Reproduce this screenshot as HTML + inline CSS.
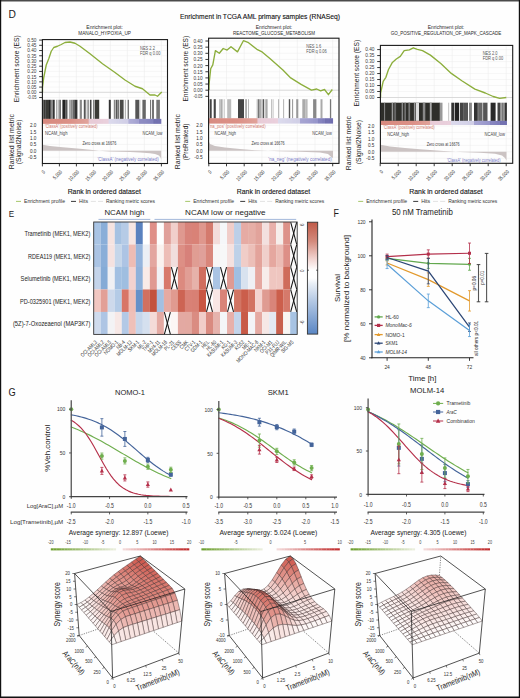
<!DOCTYPE html><html><head><meta charset="utf-8"><style>html,body{margin:0;padding:0;background:#fff;}svg{display:block;}</style></head><body>
<svg width="520" height="698" viewBox="0 0 520 698" font-family='"Liberation Sans", sans-serif'>
<rect x="0" y="0" width="520" height="698" fill="#fefefe"/>
<text x="8.4" y="18.2" font-size="11.25" fill="#1a1a1a" textLength="7.4" lengthAdjust="spacingAndGlyphs">D</text>
<text x="180" y="19.2" font-size="7.75" fill="#111" textLength="160" lengthAdjust="spacingAndGlyphs" stroke="#111" stroke-width="0.12">Enrichment in TCGA AML primary samples (RNASeq)</text>
<line x1="59.4" y1="40.6" x2="59.4" y2="99.8" stroke="#e6e6e6" stroke-width="0.4"/>
<line x1="59.4" y1="123.8" x2="59.4" y2="163.5" stroke="#e6e6e6" stroke-width="0.4"/>
<line x1="76.4" y1="40.6" x2="76.4" y2="99.8" stroke="#e6e6e6" stroke-width="0.4"/>
<line x1="76.4" y1="123.8" x2="76.4" y2="163.5" stroke="#e6e6e6" stroke-width="0.4"/>
<line x1="93.4" y1="40.6" x2="93.4" y2="99.8" stroke="#e6e6e6" stroke-width="0.4"/>
<line x1="93.4" y1="123.8" x2="93.4" y2="163.5" stroke="#e6e6e6" stroke-width="0.4"/>
<line x1="110.4" y1="40.6" x2="110.4" y2="99.8" stroke="#e6e6e6" stroke-width="0.4"/>
<line x1="110.4" y1="123.8" x2="110.4" y2="163.5" stroke="#e6e6e6" stroke-width="0.4"/>
<line x1="127.4" y1="40.6" x2="127.4" y2="99.8" stroke="#e6e6e6" stroke-width="0.4"/>
<line x1="127.4" y1="123.8" x2="127.4" y2="163.5" stroke="#e6e6e6" stroke-width="0.4"/>
<line x1="144.4" y1="40.6" x2="144.4" y2="99.8" stroke="#e6e6e6" stroke-width="0.4"/>
<line x1="144.4" y1="123.8" x2="144.4" y2="163.5" stroke="#e6e6e6" stroke-width="0.4"/>
<line x1="161.4" y1="40.6" x2="161.4" y2="99.8" stroke="#e6e6e6" stroke-width="0.4"/>
<line x1="161.4" y1="123.8" x2="161.4" y2="163.5" stroke="#e6e6e6" stroke-width="0.4"/>
<line x1="42.4" y1="45.32" x2="167.5" y2="45.32" stroke="#ececec" stroke-width="0.4"/>
<line x1="42.4" y1="50.54" x2="167.5" y2="50.54" stroke="#ececec" stroke-width="0.4"/>
<line x1="42.4" y1="55.76" x2="167.5" y2="55.76" stroke="#ececec" stroke-width="0.4"/>
<line x1="42.4" y1="60.98" x2="167.5" y2="60.98" stroke="#ececec" stroke-width="0.4"/>
<line x1="42.4" y1="66.2" x2="167.5" y2="66.2" stroke="#ececec" stroke-width="0.4"/>
<line x1="42.4" y1="71.42" x2="167.5" y2="71.42" stroke="#ececec" stroke-width="0.4"/>
<line x1="42.4" y1="76.64" x2="167.5" y2="76.64" stroke="#ececec" stroke-width="0.4"/>
<line x1="42.4" y1="81.86" x2="167.5" y2="81.86" stroke="#ececec" stroke-width="0.4"/>
<line x1="42.4" y1="87.08" x2="167.5" y2="87.08" stroke="#ececec" stroke-width="0.4"/>
<line x1="42.4" y1="92.3" x2="167.5" y2="92.3" stroke="#ececec" stroke-width="0.4"/>
<line x1="42.4" y1="97.52" x2="167.5" y2="97.52" stroke="#ececec" stroke-width="0.4"/>
<line x1="42.4" y1="92.3" x2="167.5" y2="92.3" stroke="#c8c8c8" stroke-width="0.6"/>
<line x1="42.4" y1="125.4" x2="167.5" y2="125.4" stroke="#ececec" stroke-width="0.4"/>
<line x1="42.4" y1="131.75" x2="167.5" y2="131.75" stroke="#ececec" stroke-width="0.4"/>
<line x1="42.4" y1="138.1" x2="167.5" y2="138.1" stroke="#ececec" stroke-width="0.4"/>
<line x1="42.4" y1="144.45" x2="167.5" y2="144.45" stroke="#ececec" stroke-width="0.4"/>
<line x1="42.4" y1="150.8" x2="167.5" y2="150.8" stroke="#ececec" stroke-width="0.4"/>
<line x1="42.4" y1="157.15" x2="167.5" y2="157.15" stroke="#ececec" stroke-width="0.4"/>
<rect x="42.4" y="99.8" width="1.1" height="19.1" fill="#222"/>
<rect x="43.5" y="99.8" width="1.5" height="19.1" fill="#3a3a36"/>
<rect x="45" y="99.8" width="1" height="19.1" fill="#555"/>
<rect x="46" y="99.8" width="3" height="19.1" fill="#3a3a36"/>
<rect x="49" y="99.8" width="1.8" height="19.1" fill="#222"/>
<rect x="50.8" y="99.8" width="2" height="19.1" fill="#888"/>
<rect x="52.8" y="99.8" width="1.9" height="19.1" fill="#333"/>
<rect x="56.2" y="99.8" width="1.2" height="19.1" fill="#999"/>
<rect x="57.4" y="99.8" width="1.1" height="19.1" fill="#ddd"/>
<rect x="58.5" y="99.8" width="1.1" height="19.1" fill="#888"/>
<rect x="59.6" y="99.8" width="1.2" height="19.1" fill="#555"/>
<rect x="62.4" y="99.8" width="2.6" height="19.1" fill="#222"/>
<rect x="65" y="99.8" width="1.2" height="19.1" fill="#666"/>
<rect x="66.2" y="99.8" width="1.2" height="19.1" fill="#333"/>
<rect x="68.9" y="99.8" width="2.1" height="19.1" fill="#aaa"/>
<rect x="71" y="99.8" width="1.7" height="19.1" fill="#888"/>
<rect x="72.7" y="99.8" width="1.6" height="19.1" fill="#666"/>
<rect x="74.3" y="99.8" width="3.1" height="19.1" fill="#333"/>
<rect x="79.7" y="99.8" width="2.2" height="19.1" fill="#888"/>
<rect x="83.8" y="99.8" width="2" height="19.1" fill="#555"/>
<rect x="85.8" y="99.8" width="1.5" height="19.1" fill="#ddd"/>
<rect x="87.3" y="99.8" width="1.9" height="19.1" fill="#999"/>
<rect x="90" y="99.8" width="1.5" height="19.1" fill="#444"/>
<rect x="93.1" y="99.8" width="1.5" height="19.1" fill="#777"/>
<rect x="95" y="99.8" width="4.2" height="19.1" fill="#3a3a36"/>
<rect x="108.8" y="99.8" width="2" height="19.1" fill="#333"/>
<rect x="113.8" y="99.8" width="1.6" height="19.1" fill="#888"/>
<rect x="115.8" y="99.8" width="1.7" height="19.1" fill="#555"/>
<rect x="117.5" y="99.8" width="1.7" height="19.1" fill="#777"/>
<rect x="119.9" y="99.8" width="3.7" height="19.1" fill="#4a4a48"/>
<rect x="124.9" y="99.8" width="0.7" height="19.1" fill="#888"/>
<rect x="127.6" y="99.8" width="1.3" height="19.1" fill="#666"/>
<rect x="135.3" y="99.8" width="3.7" height="19.1" fill="#555"/>
<rect x="139.5" y="99.8" width="0.7" height="19.1" fill="#888"/>
<rect x="142.4" y="99.8" width="3.4" height="19.1" fill="#666"/>
<rect x="150" y="99.8" width="1.1" height="19.1" fill="#777"/>
<rect x="152.2" y="99.8" width="1.6" height="19.1" fill="#555"/>
<rect x="156.3" y="99.8" width="3.6" height="19.1" fill="#777"/>
<rect x="42.4" y="118.9" width="0.55" height="4.9" fill="#cd6a5c"/>
<rect x="42.9" y="118.9" width="0.55" height="4.9" fill="#cd6a5c"/>
<rect x="43.4" y="118.9" width="0.55" height="4.9" fill="#cd6a5d"/>
<rect x="43.91" y="118.9" width="0.55" height="4.9" fill="#cd6b5d"/>
<rect x="44.41" y="118.9" width="0.55" height="4.9" fill="#cd6b5d"/>
<rect x="44.91" y="118.9" width="0.55" height="4.9" fill="#ce6b5d"/>
<rect x="45.41" y="118.9" width="0.55" height="4.9" fill="#ce6b5d"/>
<rect x="45.91" y="118.9" width="0.55" height="4.9" fill="#ce6b5e"/>
<rect x="46.41" y="118.9" width="0.55" height="4.9" fill="#ce6c5e"/>
<rect x="46.92" y="118.9" width="0.55" height="4.9" fill="#ce6c5e"/>
<rect x="47.42" y="118.9" width="0.55" height="4.9" fill="#ce6c5e"/>
<rect x="47.92" y="118.9" width="0.55" height="4.9" fill="#ce6c5f"/>
<rect x="48.42" y="118.9" width="0.55" height="4.9" fill="#ce6c5f"/>
<rect x="48.92" y="118.9" width="0.55" height="4.9" fill="#ce6c5f"/>
<rect x="49.43" y="118.9" width="0.55" height="4.9" fill="#ce6d5f"/>
<rect x="49.93" y="118.9" width="0.55" height="4.9" fill="#ce6d5f"/>
<rect x="50.43" y="118.9" width="0.55" height="4.9" fill="#ce6d60"/>
<rect x="50.93" y="118.9" width="0.55" height="4.9" fill="#cf6d60"/>
<rect x="51.43" y="118.9" width="0.55" height="4.9" fill="#cf6d60"/>
<rect x="51.93" y="118.9" width="0.55" height="4.9" fill="#cf6e60"/>
<rect x="52.44" y="118.9" width="0.55" height="4.9" fill="#cf6e60"/>
<rect x="52.94" y="118.9" width="0.55" height="4.9" fill="#cf6e61"/>
<rect x="53.44" y="118.9" width="0.55" height="4.9" fill="#cf6e61"/>
<rect x="53.94" y="118.9" width="0.55" height="4.9" fill="#cf6e61"/>
<rect x="54.44" y="118.9" width="0.55" height="4.9" fill="#cf6e61"/>
<rect x="54.95" y="118.9" width="0.55" height="4.9" fill="#cf6f62"/>
<rect x="55.45" y="118.9" width="0.55" height="4.9" fill="#cf6f62"/>
<rect x="55.95" y="118.9" width="0.55" height="4.9" fill="#d06f62"/>
<rect x="56.45" y="118.9" width="0.55" height="4.9" fill="#d06f62"/>
<rect x="56.95" y="118.9" width="0.55" height="4.9" fill="#d06f62"/>
<rect x="57.45" y="118.9" width="0.55" height="4.9" fill="#d07063"/>
<rect x="57.96" y="118.9" width="0.55" height="4.9" fill="#d07063"/>
<rect x="58.46" y="118.9" width="0.55" height="4.9" fill="#d07063"/>
<rect x="58.96" y="118.9" width="0.55" height="4.9" fill="#d07063"/>
<rect x="59.46" y="118.9" width="0.55" height="4.9" fill="#d07064"/>
<rect x="59.96" y="118.9" width="0.55" height="4.9" fill="#d07064"/>
<rect x="60.47" y="118.9" width="0.55" height="4.9" fill="#d07164"/>
<rect x="60.97" y="118.9" width="0.55" height="4.9" fill="#d07164"/>
<rect x="61.47" y="118.9" width="0.55" height="4.9" fill="#d07164"/>
<rect x="61.97" y="118.9" width="0.55" height="4.9" fill="#d17165"/>
<rect x="62.47" y="118.9" width="0.55" height="4.9" fill="#d17165"/>
<rect x="62.97" y="118.9" width="0.55" height="4.9" fill="#d17265"/>
<rect x="63.48" y="118.9" width="0.55" height="4.9" fill="#d17265"/>
<rect x="63.98" y="118.9" width="0.55" height="4.9" fill="#d17265"/>
<rect x="64.48" y="118.9" width="0.55" height="4.9" fill="#d17266"/>
<rect x="64.98" y="118.9" width="0.55" height="4.9" fill="#d17266"/>
<rect x="65.48" y="118.9" width="0.55" height="4.9" fill="#d17266"/>
<rect x="65.99" y="118.9" width="0.55" height="4.9" fill="#d17366"/>
<rect x="66.49" y="118.9" width="0.55" height="4.9" fill="#d17367"/>
<rect x="66.99" y="118.9" width="0.55" height="4.9" fill="#d27367"/>
<rect x="67.49" y="118.9" width="0.55" height="4.9" fill="#d27367"/>
<rect x="67.99" y="118.9" width="0.55" height="4.9" fill="#d27367"/>
<rect x="68.49" y="118.9" width="0.55" height="4.9" fill="#d27467"/>
<rect x="69" y="118.9" width="0.55" height="4.9" fill="#d27468"/>
<rect x="69.5" y="118.9" width="0.55" height="4.9" fill="#d27468"/>
<rect x="70" y="118.9" width="0.56" height="4.9" fill="#d27468"/>
<rect x="70.51" y="118.9" width="0.56" height="4.9" fill="#d27569"/>
<rect x="71.01" y="118.9" width="0.56" height="4.9" fill="#d2756a"/>
<rect x="71.52" y="118.9" width="0.56" height="4.9" fill="#d3766a"/>
<rect x="72.02" y="118.9" width="0.56" height="4.9" fill="#d3776b"/>
<rect x="72.53" y="118.9" width="0.56" height="4.9" fill="#d3776c"/>
<rect x="73.03" y="118.9" width="0.56" height="4.9" fill="#d3786c"/>
<rect x="73.54" y="118.9" width="0.56" height="4.9" fill="#d3786d"/>
<rect x="74.04" y="118.9" width="0.56" height="4.9" fill="#d3796e"/>
<rect x="74.55" y="118.9" width="0.56" height="4.9" fill="#d47a6e"/>
<rect x="75.05" y="118.9" width="0.56" height="4.9" fill="#d47a6f"/>
<rect x="75.56" y="118.9" width="0.56" height="4.9" fill="#d47b6f"/>
<rect x="76.06" y="118.9" width="0.56" height="4.9" fill="#d47b70"/>
<rect x="76.57" y="118.9" width="0.56" height="4.9" fill="#d47c71"/>
<rect x="77.08" y="118.9" width="0.56" height="4.9" fill="#d47d71"/>
<rect x="77.58" y="118.9" width="0.56" height="4.9" fill="#d57d72"/>
<rect x="78.09" y="118.9" width="0.56" height="4.9" fill="#d57e73"/>
<rect x="78.59" y="118.9" width="0.56" height="4.9" fill="#d57e73"/>
<rect x="79.1" y="118.9" width="0.56" height="4.9" fill="#d57f74"/>
<rect x="79.6" y="118.9" width="0.56" height="4.9" fill="#d58075"/>
<rect x="80.11" y="118.9" width="0.56" height="4.9" fill="#d58075"/>
<rect x="80.61" y="118.9" width="0.56" height="4.9" fill="#d58176"/>
<rect x="81.12" y="118.9" width="0.56" height="4.9" fill="#d68177"/>
<rect x="81.62" y="118.9" width="0.56" height="4.9" fill="#d68277"/>
<rect x="82.13" y="118.9" width="0.56" height="4.9" fill="#d68378"/>
<rect x="82.64" y="118.9" width="0.56" height="4.9" fill="#d68379"/>
<rect x="83.14" y="118.9" width="0.56" height="4.9" fill="#d68479"/>
<rect x="83.65" y="118.9" width="0.56" height="4.9" fill="#d6847a"/>
<rect x="84.15" y="118.9" width="0.56" height="4.9" fill="#d7857a"/>
<rect x="84.66" y="118.9" width="0.56" height="4.9" fill="#d7867b"/>
<rect x="85.16" y="118.9" width="0.56" height="4.9" fill="#d7867c"/>
<rect x="85.67" y="118.9" width="0.56" height="4.9" fill="#d7877c"/>
<rect x="86.17" y="118.9" width="0.56" height="4.9" fill="#d7877d"/>
<rect x="86.68" y="118.9" width="0.56" height="4.9" fill="#d7887e"/>
<rect x="87.18" y="118.9" width="0.56" height="4.9" fill="#d8897e"/>
<rect x="87.69" y="118.9" width="0.56" height="4.9" fill="#d8897f"/>
<rect x="88.19" y="118.9" width="0.56" height="4.9" fill="#d88a80"/>
<rect x="88.7" y="118.9" width="0.15" height="4.9" fill="#dda3a6"/>
<rect x="88.8" y="118.9" width="0.56" height="4.9" fill="#e2bccb"/>
<rect x="89.31" y="118.9" width="0.56" height="4.9" fill="#e2bccb"/>
<rect x="89.82" y="118.9" width="0.56" height="4.9" fill="#e2bdcc"/>
<rect x="90.33" y="118.9" width="0.56" height="4.9" fill="#e2bdcc"/>
<rect x="90.84" y="118.9" width="0.56" height="4.9" fill="#e2bdcc"/>
<rect x="91.35" y="118.9" width="0.56" height="4.9" fill="#e2bdcc"/>
<rect x="91.86" y="118.9" width="0.56" height="4.9" fill="#e2bdcc"/>
<rect x="92.37" y="118.9" width="0.56" height="4.9" fill="#e2becd"/>
<rect x="92.88" y="118.9" width="0.56" height="4.9" fill="#e2becd"/>
<rect x="93.39" y="118.9" width="0.56" height="4.9" fill="#e2becd"/>
<rect x="93.9" y="118.9" width="0.56" height="4.9" fill="#e3becd"/>
<rect x="94.41" y="118.9" width="0.56" height="4.9" fill="#e3bece"/>
<rect x="94.92" y="118.9" width="0.56" height="4.9" fill="#e3bfce"/>
<rect x="95.43" y="118.9" width="0.56" height="4.9" fill="#e3bfce"/>
<rect x="95.94" y="118.9" width="0.56" height="4.9" fill="#e3bfce"/>
<rect x="96.45" y="118.9" width="0.56" height="4.9" fill="#e3bfcf"/>
<rect x="96.96" y="118.9" width="0.56" height="4.9" fill="#e3bfcf"/>
<rect x="97.47" y="118.9" width="0.56" height="4.9" fill="#e3c0cf"/>
<rect x="97.98" y="118.9" width="0.56" height="4.9" fill="#e3c0cf"/>
<rect x="98.49" y="118.9" width="0.56" height="4.9" fill="#e3c0d0"/>
<rect x="99.01" y="118.9" width="0.56" height="4.9" fill="#e3c0d0"/>
<rect x="99.52" y="118.9" width="0.56" height="4.9" fill="#e3c0d0"/>
<rect x="100.03" y="118.9" width="0.56" height="4.9" fill="#e3c1d0"/>
<rect x="100.54" y="118.9" width="0.56" height="4.9" fill="#e3c1d0"/>
<rect x="101.05" y="118.9" width="0.56" height="4.9" fill="#e3c1d1"/>
<rect x="101.56" y="118.9" width="0.56" height="4.9" fill="#e3c1d1"/>
<rect x="102.07" y="118.9" width="0.56" height="4.9" fill="#e3c1d1"/>
<rect x="102.58" y="118.9" width="0.56" height="4.9" fill="#e3c2d1"/>
<rect x="103.09" y="118.9" width="0.56" height="4.9" fill="#e3c2d2"/>
<rect x="103.6" y="118.9" width="0.56" height="4.9" fill="#e4c2d2"/>
<rect x="104.11" y="118.9" width="0.56" height="4.9" fill="#e4c2d2"/>
<rect x="104.62" y="118.9" width="0.56" height="4.9" fill="#e4c2d2"/>
<rect x="105.13" y="118.9" width="0.56" height="4.9" fill="#e4c3d2"/>
<rect x="105.64" y="118.9" width="0.56" height="4.9" fill="#e4c3d3"/>
<rect x="106.15" y="118.9" width="0.56" height="4.9" fill="#e4c3d3"/>
<rect x="106.66" y="118.9" width="0.56" height="4.9" fill="#e4c3d3"/>
<rect x="107.17" y="118.9" width="0.56" height="4.9" fill="#e4c3d3"/>
<rect x="107.68" y="118.9" width="0.56" height="4.9" fill="#e4c4d4"/>
<rect x="108.19" y="118.9" width="0.56" height="4.9" fill="#e4c4d4"/>
<rect x="108.7" y="118.9" width="0.15" height="4.9" fill="#dbcade"/>
<rect x="108.8" y="118.9" width="0.56" height="4.9" fill="#d2d0e8"/>
<rect x="109.31" y="118.9" width="0.56" height="4.9" fill="#d1cfe8"/>
<rect x="109.81" y="118.9" width="0.56" height="4.9" fill="#d1cfe7"/>
<rect x="110.32" y="118.9" width="0.56" height="4.9" fill="#d1cfe7"/>
<rect x="110.82" y="118.9" width="0.56" height="4.9" fill="#d0cee7"/>
<rect x="111.33" y="118.9" width="0.56" height="4.9" fill="#d0cee7"/>
<rect x="111.83" y="118.9" width="0.56" height="4.9" fill="#d0cee7"/>
<rect x="112.34" y="118.9" width="0.56" height="4.9" fill="#cfcde6"/>
<rect x="112.84" y="118.9" width="0.56" height="4.9" fill="#cfcde6"/>
<rect x="113.35" y="118.9" width="0.56" height="4.9" fill="#cfcde6"/>
<rect x="113.85" y="118.9" width="0.56" height="4.9" fill="#cecce6"/>
<rect x="114.36" y="118.9" width="0.56" height="4.9" fill="#cecce6"/>
<rect x="114.86" y="118.9" width="0.56" height="4.9" fill="#cecce5"/>
<rect x="115.37" y="118.9" width="0.56" height="4.9" fill="#cdcbe5"/>
<rect x="115.87" y="118.9" width="0.56" height="4.9" fill="#cdcbe5"/>
<rect x="116.38" y="118.9" width="0.56" height="4.9" fill="#cccae5"/>
<rect x="116.88" y="118.9" width="0.56" height="4.9" fill="#cccae5"/>
<rect x="117.39" y="118.9" width="0.56" height="4.9" fill="#cccae4"/>
<rect x="117.89" y="118.9" width="0.56" height="4.9" fill="#cbc9e4"/>
<rect x="118.4" y="118.9" width="0.56" height="4.9" fill="#cbc9e4"/>
<rect x="118.9" y="118.9" width="0.56" height="4.9" fill="#cbc9e4"/>
<rect x="119.41" y="118.9" width="0.56" height="4.9" fill="#cac8e4"/>
<rect x="119.91" y="118.9" width="0.56" height="4.9" fill="#cac8e3"/>
<rect x="120.42" y="118.9" width="0.56" height="4.9" fill="#cac8e3"/>
<rect x="120.92" y="118.9" width="0.56" height="4.9" fill="#c9c7e3"/>
<rect x="121.43" y="118.9" width="0.56" height="4.9" fill="#c9c7e3"/>
<rect x="121.93" y="118.9" width="0.56" height="4.9" fill="#c8c6e3"/>
<rect x="122.44" y="118.9" width="0.56" height="4.9" fill="#c8c6e2"/>
<rect x="122.94" y="118.9" width="0.56" height="4.9" fill="#c8c6e2"/>
<rect x="123.45" y="118.9" width="0.56" height="4.9" fill="#c7c5e2"/>
<rect x="123.95" y="118.9" width="0.56" height="4.9" fill="#c7c5e2"/>
<rect x="124.46" y="118.9" width="0.56" height="4.9" fill="#c7c5e2"/>
<rect x="124.96" y="118.9" width="0.56" height="4.9" fill="#c6c4e1"/>
<rect x="125.47" y="118.9" width="0.56" height="4.9" fill="#c6c4e1"/>
<rect x="125.97" y="118.9" width="0.56" height="4.9" fill="#c6c4e1"/>
<rect x="126.48" y="118.9" width="0.56" height="4.9" fill="#c5c3e1"/>
<rect x="126.98" y="118.9" width="0.56" height="4.9" fill="#c5c3e1"/>
<rect x="127.49" y="118.9" width="0.56" height="4.9" fill="#c5c3e0"/>
<rect x="127.99" y="118.9" width="0.56" height="4.9" fill="#c4c2e0"/>
<rect x="128.5" y="118.9" width="0.15" height="4.9" fill="#afadd6"/>
<rect x="128.6" y="118.9" width="0.57" height="4.9" fill="#9a98cc"/>
<rect x="129.12" y="118.9" width="0.57" height="4.9" fill="#9997cb"/>
<rect x="129.64" y="118.9" width="0.57" height="4.9" fill="#9896cb"/>
<rect x="130.16" y="118.9" width="0.57" height="4.9" fill="#9795cb"/>
<rect x="130.68" y="118.9" width="0.57" height="4.9" fill="#9694ca"/>
<rect x="131.2" y="118.9" width="0.57" height="4.9" fill="#9694ca"/>
<rect x="131.72" y="118.9" width="0.57" height="4.9" fill="#9593c9"/>
<rect x="132.24" y="118.9" width="0.57" height="4.9" fill="#9492c9"/>
<rect x="132.76" y="118.9" width="0.57" height="4.9" fill="#9391c9"/>
<rect x="133.28" y="118.9" width="0.57" height="4.9" fill="#9290c8"/>
<rect x="133.8" y="118.9" width="0.57" height="4.9" fill="#9290c8"/>
<rect x="134.32" y="118.9" width="0.57" height="4.9" fill="#918fc7"/>
<rect x="134.84" y="118.9" width="0.57" height="4.9" fill="#908ec7"/>
<rect x="135.36" y="118.9" width="0.57" height="4.9" fill="#8f8dc7"/>
<rect x="135.88" y="118.9" width="0.57" height="4.9" fill="#8e8cc6"/>
<rect x="136.4" y="118.9" width="0.57" height="4.9" fill="#8e8cc6"/>
<rect x="136.92" y="118.9" width="0.57" height="4.9" fill="#8d8bc5"/>
<rect x="137.44" y="118.9" width="0.57" height="4.9" fill="#8c8ac5"/>
<rect x="137.96" y="118.9" width="0.57" height="4.9" fill="#8b89c5"/>
<rect x="138.48" y="118.9" width="0.57" height="4.9" fill="#8a88c4"/>
<rect x="139" y="118.9" width="0.15" height="4.9" fill="#7c7abb"/>
<rect x="139.1" y="118.9" width="0.56" height="4.9" fill="#6e6cb2"/>
<rect x="139.61" y="118.9" width="0.56" height="4.9" fill="#6d6bb2"/>
<rect x="140.13" y="118.9" width="0.56" height="4.9" fill="#6d6bb1"/>
<rect x="140.64" y="118.9" width="0.56" height="4.9" fill="#6c6bb1"/>
<rect x="141.16" y="118.9" width="0.56" height="4.9" fill="#6c6ab1"/>
<rect x="141.67" y="118.9" width="0.56" height="4.9" fill="#6c6ab1"/>
<rect x="142.19" y="118.9" width="0.56" height="4.9" fill="#6b6ab1"/>
<rect x="142.7" y="118.9" width="0.56" height="4.9" fill="#6b69b0"/>
<rect x="143.21" y="118.9" width="0.56" height="4.9" fill="#6a69b0"/>
<rect x="143.73" y="118.9" width="0.56" height="4.9" fill="#6a69b0"/>
<rect x="144.24" y="118.9" width="0.56" height="4.9" fill="#6a68b0"/>
<rect x="144.76" y="118.9" width="0.56" height="4.9" fill="#6968b0"/>
<rect x="145.27" y="118.9" width="0.56" height="4.9" fill="#6968af"/>
<rect x="145.79" y="118.9" width="0.56" height="4.9" fill="#6867af"/>
<rect x="146.3" y="118.9" width="0.56" height="4.9" fill="#6867af"/>
<rect x="146.81" y="118.9" width="0.56" height="4.9" fill="#6766af"/>
<rect x="147.33" y="118.9" width="0.56" height="4.9" fill="#6766ae"/>
<rect x="147.84" y="118.9" width="0.56" height="4.9" fill="#6666ae"/>
<rect x="148.36" y="118.9" width="0.56" height="4.9" fill="#6665ae"/>
<rect x="148.87" y="118.9" width="0.56" height="4.9" fill="#6665ae"/>
<rect x="149.39" y="118.9" width="0.56" height="4.9" fill="#6565ae"/>
<rect x="149.9" y="118.9" width="0.56" height="4.9" fill="#6564ad"/>
<rect x="150.41" y="118.9" width="0.56" height="4.9" fill="#6464ad"/>
<rect x="150.93" y="118.9" width="0.56" height="4.9" fill="#6464ad"/>
<rect x="151.44" y="118.9" width="0.56" height="4.9" fill="#6463ad"/>
<rect x="151.96" y="118.9" width="0.56" height="4.9" fill="#6363ad"/>
<rect x="152.47" y="118.9" width="0.56" height="4.9" fill="#6363ac"/>
<rect x="152.99" y="118.9" width="0.56" height="4.9" fill="#6262ac"/>
<rect x="153.5" y="118.9" width="0.15" height="4.9" fill="#5756a3"/>
<rect x="153.6" y="118.9" width="0.56" height="4.9" fill="#4c4a9a"/>
<rect x="154.11" y="118.9" width="0.56" height="4.9" fill="#4c4a9a"/>
<rect x="154.61" y="118.9" width="0.56" height="4.9" fill="#4c4a9a"/>
<rect x="155.12" y="118.9" width="0.56" height="4.9" fill="#4c4a9a"/>
<rect x="155.63" y="118.9" width="0.56" height="4.9" fill="#4b499a"/>
<rect x="156.13" y="118.9" width="0.56" height="4.9" fill="#4b499a"/>
<rect x="156.64" y="118.9" width="0.56" height="4.9" fill="#4b499a"/>
<rect x="157.15" y="118.9" width="0.56" height="4.9" fill="#4b499a"/>
<rect x="157.65" y="118.9" width="0.56" height="4.9" fill="#4b499a"/>
<rect x="158.16" y="118.9" width="0.56" height="4.9" fill="#4b499a"/>
<rect x="158.67" y="118.9" width="0.56" height="4.9" fill="#4b499a"/>
<rect x="159.17" y="118.9" width="0.56" height="4.9" fill="#4a489a"/>
<rect x="159.68" y="118.9" width="0.56" height="4.9" fill="#4a489a"/>
<rect x="160.19" y="118.9" width="0.56" height="4.9" fill="#4a489a"/>
<rect x="160.69" y="118.9" width="0.56" height="4.9" fill="#4a489a"/>
<polygon points="42.4,150.8 42.6,144.8 50,146 60,147 80,148.8 95,150.2 99,150.8 110,151.5 130,152 140,152.5 150,153.2 155,154 159,155.5 160.5,157.5 161.2,159.5 161.2,150.8" fill="#cbc3c3" stroke="none" stroke-width="1"/>
<polyline points="42.5,92.3 42.5,87.5 43.75,77.5 46.25,65 48.75,58.75 51.25,51.25 53.75,47.5 57.5,46.25 61.25,44.5 65,42.5 70,42 75,43.25 80,46.25 90,53.75 102.5,63.75 115,72.5 125,80 135,86.25 142.5,88.75 150,95 155,95 157.5,96.25 161.75,92" fill="none" stroke="#8cae3c" stroke-width="1.35" stroke-linejoin="round"/>
<rect x="42.4" y="39.6" width="125.1" height="123.9" fill="none" stroke="#1a1a1a" stroke-width="1.1"/>
<line x1="39.2" y1="40.1" x2="42.4" y2="40.1" stroke="#222" stroke-width="0.9"/>
<text x="36.4" y="42" font-size="5.25" fill="#3a3a3a" text-anchor="end" textLength="9.2" lengthAdjust="spacingAndGlyphs">0.50</text>
<line x1="39.2" y1="45.32" x2="42.4" y2="45.32" stroke="#222" stroke-width="0.9"/>
<text x="36.4" y="47.22" font-size="5.25" fill="#3a3a3a" text-anchor="end" textLength="9.2" lengthAdjust="spacingAndGlyphs">0.45</text>
<line x1="39.2" y1="50.54" x2="42.4" y2="50.54" stroke="#222" stroke-width="0.9"/>
<text x="36.4" y="52.44" font-size="5.25" fill="#3a3a3a" text-anchor="end" textLength="9.2" lengthAdjust="spacingAndGlyphs">0.40</text>
<line x1="39.2" y1="55.76" x2="42.4" y2="55.76" stroke="#222" stroke-width="0.9"/>
<text x="36.4" y="57.66" font-size="5.25" fill="#3a3a3a" text-anchor="end" textLength="9.2" lengthAdjust="spacingAndGlyphs">0.35</text>
<line x1="39.2" y1="60.98" x2="42.4" y2="60.98" stroke="#222" stroke-width="0.9"/>
<text x="36.4" y="62.88" font-size="5.25" fill="#3a3a3a" text-anchor="end" textLength="9.2" lengthAdjust="spacingAndGlyphs">0.30</text>
<line x1="39.2" y1="66.2" x2="42.4" y2="66.2" stroke="#222" stroke-width="0.9"/>
<text x="36.4" y="68.1" font-size="5.25" fill="#3a3a3a" text-anchor="end" textLength="9.2" lengthAdjust="spacingAndGlyphs">0.25</text>
<line x1="39.2" y1="71.42" x2="42.4" y2="71.42" stroke="#222" stroke-width="0.9"/>
<text x="36.4" y="73.32" font-size="5.25" fill="#3a3a3a" text-anchor="end" textLength="9.2" lengthAdjust="spacingAndGlyphs">0.20</text>
<line x1="39.2" y1="76.64" x2="42.4" y2="76.64" stroke="#222" stroke-width="0.9"/>
<text x="36.4" y="78.54" font-size="5.25" fill="#3a3a3a" text-anchor="end" textLength="9.2" lengthAdjust="spacingAndGlyphs">0.15</text>
<line x1="39.2" y1="81.86" x2="42.4" y2="81.86" stroke="#222" stroke-width="0.9"/>
<text x="36.4" y="83.76" font-size="5.25" fill="#3a3a3a" text-anchor="end" textLength="9.2" lengthAdjust="spacingAndGlyphs">0.10</text>
<line x1="39.2" y1="87.08" x2="42.4" y2="87.08" stroke="#222" stroke-width="0.9"/>
<text x="36.4" y="88.98" font-size="5.25" fill="#3a3a3a" text-anchor="end" textLength="9.2" lengthAdjust="spacingAndGlyphs">0.05</text>
<line x1="39.2" y1="92.3" x2="42.4" y2="92.3" stroke="#222" stroke-width="0.9"/>
<text x="36.4" y="94.2" font-size="5.25" fill="#3a3a3a" text-anchor="end" textLength="9.2" lengthAdjust="spacingAndGlyphs">0.00</text>
<line x1="39.2" y1="97.52" x2="42.4" y2="97.52" stroke="#222" stroke-width="0.9"/>
<text x="36.4" y="99.42" font-size="5.25" fill="#3a3a3a" text-anchor="end" textLength="9.2" lengthAdjust="spacingAndGlyphs">-0.05</text>
<text x="36.4" y="127.3" font-size="5.25" fill="#2a2a2a" text-anchor="end" textLength="6.4" lengthAdjust="spacingAndGlyphs">2.0</text>
<text x="36.4" y="133.65" font-size="5.25" fill="#2a2a2a" text-anchor="end" textLength="6.4" lengthAdjust="spacingAndGlyphs">1.5</text>
<text x="36.4" y="140" font-size="5.25" fill="#2a2a2a" text-anchor="end" textLength="6.4" lengthAdjust="spacingAndGlyphs">1.0</text>
<text x="36.4" y="146.35" font-size="5.25" fill="#2a2a2a" text-anchor="end" textLength="6.4" lengthAdjust="spacingAndGlyphs">0.5</text>
<text x="36.4" y="152.7" font-size="5.25" fill="#2a2a2a" text-anchor="end" textLength="6.4" lengthAdjust="spacingAndGlyphs">0.0</text>
<text x="36.4" y="159.05" font-size="5.25" fill="#2a2a2a" text-anchor="end" textLength="8.3" lengthAdjust="spacingAndGlyphs">-0.5</text>
<line x1="42.4" y1="163.5" x2="42.4" y2="166.4" stroke="#222" stroke-width="0.9"/>
<text x="45.5" y="172.4" font-size="5.25" fill="#2a2a2a" text-anchor="end" transform="rotate(-45 45.5 172.4)" textLength="2.34" lengthAdjust="spacingAndGlyphs">0</text>
<line x1="59.4" y1="163.5" x2="59.4" y2="166.4" stroke="#222" stroke-width="0.9"/>
<text x="62.5" y="172.4" font-size="5.25" fill="#2a2a2a" text-anchor="end" transform="rotate(-45 62.5 172.4)" textLength="10.51" lengthAdjust="spacingAndGlyphs">5,000</text>
<line x1="76.4" y1="163.5" x2="76.4" y2="166.4" stroke="#222" stroke-width="0.9"/>
<text x="79.5" y="172.4" font-size="5.25" fill="#2a2a2a" text-anchor="end" transform="rotate(-45 79.5 172.4)" textLength="12.85" lengthAdjust="spacingAndGlyphs">10,000</text>
<line x1="93.4" y1="163.5" x2="93.4" y2="166.4" stroke="#222" stroke-width="0.9"/>
<text x="96.5" y="172.4" font-size="5.25" fill="#2a2a2a" text-anchor="end" transform="rotate(-45 96.5 172.4)" textLength="12.85" lengthAdjust="spacingAndGlyphs">15,000</text>
<line x1="110.4" y1="163.5" x2="110.4" y2="166.4" stroke="#222" stroke-width="0.9"/>
<text x="113.5" y="172.4" font-size="5.25" fill="#2a2a2a" text-anchor="end" transform="rotate(-45 113.5 172.4)" textLength="12.85" lengthAdjust="spacingAndGlyphs">20,000</text>
<line x1="127.4" y1="163.5" x2="127.4" y2="166.4" stroke="#222" stroke-width="0.9"/>
<text x="130.5" y="172.4" font-size="5.25" fill="#2a2a2a" text-anchor="end" transform="rotate(-45 130.5 172.4)" textLength="12.85" lengthAdjust="spacingAndGlyphs">25,000</text>
<line x1="144.4" y1="163.5" x2="144.4" y2="166.4" stroke="#222" stroke-width="0.9"/>
<text x="147.5" y="172.4" font-size="5.25" fill="#2a2a2a" text-anchor="end" transform="rotate(-45 147.5 172.4)" textLength="12.85" lengthAdjust="spacingAndGlyphs">30,000</text>
<line x1="161.4" y1="163.5" x2="161.4" y2="166.4" stroke="#222" stroke-width="0.9"/>
<text x="164.5" y="172.4" font-size="5.25" fill="#2a2a2a" text-anchor="end" transform="rotate(-45 164.5 172.4)" textLength="12.85" lengthAdjust="spacingAndGlyphs">35,000</text>
<text x="104.3" y="193.6" font-size="7.56" fill="#1a1a1a" text-anchor="middle" textLength="73.3" lengthAdjust="spacingAndGlyphs" stroke="#1a1a1a" stroke-width="0.15">Rank in ordered dataset</text>
<text x="19" y="68.8" font-size="7.56" fill="#222" text-anchor="middle" transform="rotate(-90 19 68.8)" textLength="67" lengthAdjust="spacingAndGlyphs">Enrichment score (ES)</text>
<text x="14" y="141.6" font-size="7.56" fill="#222" text-anchor="middle" transform="rotate(-90 14 141.6)" textLength="55.3" lengthAdjust="spacingAndGlyphs">Ranked list metric</text>
<text x="21.2" y="141.9" font-size="7.56" fill="#222" text-anchor="middle" transform="rotate(-90 21.2 141.9)" textLength="44.6" lengthAdjust="spacingAndGlyphs">(Signal2Noise)</text>
<text x="104.6" y="28.8" font-size="5.5" fill="#2a2a2a" text-anchor="middle" textLength="36.5" lengthAdjust="spacingAndGlyphs">Enrichment plot:</text>
<text x="104.6" y="35.2" font-size="5.5" fill="#2a2a2a" text-anchor="middle" textLength="52.8" lengthAdjust="spacingAndGlyphs">MANALO_HYPOXIA_UP</text>
<text x="140" y="50.2" font-size="5" fill="#555" textLength="14.9" lengthAdjust="spacingAndGlyphs">NES 2.2</text>
<text x="140" y="55.2" font-size="5" fill="#555" textLength="20.45" lengthAdjust="spacingAndGlyphs">FDR q 0.00</text>
<text x="45" y="127.8" font-size="4.88" fill="#d0786c" textLength="52.5" lengthAdjust="spacingAndGlyphs">'ClassA' (positively correlated)</text>
<text x="45" y="135.3" font-size="4.88" fill="#444" textLength="22.5" lengthAdjust="spacingAndGlyphs">NCAM_high</text>
<text x="162.5" y="135.3" font-size="4.88" fill="#444" text-anchor="end" textLength="20" lengthAdjust="spacingAndGlyphs">NCAM_low</text>
<text x="99.4" y="145.3" font-size="4.88" fill="#444" text-anchor="middle" textLength="33.7" lengthAdjust="spacingAndGlyphs">Zero cross at 16676</text>
<text x="97.5" y="161" font-size="4.88" fill="#7777c4" textLength="61.2" lengthAdjust="spacingAndGlyphs">'ClassA' (negatively correlated)</text>
<line x1="226.5" y1="39.2" x2="226.5" y2="99.2" stroke="#e6e6e6" stroke-width="0.4"/>
<line x1="226.5" y1="123.5" x2="226.5" y2="163.4" stroke="#e6e6e6" stroke-width="0.4"/>
<line x1="244.2" y1="39.2" x2="244.2" y2="99.2" stroke="#e6e6e6" stroke-width="0.4"/>
<line x1="244.2" y1="123.5" x2="244.2" y2="163.4" stroke="#e6e6e6" stroke-width="0.4"/>
<line x1="261.9" y1="39.2" x2="261.9" y2="99.2" stroke="#e6e6e6" stroke-width="0.4"/>
<line x1="261.9" y1="123.5" x2="261.9" y2="163.4" stroke="#e6e6e6" stroke-width="0.4"/>
<line x1="279.6" y1="39.2" x2="279.6" y2="99.2" stroke="#e6e6e6" stroke-width="0.4"/>
<line x1="279.6" y1="123.5" x2="279.6" y2="163.4" stroke="#e6e6e6" stroke-width="0.4"/>
<line x1="297.3" y1="39.2" x2="297.3" y2="99.2" stroke="#e6e6e6" stroke-width="0.4"/>
<line x1="297.3" y1="123.5" x2="297.3" y2="163.4" stroke="#e6e6e6" stroke-width="0.4"/>
<line x1="315" y1="39.2" x2="315" y2="99.2" stroke="#e6e6e6" stroke-width="0.4"/>
<line x1="315" y1="123.5" x2="315" y2="163.4" stroke="#e6e6e6" stroke-width="0.4"/>
<line x1="332.7" y1="39.2" x2="332.7" y2="99.2" stroke="#e6e6e6" stroke-width="0.4"/>
<line x1="332.7" y1="123.5" x2="332.7" y2="163.4" stroke="#e6e6e6" stroke-width="0.4"/>
<line x1="208.6" y1="41" x2="339" y2="41" stroke="#ececec" stroke-width="0.4"/>
<line x1="208.6" y1="47.15" x2="339" y2="47.15" stroke="#ececec" stroke-width="0.4"/>
<line x1="208.6" y1="53.3" x2="339" y2="53.3" stroke="#ececec" stroke-width="0.4"/>
<line x1="208.6" y1="59.45" x2="339" y2="59.45" stroke="#ececec" stroke-width="0.4"/>
<line x1="208.6" y1="65.6" x2="339" y2="65.6" stroke="#ececec" stroke-width="0.4"/>
<line x1="208.6" y1="71.75" x2="339" y2="71.75" stroke="#ececec" stroke-width="0.4"/>
<line x1="208.6" y1="77.9" x2="339" y2="77.9" stroke="#ececec" stroke-width="0.4"/>
<line x1="208.6" y1="84.05" x2="339" y2="84.05" stroke="#ececec" stroke-width="0.4"/>
<line x1="208.6" y1="90.2" x2="339" y2="90.2" stroke="#ececec" stroke-width="0.4"/>
<line x1="208.6" y1="96.35" x2="339" y2="96.35" stroke="#ececec" stroke-width="0.4"/>
<line x1="208.6" y1="90.2" x2="339" y2="90.2" stroke="#c8c8c8" stroke-width="0.6"/>
<line x1="208.6" y1="125.4" x2="339" y2="125.4" stroke="#ececec" stroke-width="0.4"/>
<line x1="208.6" y1="131.75" x2="339" y2="131.75" stroke="#ececec" stroke-width="0.4"/>
<line x1="208.6" y1="138.1" x2="339" y2="138.1" stroke="#ececec" stroke-width="0.4"/>
<line x1="208.6" y1="144.45" x2="339" y2="144.45" stroke="#ececec" stroke-width="0.4"/>
<line x1="208.6" y1="150.8" x2="339" y2="150.8" stroke="#ececec" stroke-width="0.4"/>
<line x1="208.6" y1="157.15" x2="339" y2="157.15" stroke="#ececec" stroke-width="0.4"/>
<rect x="209.7" y="99.2" width="2" height="19.1" fill="#444"/>
<rect x="213.7" y="99.2" width="2.1" height="19.1" fill="#444"/>
<rect x="219.5" y="99.2" width="1" height="19.1" fill="#888"/>
<rect x="221.2" y="99.2" width="1.3" height="19.1" fill="#999"/>
<rect x="223.8" y="99.2" width="0.7" height="19.1" fill="#aaa"/>
<rect x="227.2" y="99.2" width="4" height="19.1" fill="#bbb"/>
<rect x="238" y="99.2" width="6" height="19.1" fill="#444"/>
<rect x="245.4" y="99.2" width="1.3" height="19.1" fill="#888"/>
<rect x="248" y="99.2" width="0.7" height="19.1" fill="#999"/>
<rect x="256.8" y="99.2" width="0.7" height="19.1" fill="#888"/>
<rect x="258.2" y="99.2" width="1.3" height="19.1" fill="#555"/>
<rect x="260.2" y="99.2" width="1.3" height="19.1" fill="#999"/>
<rect x="262.6" y="99.2" width="1.6" height="19.1" fill="#555"/>
<rect x="265.3" y="99.2" width="2.3" height="19.1" fill="#aaa"/>
<rect x="271" y="99.2" width="0.6" height="19.1" fill="#999"/>
<rect x="272.7" y="99.2" width="0.7" height="19.1" fill="#aaa"/>
<rect x="278.3" y="99.2" width="0.9" height="19.1" fill="#999"/>
<rect x="283.2" y="99.2" width="0.9" height="19.1" fill="#aaa"/>
<rect x="288.8" y="99.2" width="1.4" height="19.1" fill="#555"/>
<rect x="292.2" y="99.2" width="0.9" height="19.1" fill="#888"/>
<rect x="296.2" y="99.2" width="2.1" height="19.1" fill="#999"/>
<rect x="302.3" y="99.2" width="3.4" height="19.1" fill="#aaa"/>
<rect x="306.5" y="99.2" width="0.8" height="19.1" fill="#777"/>
<rect x="313.1" y="99.2" width="3.3" height="19.1" fill="#888"/>
<rect x="320.5" y="99.2" width="2" height="19.1" fill="#aaa"/>
<rect x="329.9" y="99.2" width="1.3" height="19.1" fill="#777"/>
<rect x="208.6" y="118.3" width="0.56" height="5.2" fill="#cd6a5c"/>
<rect x="209.11" y="118.3" width="0.56" height="5.2" fill="#cd6a5c"/>
<rect x="209.61" y="118.3" width="0.56" height="5.2" fill="#cd6a5d"/>
<rect x="210.12" y="118.3" width="0.56" height="5.2" fill="#cd6b5d"/>
<rect x="210.63" y="118.3" width="0.56" height="5.2" fill="#cd6b5d"/>
<rect x="211.13" y="118.3" width="0.56" height="5.2" fill="#cd6b5d"/>
<rect x="211.64" y="118.3" width="0.56" height="5.2" fill="#ce6b5d"/>
<rect x="212.15" y="118.3" width="0.56" height="5.2" fill="#ce6b5e"/>
<rect x="212.66" y="118.3" width="0.56" height="5.2" fill="#ce6b5e"/>
<rect x="213.16" y="118.3" width="0.56" height="5.2" fill="#ce6c5e"/>
<rect x="213.67" y="118.3" width="0.56" height="5.2" fill="#ce6c5e"/>
<rect x="214.18" y="118.3" width="0.56" height="5.2" fill="#ce6c5e"/>
<rect x="214.68" y="118.3" width="0.56" height="5.2" fill="#ce6c5f"/>
<rect x="215.19" y="118.3" width="0.56" height="5.2" fill="#ce6c5f"/>
<rect x="215.7" y="118.3" width="0.56" height="5.2" fill="#ce6c5f"/>
<rect x="216.2" y="118.3" width="0.56" height="5.2" fill="#ce6d5f"/>
<rect x="216.71" y="118.3" width="0.56" height="5.2" fill="#ce6d5f"/>
<rect x="217.22" y="118.3" width="0.56" height="5.2" fill="#cf6d60"/>
<rect x="217.72" y="118.3" width="0.56" height="5.2" fill="#cf6d60"/>
<rect x="218.23" y="118.3" width="0.56" height="5.2" fill="#cf6d60"/>
<rect x="218.74" y="118.3" width="0.56" height="5.2" fill="#cf6e60"/>
<rect x="219.24" y="118.3" width="0.56" height="5.2" fill="#cf6e60"/>
<rect x="219.75" y="118.3" width="0.56" height="5.2" fill="#cf6e61"/>
<rect x="220.26" y="118.3" width="0.56" height="5.2" fill="#cf6e61"/>
<rect x="220.77" y="118.3" width="0.56" height="5.2" fill="#cf6e61"/>
<rect x="221.27" y="118.3" width="0.56" height="5.2" fill="#cf6e61"/>
<rect x="221.78" y="118.3" width="0.56" height="5.2" fill="#cf6f61"/>
<rect x="222.29" y="118.3" width="0.56" height="5.2" fill="#cf6f62"/>
<rect x="222.79" y="118.3" width="0.56" height="5.2" fill="#cf6f62"/>
<rect x="223.3" y="118.3" width="0.56" height="5.2" fill="#d06f62"/>
<rect x="223.81" y="118.3" width="0.56" height="5.2" fill="#d06f62"/>
<rect x="224.31" y="118.3" width="0.56" height="5.2" fill="#d06f63"/>
<rect x="224.82" y="118.3" width="0.56" height="5.2" fill="#d07063"/>
<rect x="225.33" y="118.3" width="0.56" height="5.2" fill="#d07063"/>
<rect x="225.83" y="118.3" width="0.56" height="5.2" fill="#d07063"/>
<rect x="226.34" y="118.3" width="0.56" height="5.2" fill="#d07063"/>
<rect x="226.85" y="118.3" width="0.56" height="5.2" fill="#d07064"/>
<rect x="227.36" y="118.3" width="0.56" height="5.2" fill="#d07064"/>
<rect x="227.86" y="118.3" width="0.56" height="5.2" fill="#d07164"/>
<rect x="228.37" y="118.3" width="0.56" height="5.2" fill="#d07164"/>
<rect x="228.88" y="118.3" width="0.56" height="5.2" fill="#d07164"/>
<rect x="229.38" y="118.3" width="0.56" height="5.2" fill="#d17165"/>
<rect x="229.89" y="118.3" width="0.56" height="5.2" fill="#d17165"/>
<rect x="230.4" y="118.3" width="0.56" height="5.2" fill="#d17265"/>
<rect x="230.9" y="118.3" width="0.56" height="5.2" fill="#d17265"/>
<rect x="231.41" y="118.3" width="0.56" height="5.2" fill="#d17265"/>
<rect x="231.92" y="118.3" width="0.56" height="5.2" fill="#d17266"/>
<rect x="232.42" y="118.3" width="0.56" height="5.2" fill="#d17266"/>
<rect x="232.93" y="118.3" width="0.56" height="5.2" fill="#d17266"/>
<rect x="233.44" y="118.3" width="0.56" height="5.2" fill="#d17366"/>
<rect x="233.94" y="118.3" width="0.56" height="5.2" fill="#d17366"/>
<rect x="234.45" y="118.3" width="0.56" height="5.2" fill="#d17367"/>
<rect x="234.96" y="118.3" width="0.56" height="5.2" fill="#d27367"/>
<rect x="235.47" y="118.3" width="0.56" height="5.2" fill="#d27367"/>
<rect x="235.97" y="118.3" width="0.56" height="5.2" fill="#d27367"/>
<rect x="236.48" y="118.3" width="0.56" height="5.2" fill="#d27467"/>
<rect x="236.99" y="118.3" width="0.56" height="5.2" fill="#d27468"/>
<rect x="237.49" y="118.3" width="0.56" height="5.2" fill="#d27468"/>
<rect x="238" y="118.3" width="0.55" height="5.2" fill="#d27468"/>
<rect x="238.5" y="118.3" width="0.55" height="5.2" fill="#d27569"/>
<rect x="239" y="118.3" width="0.55" height="5.2" fill="#d2756a"/>
<rect x="239.5" y="118.3" width="0.55" height="5.2" fill="#d3766a"/>
<rect x="240" y="118.3" width="0.55" height="5.2" fill="#d3776b"/>
<rect x="240.5" y="118.3" width="0.55" height="5.2" fill="#d3776b"/>
<rect x="241" y="118.3" width="0.55" height="5.2" fill="#d3786c"/>
<rect x="241.5" y="118.3" width="0.55" height="5.2" fill="#d3786d"/>
<rect x="242" y="118.3" width="0.55" height="5.2" fill="#d3796d"/>
<rect x="242.5" y="118.3" width="0.55" height="5.2" fill="#d3796e"/>
<rect x="243" y="118.3" width="0.55" height="5.2" fill="#d47a6e"/>
<rect x="243.5" y="118.3" width="0.55" height="5.2" fill="#d47a6f"/>
<rect x="244" y="118.3" width="0.55" height="5.2" fill="#d47b70"/>
<rect x="244.5" y="118.3" width="0.55" height="5.2" fill="#d47c70"/>
<rect x="245" y="118.3" width="0.55" height="5.2" fill="#d47c71"/>
<rect x="245.5" y="118.3" width="0.55" height="5.2" fill="#d47d72"/>
<rect x="246" y="118.3" width="0.55" height="5.2" fill="#d57d72"/>
<rect x="246.5" y="118.3" width="0.55" height="5.2" fill="#d57e73"/>
<rect x="247" y="118.3" width="0.55" height="5.2" fill="#d57e73"/>
<rect x="247.5" y="118.3" width="0.55" height="5.2" fill="#d57f74"/>
<rect x="248" y="118.3" width="0.55" height="5.2" fill="#d58075"/>
<rect x="248.5" y="118.3" width="0.55" height="5.2" fill="#d58075"/>
<rect x="249" y="118.3" width="0.55" height="5.2" fill="#d58176"/>
<rect x="249.5" y="118.3" width="0.55" height="5.2" fill="#d68176"/>
<rect x="250" y="118.3" width="0.55" height="5.2" fill="#d68277"/>
<rect x="250.5" y="118.3" width="0.55" height="5.2" fill="#d68278"/>
<rect x="251" y="118.3" width="0.55" height="5.2" fill="#d68378"/>
<rect x="251.5" y="118.3" width="0.55" height="5.2" fill="#d68479"/>
<rect x="252" y="118.3" width="0.55" height="5.2" fill="#d6847a"/>
<rect x="252.5" y="118.3" width="0.55" height="5.2" fill="#d7857a"/>
<rect x="253" y="118.3" width="0.55" height="5.2" fill="#d7857b"/>
<rect x="253.5" y="118.3" width="0.55" height="5.2" fill="#d7867b"/>
<rect x="254" y="118.3" width="0.55" height="5.2" fill="#d7867c"/>
<rect x="254.5" y="118.3" width="0.55" height="5.2" fill="#d7877d"/>
<rect x="255" y="118.3" width="0.55" height="5.2" fill="#d7877d"/>
<rect x="255.5" y="118.3" width="0.55" height="5.2" fill="#d7887e"/>
<rect x="256" y="118.3" width="0.55" height="5.2" fill="#d8897e"/>
<rect x="256.5" y="118.3" width="0.55" height="5.2" fill="#d8897f"/>
<rect x="257" y="118.3" width="0.55" height="5.2" fill="#d88a80"/>
<rect x="257.5" y="118.3" width="0.15" height="5.2" fill="#dda3a6"/>
<rect x="257.6" y="118.3" width="0.56" height="5.2" fill="#e2bccb"/>
<rect x="258.11" y="118.3" width="0.56" height="5.2" fill="#e2bccb"/>
<rect x="258.62" y="118.3" width="0.56" height="5.2" fill="#e2bccc"/>
<rect x="259.13" y="118.3" width="0.56" height="5.2" fill="#e2bdcc"/>
<rect x="259.64" y="118.3" width="0.56" height="5.2" fill="#e2bdcc"/>
<rect x="260.15" y="118.3" width="0.56" height="5.2" fill="#e2bdcc"/>
<rect x="260.66" y="118.3" width="0.56" height="5.2" fill="#e2bdcc"/>
<rect x="261.17" y="118.3" width="0.56" height="5.2" fill="#e2becd"/>
<rect x="261.68" y="118.3" width="0.56" height="5.2" fill="#e2becd"/>
<rect x="262.19" y="118.3" width="0.56" height="5.2" fill="#e2becd"/>
<rect x="262.7" y="118.3" width="0.56" height="5.2" fill="#e3becd"/>
<rect x="263.21" y="118.3" width="0.56" height="5.2" fill="#e3bece"/>
<rect x="263.72" y="118.3" width="0.56" height="5.2" fill="#e3bece"/>
<rect x="264.23" y="118.3" width="0.56" height="5.2" fill="#e3bfce"/>
<rect x="264.74" y="118.3" width="0.56" height="5.2" fill="#e3bfce"/>
<rect x="265.25" y="118.3" width="0.56" height="5.2" fill="#e3bfce"/>
<rect x="265.76" y="118.3" width="0.56" height="5.2" fill="#e3bfcf"/>
<rect x="266.27" y="118.3" width="0.56" height="5.2" fill="#e3c0cf"/>
<rect x="266.78" y="118.3" width="0.56" height="5.2" fill="#e3c0cf"/>
<rect x="267.29" y="118.3" width="0.56" height="5.2" fill="#e3c0cf"/>
<rect x="267.8" y="118.3" width="0.56" height="5.2" fill="#e3c0d0"/>
<rect x="268.31" y="118.3" width="0.56" height="5.2" fill="#e3c0d0"/>
<rect x="268.82" y="118.3" width="0.56" height="5.2" fill="#e3c0d0"/>
<rect x="269.33" y="118.3" width="0.56" height="5.2" fill="#e3c1d0"/>
<rect x="269.84" y="118.3" width="0.56" height="5.2" fill="#e3c1d1"/>
<rect x="270.35" y="118.3" width="0.56" height="5.2" fill="#e3c1d1"/>
<rect x="270.86" y="118.3" width="0.56" height="5.2" fill="#e3c1d1"/>
<rect x="271.37" y="118.3" width="0.56" height="5.2" fill="#e3c2d1"/>
<rect x="271.88" y="118.3" width="0.56" height="5.2" fill="#e3c2d1"/>
<rect x="272.39" y="118.3" width="0.56" height="5.2" fill="#e3c2d2"/>
<rect x="272.9" y="118.3" width="0.56" height="5.2" fill="#e4c2d2"/>
<rect x="273.41" y="118.3" width="0.56" height="5.2" fill="#e4c2d2"/>
<rect x="273.92" y="118.3" width="0.56" height="5.2" fill="#e4c2d2"/>
<rect x="274.43" y="118.3" width="0.56" height="5.2" fill="#e4c3d3"/>
<rect x="274.94" y="118.3" width="0.56" height="5.2" fill="#e4c3d3"/>
<rect x="275.45" y="118.3" width="0.56" height="5.2" fill="#e4c3d3"/>
<rect x="275.96" y="118.3" width="0.56" height="5.2" fill="#e4c3d3"/>
<rect x="276.47" y="118.3" width="0.56" height="5.2" fill="#e4c4d3"/>
<rect x="276.98" y="118.3" width="0.56" height="5.2" fill="#e4c4d4"/>
<rect x="277.49" y="118.3" width="0.56" height="5.2" fill="#e4c4d4"/>
<rect x="278" y="118.3" width="0.15" height="5.2" fill="#dbcade"/>
<rect x="278.1" y="118.3" width="0.56" height="5.2" fill="#d2d0e8"/>
<rect x="278.61" y="118.3" width="0.56" height="5.2" fill="#d2d0e8"/>
<rect x="279.12" y="118.3" width="0.56" height="5.2" fill="#d1cfe8"/>
<rect x="279.63" y="118.3" width="0.56" height="5.2" fill="#d1cfe7"/>
<rect x="280.14" y="118.3" width="0.56" height="5.2" fill="#d1cfe7"/>
<rect x="280.65" y="118.3" width="0.56" height="5.2" fill="#d0cee7"/>
<rect x="281.16" y="118.3" width="0.56" height="5.2" fill="#d0cee7"/>
<rect x="281.67" y="118.3" width="0.56" height="5.2" fill="#d0cee7"/>
<rect x="282.17" y="118.3" width="0.56" height="5.2" fill="#cfcde6"/>
<rect x="282.68" y="118.3" width="0.56" height="5.2" fill="#cfcde6"/>
<rect x="283.19" y="118.3" width="0.56" height="5.2" fill="#cfcde6"/>
<rect x="283.7" y="118.3" width="0.56" height="5.2" fill="#cecce6"/>
<rect x="284.21" y="118.3" width="0.56" height="5.2" fill="#cecce6"/>
<rect x="284.72" y="118.3" width="0.56" height="5.2" fill="#cecce5"/>
<rect x="285.23" y="118.3" width="0.56" height="5.2" fill="#cdcbe5"/>
<rect x="285.74" y="118.3" width="0.56" height="5.2" fill="#cdcbe5"/>
<rect x="286.25" y="118.3" width="0.56" height="5.2" fill="#cdcbe5"/>
<rect x="286.76" y="118.3" width="0.56" height="5.2" fill="#cccae5"/>
<rect x="287.27" y="118.3" width="0.56" height="5.2" fill="#cccae5"/>
<rect x="287.78" y="118.3" width="0.56" height="5.2" fill="#cccae4"/>
<rect x="288.29" y="118.3" width="0.56" height="5.2" fill="#cbc9e4"/>
<rect x="288.8" y="118.3" width="0.56" height="5.2" fill="#cbc9e4"/>
<rect x="289.3" y="118.3" width="0.56" height="5.2" fill="#cbc9e4"/>
<rect x="289.81" y="118.3" width="0.56" height="5.2" fill="#cac8e4"/>
<rect x="290.32" y="118.3" width="0.56" height="5.2" fill="#cac8e3"/>
<rect x="290.83" y="118.3" width="0.56" height="5.2" fill="#cac8e3"/>
<rect x="291.34" y="118.3" width="0.56" height="5.2" fill="#c9c7e3"/>
<rect x="291.85" y="118.3" width="0.56" height="5.2" fill="#c9c7e3"/>
<rect x="292.36" y="118.3" width="0.56" height="5.2" fill="#c9c7e3"/>
<rect x="292.87" y="118.3" width="0.56" height="5.2" fill="#c8c6e3"/>
<rect x="293.38" y="118.3" width="0.56" height="5.2" fill="#c8c6e2"/>
<rect x="293.89" y="118.3" width="0.56" height="5.2" fill="#c8c6e2"/>
<rect x="294.4" y="118.3" width="0.56" height="5.2" fill="#c7c5e2"/>
<rect x="294.91" y="118.3" width="0.56" height="5.2" fill="#c7c5e2"/>
<rect x="295.42" y="118.3" width="0.56" height="5.2" fill="#c7c5e2"/>
<rect x="295.93" y="118.3" width="0.56" height="5.2" fill="#c6c4e1"/>
<rect x="296.43" y="118.3" width="0.56" height="5.2" fill="#c6c4e1"/>
<rect x="296.94" y="118.3" width="0.56" height="5.2" fill="#c6c4e1"/>
<rect x="297.45" y="118.3" width="0.56" height="5.2" fill="#c5c3e1"/>
<rect x="297.96" y="118.3" width="0.56" height="5.2" fill="#c5c3e1"/>
<rect x="298.47" y="118.3" width="0.56" height="5.2" fill="#c5c3e0"/>
<rect x="298.98" y="118.3" width="0.56" height="5.2" fill="#c4c2e0"/>
<rect x="299.49" y="118.3" width="0.56" height="5.2" fill="#c4c2e0"/>
<rect x="300" y="118.3" width="0.15" height="5.2" fill="#a9a7d3"/>
<rect x="300.1" y="118.3" width="0.56" height="5.2" fill="#8e8cc6"/>
<rect x="300.61" y="118.3" width="0.56" height="5.2" fill="#8d8bc6"/>
<rect x="301.12" y="118.3" width="0.56" height="5.2" fill="#8d8bc5"/>
<rect x="301.63" y="118.3" width="0.56" height="5.2" fill="#8c8ac5"/>
<rect x="302.15" y="118.3" width="0.56" height="5.2" fill="#8b89c5"/>
<rect x="302.66" y="118.3" width="0.56" height="5.2" fill="#8b89c4"/>
<rect x="303.17" y="118.3" width="0.56" height="5.2" fill="#8a88c4"/>
<rect x="303.68" y="118.3" width="0.56" height="5.2" fill="#8a88c4"/>
<rect x="304.19" y="118.3" width="0.56" height="5.2" fill="#8987c4"/>
<rect x="304.7" y="118.3" width="0.56" height="5.2" fill="#8987c3"/>
<rect x="305.21" y="118.3" width="0.56" height="5.2" fill="#8886c3"/>
<rect x="305.73" y="118.3" width="0.56" height="5.2" fill="#8785c3"/>
<rect x="306.24" y="118.3" width="0.56" height="5.2" fill="#8785c2"/>
<rect x="306.75" y="118.3" width="0.56" height="5.2" fill="#8684c2"/>
<rect x="307.26" y="118.3" width="0.56" height="5.2" fill="#8684c2"/>
<rect x="307.77" y="118.3" width="0.56" height="5.2" fill="#8583c2"/>
<rect x="308.28" y="118.3" width="0.56" height="5.2" fill="#8583c1"/>
<rect x="308.79" y="118.3" width="0.56" height="5.2" fill="#8482c1"/>
<rect x="309.31" y="118.3" width="0.56" height="5.2" fill="#8381c1"/>
<rect x="309.82" y="118.3" width="0.56" height="5.2" fill="#8381c0"/>
<rect x="310.33" y="118.3" width="0.56" height="5.2" fill="#8280c0"/>
<rect x="310.84" y="118.3" width="0.56" height="5.2" fill="#8280c0"/>
<rect x="311.35" y="118.3" width="0.56" height="5.2" fill="#817fc0"/>
<rect x="311.86" y="118.3" width="0.56" height="5.2" fill="#817fbf"/>
<rect x="312.37" y="118.3" width="0.56" height="5.2" fill="#807ebf"/>
<rect x="312.89" y="118.3" width="0.56" height="5.2" fill="#7f7dbf"/>
<rect x="313.4" y="118.3" width="0.56" height="5.2" fill="#7f7dbe"/>
<rect x="313.91" y="118.3" width="0.56" height="5.2" fill="#7e7cbe"/>
<rect x="314.42" y="118.3" width="0.56" height="5.2" fill="#7e7cbe"/>
<rect x="314.93" y="118.3" width="0.56" height="5.2" fill="#7d7bbe"/>
<rect x="315.44" y="118.3" width="0.56" height="5.2" fill="#7d7bbd"/>
<rect x="315.95" y="118.3" width="0.56" height="5.2" fill="#7c7abd"/>
<rect x="316.47" y="118.3" width="0.56" height="5.2" fill="#7b79bd"/>
<rect x="316.98" y="118.3" width="0.56" height="5.2" fill="#7b79bc"/>
<rect x="317.49" y="118.3" width="0.56" height="5.2" fill="#7a78bc"/>
<rect x="318" y="118.3" width="0.15" height="5.2" fill="#706eb5"/>
<rect x="318.1" y="118.3" width="0.58" height="5.2" fill="#6664ae"/>
<rect x="318.63" y="118.3" width="0.58" height="5.2" fill="#6563ad"/>
<rect x="319.16" y="118.3" width="0.58" height="5.2" fill="#6462ad"/>
<rect x="319.69" y="118.3" width="0.58" height="5.2" fill="#6361ac"/>
<rect x="320.22" y="118.3" width="0.58" height="5.2" fill="#6361ac"/>
<rect x="320.75" y="118.3" width="0.58" height="5.2" fill="#6260ab"/>
<rect x="321.28" y="118.3" width="0.58" height="5.2" fill="#615fab"/>
<rect x="321.82" y="118.3" width="0.58" height="5.2" fill="#605eab"/>
<rect x="322.35" y="118.3" width="0.58" height="5.2" fill="#5f5daa"/>
<rect x="322.88" y="118.3" width="0.58" height="5.2" fill="#5f5daa"/>
<rect x="323.41" y="118.3" width="0.58" height="5.2" fill="#5e5ca9"/>
<rect x="323.94" y="118.3" width="0.58" height="5.2" fill="#5d5ba9"/>
<rect x="324.47" y="118.3" width="0.58" height="5.2" fill="#5c5aa8"/>
<rect x="325" y="118.3" width="0.15" height="5.2" fill="#5452a1"/>
<rect x="325.1" y="118.3" width="0.58" height="5.2" fill="#4c4a9a"/>
<rect x="325.63" y="118.3" width="0.58" height="5.2" fill="#4c4a9a"/>
<rect x="326.15" y="118.3" width="0.58" height="5.2" fill="#4c4a9a"/>
<rect x="326.68" y="118.3" width="0.58" height="5.2" fill="#4c4a9a"/>
<rect x="327.21" y="118.3" width="0.58" height="5.2" fill="#4b499a"/>
<rect x="327.73" y="118.3" width="0.58" height="5.2" fill="#4b499a"/>
<rect x="328.26" y="118.3" width="0.58" height="5.2" fill="#4b499a"/>
<rect x="328.79" y="118.3" width="0.58" height="5.2" fill="#4b499a"/>
<rect x="329.31" y="118.3" width="0.58" height="5.2" fill="#4b499a"/>
<rect x="329.84" y="118.3" width="0.58" height="5.2" fill="#4b499a"/>
<rect x="330.37" y="118.3" width="0.58" height="5.2" fill="#4b499a"/>
<rect x="330.89" y="118.3" width="0.58" height="5.2" fill="#4a489a"/>
<rect x="331.42" y="118.3" width="0.58" height="5.2" fill="#4a489a"/>
<rect x="331.95" y="118.3" width="0.58" height="5.2" fill="#4a489a"/>
<rect x="332.47" y="118.3" width="0.58" height="5.2" fill="#4a489a"/>
<polygon points="208.6,150.8 208.8,141.5 210,144 215,146 225,147.5 240,149 255,150.2 268,150.8 280,151.3 300,151.8 320,152.5 328,154 332,157.8 333,157.8 333,150.8" fill="#cbc3c3" stroke="none" stroke-width="1"/>
<polyline points="208.9,90 208.9,85.6 210.7,68.8 212.8,64.9 215.4,50.6 219.3,53.2 223.2,48.5 227.1,50.1 231,46.7 237.5,51.9 243.4,40.7 247.9,42.3 256.9,49.3 262.1,51.9 269.9,58.4 282.9,70.1 290.7,77.9 301.1,84.4 311.5,90.1 316.7,89 320.6,90.8 324.5,89.5 328.4,94.7 332.3,89.5" fill="none" stroke="#8cae3c" stroke-width="1.35" stroke-linejoin="round"/>
<rect x="208.6" y="38.2" width="130.4" height="125.2" fill="none" stroke="#1a1a1a" stroke-width="1.1"/>
<line x1="205.4" y1="41" x2="208.6" y2="41" stroke="#222" stroke-width="0.9"/>
<text x="202.6" y="42.9" font-size="5.25" fill="#3a3a3a" text-anchor="end" textLength="9.2" lengthAdjust="spacingAndGlyphs">0.40</text>
<line x1="205.4" y1="47.15" x2="208.6" y2="47.15" stroke="#222" stroke-width="0.9"/>
<text x="202.6" y="49.05" font-size="5.25" fill="#3a3a3a" text-anchor="end" textLength="9.2" lengthAdjust="spacingAndGlyphs">0.35</text>
<line x1="205.4" y1="53.3" x2="208.6" y2="53.3" stroke="#222" stroke-width="0.9"/>
<text x="202.6" y="55.2" font-size="5.25" fill="#3a3a3a" text-anchor="end" textLength="9.2" lengthAdjust="spacingAndGlyphs">0.30</text>
<line x1="205.4" y1="59.45" x2="208.6" y2="59.45" stroke="#222" stroke-width="0.9"/>
<text x="202.6" y="61.35" font-size="5.25" fill="#3a3a3a" text-anchor="end" textLength="9.2" lengthAdjust="spacingAndGlyphs">0.25</text>
<line x1="205.4" y1="65.6" x2="208.6" y2="65.6" stroke="#222" stroke-width="0.9"/>
<text x="202.6" y="67.5" font-size="5.25" fill="#3a3a3a" text-anchor="end" textLength="9.2" lengthAdjust="spacingAndGlyphs">0.20</text>
<line x1="205.4" y1="71.75" x2="208.6" y2="71.75" stroke="#222" stroke-width="0.9"/>
<text x="202.6" y="73.65" font-size="5.25" fill="#3a3a3a" text-anchor="end" textLength="9.2" lengthAdjust="spacingAndGlyphs">0.15</text>
<line x1="205.4" y1="77.9" x2="208.6" y2="77.9" stroke="#222" stroke-width="0.9"/>
<text x="202.6" y="79.8" font-size="5.25" fill="#3a3a3a" text-anchor="end" textLength="9.2" lengthAdjust="spacingAndGlyphs">0.10</text>
<line x1="205.4" y1="84.05" x2="208.6" y2="84.05" stroke="#222" stroke-width="0.9"/>
<text x="202.6" y="85.95" font-size="5.25" fill="#3a3a3a" text-anchor="end" textLength="9.2" lengthAdjust="spacingAndGlyphs">0.05</text>
<line x1="205.4" y1="90.2" x2="208.6" y2="90.2" stroke="#222" stroke-width="0.9"/>
<text x="202.6" y="92.1" font-size="5.25" fill="#3a3a3a" text-anchor="end" textLength="9.2" lengthAdjust="spacingAndGlyphs">0.00</text>
<line x1="205.4" y1="96.35" x2="208.6" y2="96.35" stroke="#222" stroke-width="0.9"/>
<text x="202.6" y="98.25" font-size="5.25" fill="#3a3a3a" text-anchor="end" textLength="9.2" lengthAdjust="spacingAndGlyphs">-0.05</text>
<text x="202.6" y="127.3" font-size="5.25" fill="#2a2a2a" text-anchor="end" textLength="6.4" lengthAdjust="spacingAndGlyphs">2.0</text>
<text x="202.6" y="133.65" font-size="5.25" fill="#2a2a2a" text-anchor="end" textLength="6.4" lengthAdjust="spacingAndGlyphs">1.5</text>
<text x="202.6" y="140" font-size="5.25" fill="#2a2a2a" text-anchor="end" textLength="6.4" lengthAdjust="spacingAndGlyphs">1.0</text>
<text x="202.6" y="146.35" font-size="5.25" fill="#2a2a2a" text-anchor="end" textLength="6.4" lengthAdjust="spacingAndGlyphs">0.5</text>
<text x="202.6" y="152.7" font-size="5.25" fill="#2a2a2a" text-anchor="end" textLength="6.4" lengthAdjust="spacingAndGlyphs">0.0</text>
<text x="202.6" y="159.05" font-size="5.25" fill="#2a2a2a" text-anchor="end" textLength="8.3" lengthAdjust="spacingAndGlyphs">-0.5</text>
<line x1="208.8" y1="163.4" x2="208.8" y2="166.3" stroke="#222" stroke-width="0.9"/>
<text x="211.9" y="172.3" font-size="5.25" fill="#2a2a2a" text-anchor="end" transform="rotate(-45 211.9 172.3)" textLength="2.34" lengthAdjust="spacingAndGlyphs">0</text>
<line x1="226.5" y1="163.4" x2="226.5" y2="166.3" stroke="#222" stroke-width="0.9"/>
<text x="229.6" y="172.3" font-size="5.25" fill="#2a2a2a" text-anchor="end" transform="rotate(-45 229.6 172.3)" textLength="10.51" lengthAdjust="spacingAndGlyphs">5,000</text>
<line x1="244.2" y1="163.4" x2="244.2" y2="166.3" stroke="#222" stroke-width="0.9"/>
<text x="247.3" y="172.3" font-size="5.25" fill="#2a2a2a" text-anchor="end" transform="rotate(-45 247.3 172.3)" textLength="12.85" lengthAdjust="spacingAndGlyphs">10,000</text>
<line x1="261.9" y1="163.4" x2="261.9" y2="166.3" stroke="#222" stroke-width="0.9"/>
<text x="265" y="172.3" font-size="5.25" fill="#2a2a2a" text-anchor="end" transform="rotate(-45 265 172.3)" textLength="12.85" lengthAdjust="spacingAndGlyphs">15,000</text>
<line x1="279.6" y1="163.4" x2="279.6" y2="166.3" stroke="#222" stroke-width="0.9"/>
<text x="282.7" y="172.3" font-size="5.25" fill="#2a2a2a" text-anchor="end" transform="rotate(-45 282.7 172.3)" textLength="12.85" lengthAdjust="spacingAndGlyphs">20,000</text>
<line x1="297.3" y1="163.4" x2="297.3" y2="166.3" stroke="#222" stroke-width="0.9"/>
<text x="300.4" y="172.3" font-size="5.25" fill="#2a2a2a" text-anchor="end" transform="rotate(-45 300.4 172.3)" textLength="12.85" lengthAdjust="spacingAndGlyphs">25,000</text>
<line x1="315" y1="163.4" x2="315" y2="166.3" stroke="#222" stroke-width="0.9"/>
<text x="318.1" y="172.3" font-size="5.25" fill="#2a2a2a" text-anchor="end" transform="rotate(-45 318.1 172.3)" textLength="12.85" lengthAdjust="spacingAndGlyphs">30,000</text>
<line x1="332.7" y1="163.4" x2="332.7" y2="166.3" stroke="#222" stroke-width="0.9"/>
<text x="335.8" y="172.3" font-size="5.25" fill="#2a2a2a" text-anchor="end" transform="rotate(-45 335.8 172.3)" textLength="12.85" lengthAdjust="spacingAndGlyphs">35,000</text>
<text x="273.5" y="193.6" font-size="7.56" fill="#1a1a1a" text-anchor="middle" textLength="73.3" lengthAdjust="spacingAndGlyphs" stroke="#1a1a1a" stroke-width="0.15">Rank in ordered dataset</text>
<text x="187.8" y="68.7" font-size="7.56" fill="#222" text-anchor="middle" transform="rotate(-90 187.8 68.7)" textLength="65.6" lengthAdjust="spacingAndGlyphs">Enrichment score (ES)</text>
<text x="180" y="141.6" font-size="7.56" fill="#222" text-anchor="middle" transform="rotate(-90 180 141.6)" textLength="55.3" lengthAdjust="spacingAndGlyphs">Ranked list metric</text>
<text x="188.4" y="141.9" font-size="7.56" fill="#222" text-anchor="middle" transform="rotate(-90 188.4 141.9)" textLength="36.6" lengthAdjust="spacingAndGlyphs">(PreRanked)</text>
<text x="274" y="28.8" font-size="5.5" fill="#2a2a2a" text-anchor="middle" textLength="36.5" lengthAdjust="spacingAndGlyphs">Enrichment plot:</text>
<text x="274" y="35.2" font-size="5.5" fill="#2a2a2a" text-anchor="middle" textLength="81.9" lengthAdjust="spacingAndGlyphs">REACTOME_GLUCOSE_METABOLISM</text>
<text x="306.3" y="48.2" font-size="5" fill="#555" textLength="14.9" lengthAdjust="spacingAndGlyphs">NES 1.6</text>
<text x="306.3" y="53.2" font-size="5" fill="#555" textLength="20.45" lengthAdjust="spacingAndGlyphs">FDR q 0.06</text>
<text x="209.2" y="127.8" font-size="4.88" fill="#d0786c" textLength="56.4" lengthAdjust="spacingAndGlyphs">'na_pos' (positively correlated)</text>
<text x="214.4" y="135.3" font-size="4.88" fill="#444" textLength="21.6" lengthAdjust="spacingAndGlyphs">NCAM_high</text>
<text x="331.7" y="135.3" font-size="4.88" fill="#444" text-anchor="end" textLength="19.4" lengthAdjust="spacingAndGlyphs">NCAM_low</text>
<text x="268" y="145.3" font-size="4.88" fill="#444" text-anchor="middle" textLength="33.1" lengthAdjust="spacingAndGlyphs">Zero cross at 16676</text>
<text x="268.3" y="161" font-size="4.88" fill="#7777c4" textLength="63.4" lengthAdjust="spacingAndGlyphs">'na_neg' (negatively correlated)</text>
<line x1="398.2" y1="46.4" x2="398.2" y2="102.7" stroke="#e6e6e6" stroke-width="0.4"/>
<line x1="398.2" y1="125" x2="398.2" y2="163.3" stroke="#e6e6e6" stroke-width="0.4"/>
<line x1="416.2" y1="46.4" x2="416.2" y2="102.7" stroke="#e6e6e6" stroke-width="0.4"/>
<line x1="416.2" y1="125" x2="416.2" y2="163.3" stroke="#e6e6e6" stroke-width="0.4"/>
<line x1="434.2" y1="46.4" x2="434.2" y2="102.7" stroke="#e6e6e6" stroke-width="0.4"/>
<line x1="434.2" y1="125" x2="434.2" y2="163.3" stroke="#e6e6e6" stroke-width="0.4"/>
<line x1="452.2" y1="46.4" x2="452.2" y2="102.7" stroke="#e6e6e6" stroke-width="0.4"/>
<line x1="452.2" y1="125" x2="452.2" y2="163.3" stroke="#e6e6e6" stroke-width="0.4"/>
<line x1="470.2" y1="46.4" x2="470.2" y2="102.7" stroke="#e6e6e6" stroke-width="0.4"/>
<line x1="470.2" y1="125" x2="470.2" y2="163.3" stroke="#e6e6e6" stroke-width="0.4"/>
<line x1="488.2" y1="46.4" x2="488.2" y2="102.7" stroke="#e6e6e6" stroke-width="0.4"/>
<line x1="488.2" y1="125" x2="488.2" y2="163.3" stroke="#e6e6e6" stroke-width="0.4"/>
<line x1="506.2" y1="46.4" x2="506.2" y2="102.7" stroke="#e6e6e6" stroke-width="0.4"/>
<line x1="506.2" y1="125" x2="506.2" y2="163.3" stroke="#e6e6e6" stroke-width="0.4"/>
<line x1="380.4" y1="49.58" x2="512.7" y2="49.58" stroke="#ececec" stroke-width="0.4"/>
<line x1="380.4" y1="55.57" x2="512.7" y2="55.57" stroke="#ececec" stroke-width="0.4"/>
<line x1="380.4" y1="61.56" x2="512.7" y2="61.56" stroke="#ececec" stroke-width="0.4"/>
<line x1="380.4" y1="67.55" x2="512.7" y2="67.55" stroke="#ececec" stroke-width="0.4"/>
<line x1="380.4" y1="73.54" x2="512.7" y2="73.54" stroke="#ececec" stroke-width="0.4"/>
<line x1="380.4" y1="79.53" x2="512.7" y2="79.53" stroke="#ececec" stroke-width="0.4"/>
<line x1="380.4" y1="85.52" x2="512.7" y2="85.52" stroke="#ececec" stroke-width="0.4"/>
<line x1="380.4" y1="91.51" x2="512.7" y2="91.51" stroke="#ececec" stroke-width="0.4"/>
<line x1="380.4" y1="97.5" x2="512.7" y2="97.5" stroke="#ececec" stroke-width="0.4"/>
<line x1="380.4" y1="97.5" x2="512.7" y2="97.5" stroke="#c8c8c8" stroke-width="0.6"/>
<line x1="380.4" y1="126" x2="512.7" y2="126" stroke="#ececec" stroke-width="0.4"/>
<line x1="380.4" y1="132.45" x2="512.7" y2="132.45" stroke="#ececec" stroke-width="0.4"/>
<line x1="380.4" y1="138.9" x2="512.7" y2="138.9" stroke="#ececec" stroke-width="0.4"/>
<line x1="380.4" y1="145.35" x2="512.7" y2="145.35" stroke="#ececec" stroke-width="0.4"/>
<line x1="380.4" y1="151.8" x2="512.7" y2="151.8" stroke="#ececec" stroke-width="0.4"/>
<line x1="380.4" y1="158.25" x2="512.7" y2="158.25" stroke="#ececec" stroke-width="0.4"/>
<rect x="380.5" y="102.7" width="59.5" height="18.2" fill="#2e2e2a"/>
<rect x="384.1" y="102.7" width="1" height="18.2" fill="#888"/>
<rect x="391.7" y="102.7" width="1.5" height="18.2" fill="#999"/>
<rect x="394.2" y="102.7" width="1.9" height="18.2" fill="#666"/>
<rect x="401.6" y="102.7" width="1.5" height="18.2" fill="#888"/>
<rect x="404.4" y="102.7" width="1.5" height="18.2" fill="#777"/>
<rect x="408.4" y="102.7" width="1.7" height="18.2" fill="#777"/>
<rect x="413.9" y="102.7" width="1.3" height="18.2" fill="#999"/>
<rect x="415.8" y="102.7" width="3.2" height="18.2" fill="#ddd"/>
<rect x="422.8" y="102.7" width="2.5" height="18.2" fill="#888"/>
<rect x="429.8" y="102.7" width="1.9" height="18.2" fill="#aaa"/>
<rect x="439.7" y="102.7" width="2.8" height="18.2" fill="#999"/>
<rect x="448.5" y="102.7" width="0.6" height="18.2" fill="#999"/>
<rect x="451.3" y="102.7" width="3.1" height="18.2" fill="#333"/>
<rect x="455" y="102.7" width="4" height="18.2" fill="#222"/>
<rect x="459.8" y="102.7" width="4" height="18.2" fill="#444"/>
<rect x="463.8" y="102.7" width="4.2" height="18.2" fill="#555"/>
<rect x="469" y="102.7" width="2.9" height="18.2" fill="#888"/>
<rect x="474" y="102.7" width="3.8" height="18.2" fill="#333"/>
<rect x="478.1" y="102.7" width="4.4" height="18.2" fill="#666"/>
<rect x="483.1" y="102.7" width="4.4" height="18.2" fill="#555"/>
<rect x="490.6" y="102.7" width="5" height="18.2" fill="#2a2a2a"/>
<rect x="497.5" y="102.7" width="3.1" height="18.2" fill="#444"/>
<rect x="501.3" y="102.7" width="2.5" height="18.2" fill="#777"/>
<rect x="504.4" y="102.7" width="2.5" height="18.2" fill="#333"/>
<rect x="380.5" y="120.9" width="0.55" height="4.1" fill="#cd6a5c"/>
<rect x="381" y="120.9" width="0.55" height="4.1" fill="#cd6a5c"/>
<rect x="381.5" y="120.9" width="0.55" height="4.1" fill="#cd6a5c"/>
<rect x="382" y="120.9" width="0.55" height="4.1" fill="#cd6b5d"/>
<rect x="382.5" y="120.9" width="0.55" height="4.1" fill="#cd6b5d"/>
<rect x="383" y="120.9" width="0.55" height="4.1" fill="#cd6b5d"/>
<rect x="383.5" y="120.9" width="0.55" height="4.1" fill="#ce6b5d"/>
<rect x="384" y="120.9" width="0.55" height="4.1" fill="#ce6b5d"/>
<rect x="384.5" y="120.9" width="0.55" height="4.1" fill="#ce6b5e"/>
<rect x="385" y="120.9" width="0.55" height="4.1" fill="#ce6b5e"/>
<rect x="385.5" y="120.9" width="0.55" height="4.1" fill="#ce6c5e"/>
<rect x="386" y="120.9" width="0.55" height="4.1" fill="#ce6c5e"/>
<rect x="386.5" y="120.9" width="0.55" height="4.1" fill="#ce6c5e"/>
<rect x="387" y="120.9" width="0.55" height="4.1" fill="#ce6c5e"/>
<rect x="387.5" y="120.9" width="0.55" height="4.1" fill="#ce6c5f"/>
<rect x="388" y="120.9" width="0.55" height="4.1" fill="#ce6c5f"/>
<rect x="388.5" y="120.9" width="0.55" height="4.1" fill="#ce6d5f"/>
<rect x="389" y="120.9" width="0.55" height="4.1" fill="#ce6d5f"/>
<rect x="389.5" y="120.9" width="0.55" height="4.1" fill="#ce6d5f"/>
<rect x="390" y="120.9" width="0.55" height="4.1" fill="#ce6d60"/>
<rect x="390.5" y="120.9" width="0.55" height="4.1" fill="#cf6d60"/>
<rect x="391" y="120.9" width="0.55" height="4.1" fill="#cf6d60"/>
<rect x="391.5" y="120.9" width="0.55" height="4.1" fill="#cf6d60"/>
<rect x="392" y="120.9" width="0.55" height="4.1" fill="#cf6e60"/>
<rect x="392.5" y="120.9" width="0.55" height="4.1" fill="#cf6e61"/>
<rect x="393" y="120.9" width="0.55" height="4.1" fill="#cf6e61"/>
<rect x="393.5" y="120.9" width="0.55" height="4.1" fill="#cf6e61"/>
<rect x="394" y="120.9" width="0.55" height="4.1" fill="#cf6e61"/>
<rect x="394.5" y="120.9" width="0.55" height="4.1" fill="#cf6e61"/>
<rect x="395" y="120.9" width="0.55" height="4.1" fill="#cf6f61"/>
<rect x="395.5" y="120.9" width="0.55" height="4.1" fill="#cf6f62"/>
<rect x="396" y="120.9" width="0.55" height="4.1" fill="#cf6f62"/>
<rect x="396.5" y="120.9" width="0.55" height="4.1" fill="#d06f62"/>
<rect x="397" y="120.9" width="0.55" height="4.1" fill="#d06f62"/>
<rect x="397.5" y="120.9" width="0.55" height="4.1" fill="#d06f62"/>
<rect x="398" y="120.9" width="0.55" height="4.1" fill="#d06f63"/>
<rect x="398.5" y="120.9" width="0.55" height="4.1" fill="#d07063"/>
<rect x="399" y="120.9" width="0.55" height="4.1" fill="#d07063"/>
<rect x="399.5" y="120.9" width="0.55" height="4.1" fill="#d07063"/>
<rect x="400" y="120.9" width="0.55" height="4.1" fill="#d07063"/>
<rect x="400.5" y="120.9" width="0.55" height="4.1" fill="#d07063"/>
<rect x="401" y="120.9" width="0.55" height="4.1" fill="#d07064"/>
<rect x="401.5" y="120.9" width="0.55" height="4.1" fill="#d07164"/>
<rect x="402" y="120.9" width="0.55" height="4.1" fill="#d07164"/>
<rect x="402.5" y="120.9" width="0.55" height="4.1" fill="#d07164"/>
<rect x="403" y="120.9" width="0.55" height="4.1" fill="#d07164"/>
<rect x="403.5" y="120.9" width="0.55" height="4.1" fill="#d17165"/>
<rect x="404" y="120.9" width="0.55" height="4.1" fill="#d17165"/>
<rect x="404.5" y="120.9" width="0.55" height="4.1" fill="#d17165"/>
<rect x="405" y="120.9" width="0.55" height="4.1" fill="#d17265"/>
<rect x="405.5" y="120.9" width="0.55" height="4.1" fill="#d17265"/>
<rect x="406" y="120.9" width="0.55" height="4.1" fill="#d17266"/>
<rect x="406.5" y="120.9" width="0.55" height="4.1" fill="#d17266"/>
<rect x="407" y="120.9" width="0.55" height="4.1" fill="#d17266"/>
<rect x="407.5" y="120.9" width="0.55" height="4.1" fill="#d17266"/>
<rect x="408" y="120.9" width="0.55" height="4.1" fill="#d17366"/>
<rect x="408.5" y="120.9" width="0.55" height="4.1" fill="#d17366"/>
<rect x="409" y="120.9" width="0.55" height="4.1" fill="#d17367"/>
<rect x="409.5" y="120.9" width="0.55" height="4.1" fill="#d27367"/>
<rect x="410" y="120.9" width="0.55" height="4.1" fill="#d27367"/>
<rect x="410.5" y="120.9" width="0.55" height="4.1" fill="#d27367"/>
<rect x="411" y="120.9" width="0.55" height="4.1" fill="#d27367"/>
<rect x="411.5" y="120.9" width="0.55" height="4.1" fill="#d27468"/>
<rect x="412" y="120.9" width="0.55" height="4.1" fill="#d27468"/>
<rect x="412.5" y="120.9" width="0.55" height="4.1" fill="#d27468"/>
<rect x="413" y="120.9" width="0.55" height="4.1" fill="#d27468"/>
<rect x="413.5" y="120.9" width="0.55" height="4.1" fill="#d27569"/>
<rect x="414" y="120.9" width="0.55" height="4.1" fill="#d2766a"/>
<rect x="414.5" y="120.9" width="0.55" height="4.1" fill="#d3766a"/>
<rect x="415" y="120.9" width="0.55" height="4.1" fill="#d3776b"/>
<rect x="415.5" y="120.9" width="0.55" height="4.1" fill="#d3786c"/>
<rect x="416" y="120.9" width="0.55" height="4.1" fill="#d3786d"/>
<rect x="416.5" y="120.9" width="0.55" height="4.1" fill="#d3796d"/>
<rect x="417" y="120.9" width="0.55" height="4.1" fill="#d47a6e"/>
<rect x="417.5" y="120.9" width="0.55" height="4.1" fill="#d47a6f"/>
<rect x="418" y="120.9" width="0.55" height="4.1" fill="#d47b6f"/>
<rect x="418.5" y="120.9" width="0.55" height="4.1" fill="#d47b70"/>
<rect x="419" y="120.9" width="0.55" height="4.1" fill="#d47c71"/>
<rect x="419.5" y="120.9" width="0.55" height="4.1" fill="#d47d72"/>
<rect x="420" y="120.9" width="0.55" height="4.1" fill="#d57d72"/>
<rect x="420.5" y="120.9" width="0.55" height="4.1" fill="#d57e73"/>
<rect x="421" y="120.9" width="0.55" height="4.1" fill="#d57f74"/>
<rect x="421.5" y="120.9" width="0.55" height="4.1" fill="#d57f74"/>
<rect x="422" y="120.9" width="0.55" height="4.1" fill="#d58075"/>
<rect x="422.5" y="120.9" width="0.55" height="4.1" fill="#d58176"/>
<rect x="423" y="120.9" width="0.55" height="4.1" fill="#d68176"/>
<rect x="423.5" y="120.9" width="0.55" height="4.1" fill="#d68277"/>
<rect x="424" y="120.9" width="0.55" height="4.1" fill="#d68378"/>
<rect x="424.5" y="120.9" width="0.55" height="4.1" fill="#d68379"/>
<rect x="425" y="120.9" width="0.55" height="4.1" fill="#d68479"/>
<rect x="425.5" y="120.9" width="0.55" height="4.1" fill="#d6847a"/>
<rect x="426" y="120.9" width="0.55" height="4.1" fill="#d7857b"/>
<rect x="426.5" y="120.9" width="0.55" height="4.1" fill="#d7867b"/>
<rect x="427" y="120.9" width="0.55" height="4.1" fill="#d7867c"/>
<rect x="427.5" y="120.9" width="0.55" height="4.1" fill="#d7877d"/>
<rect x="428" y="120.9" width="0.55" height="4.1" fill="#d7887e"/>
<rect x="428.5" y="120.9" width="0.55" height="4.1" fill="#d8887e"/>
<rect x="429" y="120.9" width="0.55" height="4.1" fill="#d8897f"/>
<rect x="429.5" y="120.9" width="0.55" height="4.1" fill="#d88a80"/>
<rect x="430" y="120.9" width="0.15" height="4.1" fill="#dda3a6"/>
<rect x="430.1" y="120.9" width="0.56" height="4.1" fill="#e2bccb"/>
<rect x="430.61" y="120.9" width="0.56" height="4.1" fill="#e2bccb"/>
<rect x="431.12" y="120.9" width="0.56" height="4.1" fill="#e2bccc"/>
<rect x="431.63" y="120.9" width="0.56" height="4.1" fill="#e2bdcc"/>
<rect x="432.14" y="120.9" width="0.56" height="4.1" fill="#e2bdcc"/>
<rect x="432.65" y="120.9" width="0.56" height="4.1" fill="#e2bdcc"/>
<rect x="433.16" y="120.9" width="0.56" height="4.1" fill="#e2bdcc"/>
<rect x="433.67" y="120.9" width="0.56" height="4.1" fill="#e2bdcd"/>
<rect x="434.18" y="120.9" width="0.56" height="4.1" fill="#e2becd"/>
<rect x="434.69" y="120.9" width="0.56" height="4.1" fill="#e2becd"/>
<rect x="435.2" y="120.9" width="0.56" height="4.1" fill="#e3becd"/>
<rect x="435.71" y="120.9" width="0.56" height="4.1" fill="#e3bece"/>
<rect x="436.22" y="120.9" width="0.56" height="4.1" fill="#e3bece"/>
<rect x="436.73" y="120.9" width="0.56" height="4.1" fill="#e3bfce"/>
<rect x="437.24" y="120.9" width="0.56" height="4.1" fill="#e3bfce"/>
<rect x="437.75" y="120.9" width="0.56" height="4.1" fill="#e3bfce"/>
<rect x="438.26" y="120.9" width="0.56" height="4.1" fill="#e3bfcf"/>
<rect x="438.77" y="120.9" width="0.56" height="4.1" fill="#e3bfcf"/>
<rect x="439.28" y="120.9" width="0.56" height="4.1" fill="#e3c0cf"/>
<rect x="439.79" y="120.9" width="0.56" height="4.1" fill="#e3c0cf"/>
<rect x="440.3" y="120.9" width="0.56" height="4.1" fill="#e3c0d0"/>
<rect x="440.8" y="120.9" width="0.56" height="4.1" fill="#e3c0d0"/>
<rect x="441.31" y="120.9" width="0.56" height="4.1" fill="#e3c0d0"/>
<rect x="441.82" y="120.9" width="0.56" height="4.1" fill="#e3c1d0"/>
<rect x="442.33" y="120.9" width="0.56" height="4.1" fill="#e3c1d0"/>
<rect x="442.84" y="120.9" width="0.56" height="4.1" fill="#e3c1d1"/>
<rect x="443.35" y="120.9" width="0.56" height="4.1" fill="#e3c1d1"/>
<rect x="443.86" y="120.9" width="0.56" height="4.1" fill="#e3c1d1"/>
<rect x="444.37" y="120.9" width="0.56" height="4.1" fill="#e3c2d1"/>
<rect x="444.88" y="120.9" width="0.56" height="4.1" fill="#e3c2d1"/>
<rect x="445.39" y="120.9" width="0.56" height="4.1" fill="#e3c2d2"/>
<rect x="445.9" y="120.9" width="0.56" height="4.1" fill="#e4c2d2"/>
<rect x="446.41" y="120.9" width="0.56" height="4.1" fill="#e4c2d2"/>
<rect x="446.92" y="120.9" width="0.56" height="4.1" fill="#e4c3d2"/>
<rect x="447.43" y="120.9" width="0.56" height="4.1" fill="#e4c3d3"/>
<rect x="447.94" y="120.9" width="0.56" height="4.1" fill="#e4c3d3"/>
<rect x="448.45" y="120.9" width="0.56" height="4.1" fill="#e4c3d3"/>
<rect x="448.96" y="120.9" width="0.56" height="4.1" fill="#e4c3d3"/>
<rect x="449.47" y="120.9" width="0.56" height="4.1" fill="#e4c4d3"/>
<rect x="449.98" y="120.9" width="0.56" height="4.1" fill="#e4c4d4"/>
<rect x="450.49" y="120.9" width="0.56" height="4.1" fill="#e4c4d4"/>
<rect x="451" y="120.9" width="0.15" height="4.1" fill="#dbcade"/>
<rect x="451.1" y="120.9" width="0.56" height="4.1" fill="#d2d0e8"/>
<rect x="451.61" y="120.9" width="0.56" height="4.1" fill="#d2d0e8"/>
<rect x="452.12" y="120.9" width="0.56" height="4.1" fill="#d1cfe8"/>
<rect x="452.63" y="120.9" width="0.56" height="4.1" fill="#d1cfe7"/>
<rect x="453.14" y="120.9" width="0.56" height="4.1" fill="#d1cfe7"/>
<rect x="453.64" y="120.9" width="0.56" height="4.1" fill="#d0cee7"/>
<rect x="454.15" y="120.9" width="0.56" height="4.1" fill="#d0cee7"/>
<rect x="454.66" y="120.9" width="0.56" height="4.1" fill="#d0cee7"/>
<rect x="455.17" y="120.9" width="0.56" height="4.1" fill="#cfcde6"/>
<rect x="455.68" y="120.9" width="0.56" height="4.1" fill="#cfcde6"/>
<rect x="456.19" y="120.9" width="0.56" height="4.1" fill="#cfcde6"/>
<rect x="456.7" y="120.9" width="0.56" height="4.1" fill="#cecce6"/>
<rect x="457.21" y="120.9" width="0.56" height="4.1" fill="#cecce6"/>
<rect x="457.72" y="120.9" width="0.56" height="4.1" fill="#cecce6"/>
<rect x="458.22" y="120.9" width="0.56" height="4.1" fill="#cdcbe5"/>
<rect x="458.73" y="120.9" width="0.56" height="4.1" fill="#cdcbe5"/>
<rect x="459.24" y="120.9" width="0.56" height="4.1" fill="#cdcbe5"/>
<rect x="459.75" y="120.9" width="0.56" height="4.1" fill="#cdcbe5"/>
<rect x="460.26" y="120.9" width="0.56" height="4.1" fill="#cccae5"/>
<rect x="460.77" y="120.9" width="0.56" height="4.1" fill="#cccae5"/>
<rect x="461.28" y="120.9" width="0.56" height="4.1" fill="#cccae4"/>
<rect x="461.79" y="120.9" width="0.56" height="4.1" fill="#cbc9e4"/>
<rect x="462.3" y="120.9" width="0.56" height="4.1" fill="#cbc9e4"/>
<rect x="462.8" y="120.9" width="0.56" height="4.1" fill="#cbc9e4"/>
<rect x="463.31" y="120.9" width="0.56" height="4.1" fill="#cac8e4"/>
<rect x="463.82" y="120.9" width="0.56" height="4.1" fill="#cac8e3"/>
<rect x="464.33" y="120.9" width="0.56" height="4.1" fill="#cac8e3"/>
<rect x="464.84" y="120.9" width="0.56" height="4.1" fill="#c9c7e3"/>
<rect x="465.35" y="120.9" width="0.56" height="4.1" fill="#c9c7e3"/>
<rect x="465.86" y="120.9" width="0.56" height="4.1" fill="#c9c7e3"/>
<rect x="466.37" y="120.9" width="0.56" height="4.1" fill="#c9c7e3"/>
<rect x="466.88" y="120.9" width="0.56" height="4.1" fill="#c8c6e2"/>
<rect x="467.38" y="120.9" width="0.56" height="4.1" fill="#c8c6e2"/>
<rect x="467.89" y="120.9" width="0.56" height="4.1" fill="#c8c6e2"/>
<rect x="468.4" y="120.9" width="0.56" height="4.1" fill="#c7c5e2"/>
<rect x="468.91" y="120.9" width="0.56" height="4.1" fill="#c7c5e2"/>
<rect x="469.42" y="120.9" width="0.56" height="4.1" fill="#c7c5e2"/>
<rect x="469.93" y="120.9" width="0.56" height="4.1" fill="#c6c4e1"/>
<rect x="470.44" y="120.9" width="0.56" height="4.1" fill="#c6c4e1"/>
<rect x="470.95" y="120.9" width="0.56" height="4.1" fill="#c6c4e1"/>
<rect x="471.46" y="120.9" width="0.56" height="4.1" fill="#c5c3e1"/>
<rect x="471.96" y="120.9" width="0.56" height="4.1" fill="#c5c3e1"/>
<rect x="472.47" y="120.9" width="0.56" height="4.1" fill="#c5c3e0"/>
<rect x="472.98" y="120.9" width="0.56" height="4.1" fill="#c4c2e0"/>
<rect x="473.49" y="120.9" width="0.56" height="4.1" fill="#c4c2e0"/>
<rect x="474" y="120.9" width="0.15" height="4.1" fill="#a9a7d3"/>
<rect x="474.1" y="120.9" width="0.56" height="4.1" fill="#8e8cc6"/>
<rect x="474.61" y="120.9" width="0.56" height="4.1" fill="#8d8bc6"/>
<rect x="475.13" y="120.9" width="0.56" height="4.1" fill="#8c8ac5"/>
<rect x="475.64" y="120.9" width="0.56" height="4.1" fill="#8c8ac5"/>
<rect x="476.15" y="120.9" width="0.56" height="4.1" fill="#8b89c5"/>
<rect x="476.66" y="120.9" width="0.56" height="4.1" fill="#8a88c4"/>
<rect x="477.18" y="120.9" width="0.56" height="4.1" fill="#8a88c4"/>
<rect x="477.69" y="120.9" width="0.56" height="4.1" fill="#8987c4"/>
<rect x="478.2" y="120.9" width="0.56" height="4.1" fill="#8987c3"/>
<rect x="478.72" y="120.9" width="0.56" height="4.1" fill="#8886c3"/>
<rect x="479.23" y="120.9" width="0.56" height="4.1" fill="#8785c3"/>
<rect x="479.74" y="120.9" width="0.56" height="4.1" fill="#8785c2"/>
<rect x="480.25" y="120.9" width="0.56" height="4.1" fill="#8684c2"/>
<rect x="480.77" y="120.9" width="0.56" height="4.1" fill="#8583c2"/>
<rect x="481.28" y="120.9" width="0.56" height="4.1" fill="#8583c1"/>
<rect x="481.79" y="120.9" width="0.56" height="4.1" fill="#8482c1"/>
<rect x="482.31" y="120.9" width="0.56" height="4.1" fill="#8381c1"/>
<rect x="482.82" y="120.9" width="0.56" height="4.1" fill="#8381c0"/>
<rect x="483.33" y="120.9" width="0.56" height="4.1" fill="#8280c0"/>
<rect x="483.85" y="120.9" width="0.56" height="4.1" fill="#817fc0"/>
<rect x="484.36" y="120.9" width="0.56" height="4.1" fill="#817fbf"/>
<rect x="484.87" y="120.9" width="0.56" height="4.1" fill="#807ebf"/>
<rect x="485.38" y="120.9" width="0.56" height="4.1" fill="#7f7dbf"/>
<rect x="485.9" y="120.9" width="0.56" height="4.1" fill="#7f7dbe"/>
<rect x="486.41" y="120.9" width="0.56" height="4.1" fill="#7e7cbe"/>
<rect x="486.92" y="120.9" width="0.56" height="4.1" fill="#7e7cbe"/>
<rect x="487.44" y="120.9" width="0.56" height="4.1" fill="#7d7bbd"/>
<rect x="487.95" y="120.9" width="0.56" height="4.1" fill="#7c7abd"/>
<rect x="488.46" y="120.9" width="0.56" height="4.1" fill="#7c7abd"/>
<rect x="488.97" y="120.9" width="0.56" height="4.1" fill="#7b79bc"/>
<rect x="489.49" y="120.9" width="0.56" height="4.1" fill="#7a78bc"/>
<rect x="490" y="120.9" width="0.15" height="4.1" fill="#706eb5"/>
<rect x="490.1" y="120.9" width="0.57" height="4.1" fill="#6664ae"/>
<rect x="490.62" y="120.9" width="0.57" height="4.1" fill="#6563ae"/>
<rect x="491.14" y="120.9" width="0.57" height="4.1" fill="#6563ad"/>
<rect x="491.66" y="120.9" width="0.57" height="4.1" fill="#6462ad"/>
<rect x="492.18" y="120.9" width="0.57" height="4.1" fill="#6462ad"/>
<rect x="492.71" y="120.9" width="0.57" height="4.1" fill="#6361ac"/>
<rect x="493.23" y="120.9" width="0.57" height="4.1" fill="#6361ac"/>
<rect x="493.75" y="120.9" width="0.57" height="4.1" fill="#6260ac"/>
<rect x="494.27" y="120.9" width="0.57" height="4.1" fill="#6260ab"/>
<rect x="494.79" y="120.9" width="0.57" height="4.1" fill="#615fab"/>
<rect x="495.31" y="120.9" width="0.57" height="4.1" fill="#605eab"/>
<rect x="495.83" y="120.9" width="0.57" height="4.1" fill="#605eaa"/>
<rect x="496.35" y="120.9" width="0.57" height="4.1" fill="#5f5daa"/>
<rect x="496.87" y="120.9" width="0.57" height="4.1" fill="#5f5daa"/>
<rect x="497.39" y="120.9" width="0.57" height="4.1" fill="#5e5ca9"/>
<rect x="497.92" y="120.9" width="0.57" height="4.1" fill="#5e5ca9"/>
<rect x="498.44" y="120.9" width="0.57" height="4.1" fill="#5d5ba9"/>
<rect x="498.96" y="120.9" width="0.57" height="4.1" fill="#5d5ba8"/>
<rect x="499.48" y="120.9" width="0.57" height="4.1" fill="#5c5aa8"/>
<rect x="500" y="120.9" width="0.15" height="4.1" fill="#5452a1"/>
<rect x="500.1" y="120.9" width="0.57" height="4.1" fill="#4c4a9a"/>
<rect x="500.62" y="120.9" width="0.57" height="4.1" fill="#4c4a9a"/>
<rect x="501.15" y="120.9" width="0.57" height="4.1" fill="#4c4a9a"/>
<rect x="501.67" y="120.9" width="0.57" height="4.1" fill="#4b499a"/>
<rect x="502.19" y="120.9" width="0.57" height="4.1" fill="#4b499a"/>
<rect x="502.72" y="120.9" width="0.57" height="4.1" fill="#4b499a"/>
<rect x="503.24" y="120.9" width="0.57" height="4.1" fill="#4b499a"/>
<rect x="503.76" y="120.9" width="0.57" height="4.1" fill="#4b499a"/>
<rect x="504.28" y="120.9" width="0.57" height="4.1" fill="#4b499a"/>
<rect x="504.81" y="120.9" width="0.57" height="4.1" fill="#4b499a"/>
<rect x="505.33" y="120.9" width="0.57" height="4.1" fill="#4a489a"/>
<rect x="505.85" y="120.9" width="0.57" height="4.1" fill="#4a489a"/>
<rect x="506.38" y="120.9" width="0.57" height="4.1" fill="#4a489a"/>
<polygon points="380.4,151.8 380.6,144.8 390,146.5 405,148 420,149.2 440,150.8 460,152 480,152.8 495,153.8 502,155.5 505,158 506.5,160.5 506.5,151.8" fill="#cbc3c3" stroke="none" stroke-width="1"/>
<polyline points="380.6,97.5 380.6,93 383.2,81.3 385.9,77.3 388.5,69.5 392.4,62.4 396.3,59 400.3,56.4 404.2,50.6 409.4,49.9 413.3,47.8 417.3,49.3 422.5,50.6 430.4,55.1 440.8,63.5 451.3,73.4 461.8,80.7 474.9,89.1 485.3,93 493.2,96.5 499.7,98.3 506.3,97.5" fill="none" stroke="#8cae3c" stroke-width="1.35" stroke-linejoin="round"/>
<rect x="380.4" y="45.4" width="132.3" height="117.9" fill="none" stroke="#1a1a1a" stroke-width="1.1"/>
<line x1="377.2" y1="49.58" x2="380.4" y2="49.58" stroke="#222" stroke-width="0.9"/>
<text x="374.4" y="51.48" font-size="5.25" fill="#3a3a3a" text-anchor="end" textLength="9.2" lengthAdjust="spacingAndGlyphs">0.40</text>
<line x1="377.2" y1="55.57" x2="380.4" y2="55.57" stroke="#222" stroke-width="0.9"/>
<text x="374.4" y="57.47" font-size="5.25" fill="#3a3a3a" text-anchor="end" textLength="9.2" lengthAdjust="spacingAndGlyphs">0.35</text>
<line x1="377.2" y1="61.56" x2="380.4" y2="61.56" stroke="#222" stroke-width="0.9"/>
<text x="374.4" y="63.46" font-size="5.25" fill="#3a3a3a" text-anchor="end" textLength="9.2" lengthAdjust="spacingAndGlyphs">0.30</text>
<line x1="377.2" y1="67.55" x2="380.4" y2="67.55" stroke="#222" stroke-width="0.9"/>
<text x="374.4" y="69.45" font-size="5.25" fill="#3a3a3a" text-anchor="end" textLength="9.2" lengthAdjust="spacingAndGlyphs">0.25</text>
<line x1="377.2" y1="73.54" x2="380.4" y2="73.54" stroke="#222" stroke-width="0.9"/>
<text x="374.4" y="75.44" font-size="5.25" fill="#3a3a3a" text-anchor="end" textLength="9.2" lengthAdjust="spacingAndGlyphs">0.20</text>
<line x1="377.2" y1="79.53" x2="380.4" y2="79.53" stroke="#222" stroke-width="0.9"/>
<text x="374.4" y="81.43" font-size="5.25" fill="#3a3a3a" text-anchor="end" textLength="9.2" lengthAdjust="spacingAndGlyphs">0.15</text>
<line x1="377.2" y1="85.52" x2="380.4" y2="85.52" stroke="#222" stroke-width="0.9"/>
<text x="374.4" y="87.42" font-size="5.25" fill="#3a3a3a" text-anchor="end" textLength="9.2" lengthAdjust="spacingAndGlyphs">0.10</text>
<line x1="377.2" y1="91.51" x2="380.4" y2="91.51" stroke="#222" stroke-width="0.9"/>
<text x="374.4" y="93.41" font-size="5.25" fill="#3a3a3a" text-anchor="end" textLength="9.2" lengthAdjust="spacingAndGlyphs">0.05</text>
<line x1="377.2" y1="97.5" x2="380.4" y2="97.5" stroke="#222" stroke-width="0.9"/>
<text x="374.4" y="99.4" font-size="5.25" fill="#3a3a3a" text-anchor="end" textLength="9.2" lengthAdjust="spacingAndGlyphs">0.00</text>
<text x="374.4" y="127.9" font-size="5.25" fill="#2a2a2a" text-anchor="end" textLength="6.4" lengthAdjust="spacingAndGlyphs">2.0</text>
<text x="374.4" y="134.35" font-size="5.25" fill="#2a2a2a" text-anchor="end" textLength="6.4" lengthAdjust="spacingAndGlyphs">1.5</text>
<text x="374.4" y="140.8" font-size="5.25" fill="#2a2a2a" text-anchor="end" textLength="6.4" lengthAdjust="spacingAndGlyphs">1.0</text>
<text x="374.4" y="147.25" font-size="5.25" fill="#2a2a2a" text-anchor="end" textLength="6.4" lengthAdjust="spacingAndGlyphs">0.5</text>
<text x="374.4" y="153.7" font-size="5.25" fill="#2a2a2a" text-anchor="end" textLength="6.4" lengthAdjust="spacingAndGlyphs">0.0</text>
<text x="374.4" y="160.15" font-size="5.25" fill="#2a2a2a" text-anchor="end" textLength="8.3" lengthAdjust="spacingAndGlyphs">-0.5</text>
<line x1="380.2" y1="163.3" x2="380.2" y2="166.2" stroke="#222" stroke-width="0.9"/>
<text x="383.3" y="172.2" font-size="5.25" fill="#2a2a2a" text-anchor="end" transform="rotate(-45 383.3 172.2)" textLength="2.34" lengthAdjust="spacingAndGlyphs">0</text>
<line x1="398.2" y1="163.3" x2="398.2" y2="166.2" stroke="#222" stroke-width="0.9"/>
<text x="401.3" y="172.2" font-size="5.25" fill="#2a2a2a" text-anchor="end" transform="rotate(-45 401.3 172.2)" textLength="10.51" lengthAdjust="spacingAndGlyphs">5,000</text>
<line x1="416.2" y1="163.3" x2="416.2" y2="166.2" stroke="#222" stroke-width="0.9"/>
<text x="419.3" y="172.2" font-size="5.25" fill="#2a2a2a" text-anchor="end" transform="rotate(-45 419.3 172.2)" textLength="12.85" lengthAdjust="spacingAndGlyphs">10,000</text>
<line x1="434.2" y1="163.3" x2="434.2" y2="166.2" stroke="#222" stroke-width="0.9"/>
<text x="437.3" y="172.2" font-size="5.25" fill="#2a2a2a" text-anchor="end" transform="rotate(-45 437.3 172.2)" textLength="12.85" lengthAdjust="spacingAndGlyphs">15,000</text>
<line x1="452.2" y1="163.3" x2="452.2" y2="166.2" stroke="#222" stroke-width="0.9"/>
<text x="455.3" y="172.2" font-size="5.25" fill="#2a2a2a" text-anchor="end" transform="rotate(-45 455.3 172.2)" textLength="12.85" lengthAdjust="spacingAndGlyphs">20,000</text>
<line x1="470.2" y1="163.3" x2="470.2" y2="166.2" stroke="#222" stroke-width="0.9"/>
<text x="473.3" y="172.2" font-size="5.25" fill="#2a2a2a" text-anchor="end" transform="rotate(-45 473.3 172.2)" textLength="12.85" lengthAdjust="spacingAndGlyphs">25,000</text>
<line x1="488.2" y1="163.3" x2="488.2" y2="166.2" stroke="#222" stroke-width="0.9"/>
<text x="491.3" y="172.2" font-size="5.25" fill="#2a2a2a" text-anchor="end" transform="rotate(-45 491.3 172.2)" textLength="12.85" lengthAdjust="spacingAndGlyphs">30,000</text>
<line x1="506.2" y1="163.3" x2="506.2" y2="166.2" stroke="#222" stroke-width="0.9"/>
<text x="509.3" y="172.2" font-size="5.25" fill="#2a2a2a" text-anchor="end" transform="rotate(-45 509.3 172.2)" textLength="12.85" lengthAdjust="spacingAndGlyphs">35,000</text>
<text x="446" y="193.6" font-size="7.56" fill="#1a1a1a" text-anchor="middle" textLength="73.3" lengthAdjust="spacingAndGlyphs" stroke="#1a1a1a" stroke-width="0.15">Rank in ordered dataset</text>
<text x="358.8" y="73.2" font-size="7.56" fill="#222" text-anchor="middle" transform="rotate(-90 358.8 73.2)" textLength="66.7" lengthAdjust="spacingAndGlyphs">Enrichment score (ES)</text>
<text x="351.5" y="143.1" font-size="7.56" fill="#222" text-anchor="middle" transform="rotate(-90 351.5 143.1)" textLength="54.3" lengthAdjust="spacingAndGlyphs">Ranked list metric</text>
<text x="360.6" y="142.1" font-size="7.56" fill="#222" text-anchor="middle" transform="rotate(-90 360.6 142.1)" textLength="44.2" lengthAdjust="spacingAndGlyphs">(Signal2Noise)</text>
<text x="446" y="28.8" font-size="5.5" fill="#2a2a2a" text-anchor="middle" textLength="36.5" lengthAdjust="spacingAndGlyphs">Enrichment plot:</text>
<text x="446" y="35.2" font-size="5.5" fill="#2a2a2a" text-anchor="middle" textLength="110.6" lengthAdjust="spacingAndGlyphs">GO_POSITIVE_REGULATION_OF_MAPK_CASCADE</text>
<text x="482.7" y="55.3" font-size="5" fill="#555" textLength="14.9" lengthAdjust="spacingAndGlyphs">NES 2.0</text>
<text x="482.7" y="60.3" font-size="5" fill="#555" textLength="20.45" lengthAdjust="spacingAndGlyphs">FDR q 0.00</text>
<text x="383.3" y="128.8" font-size="4.88" fill="#d0786c" textLength="51.3" lengthAdjust="spacingAndGlyphs">'ClassA' (positively correlated)</text>
<text x="387.2" y="136.3" font-size="4.88" fill="#444" textLength="21.9" lengthAdjust="spacingAndGlyphs">NCAM_high</text>
<text x="505" y="136.3" font-size="4.88" fill="#444" text-anchor="end" textLength="20.4" lengthAdjust="spacingAndGlyphs">NCAM_low</text>
<text x="443.2" y="146.3" font-size="4.88" fill="#444" text-anchor="middle" textLength="33" lengthAdjust="spacingAndGlyphs">Zero cross at 16676</text>
<text x="447" y="162" font-size="4.88" fill="#7777c4" textLength="53.5" lengthAdjust="spacingAndGlyphs">'ClassA' (negatively correlated)</text>
<line x1="16" y1="201.4" x2="21" y2="201.4" stroke="#9cc15a" stroke-width="0.9"/>
<text x="24" y="203.1" font-size="5.25" fill="#333" textLength="41" lengthAdjust="spacingAndGlyphs">Enrichment profile</text>
<line x1="71" y1="201.4" x2="76" y2="201.4" stroke="#222" stroke-width="0.9"/>
<text x="79" y="203.1" font-size="5.25" fill="#333" textLength="9" lengthAdjust="spacingAndGlyphs">Hits</text>
<line x1="90.8" y1="201.4" x2="95.8" y2="201.4" stroke="#ccc" stroke-width="0.6"/>
<line x1="98" y1="201.4" x2="103" y2="201.4" stroke="#ccc" stroke-width="0.6"/>
<text x="106" y="203.1" font-size="5.25" fill="#333" textLength="49" lengthAdjust="spacingAndGlyphs">Ranking metric scores</text>
<line x1="185.2" y1="201.4" x2="190.2" y2="201.4" stroke="#9cc15a" stroke-width="0.9"/>
<text x="193.2" y="203.1" font-size="5.25" fill="#333" textLength="41" lengthAdjust="spacingAndGlyphs">Enrichment profile</text>
<line x1="240.2" y1="201.4" x2="245.2" y2="201.4" stroke="#222" stroke-width="0.9"/>
<text x="248.2" y="203.1" font-size="5.25" fill="#333" textLength="9" lengthAdjust="spacingAndGlyphs">Hits</text>
<line x1="260" y1="201.4" x2="265" y2="201.4" stroke="#ccc" stroke-width="0.6"/>
<line x1="267.2" y1="201.4" x2="272.2" y2="201.4" stroke="#ccc" stroke-width="0.6"/>
<text x="275.2" y="203.1" font-size="5.25" fill="#333" textLength="49" lengthAdjust="spacingAndGlyphs">Ranking metric scores</text>
<line x1="358.2" y1="201.4" x2="363.2" y2="201.4" stroke="#9cc15a" stroke-width="0.9"/>
<text x="366.2" y="203.1" font-size="5.25" fill="#333" textLength="41" lengthAdjust="spacingAndGlyphs">Enrichment profile</text>
<line x1="413.2" y1="201.4" x2="418.2" y2="201.4" stroke="#222" stroke-width="0.9"/>
<text x="421.2" y="203.1" font-size="5.25" fill="#333" textLength="9" lengthAdjust="spacingAndGlyphs">Hits</text>
<line x1="433" y1="201.4" x2="438" y2="201.4" stroke="#ccc" stroke-width="0.6"/>
<line x1="440.2" y1="201.4" x2="445.2" y2="201.4" stroke="#ccc" stroke-width="0.6"/>
<text x="448.2" y="203.1" font-size="5.25" fill="#333" textLength="49" lengthAdjust="spacingAndGlyphs">Ranking metric scores</text>
<text x="8.8" y="217.2" font-size="9.5" fill="#1a1a1a" textLength="5.4" lengthAdjust="spacingAndGlyphs">E</text>
<rect x="93.7" y="222" width="7.07" height="22.53" fill="#a9c4e4"/>
<rect x="93.7" y="244.48" width="7.07" height="22.53" fill="#aac3e3"/>
<rect x="93.7" y="266.96" width="7.07" height="22.53" fill="#c4d4ea"/>
<rect x="93.7" y="289.44" width="7.07" height="22.53" fill="#f1c7c1"/>
<rect x="93.7" y="311.92" width="7.07" height="22.53" fill="#cfdbed"/>
<rect x="100.72" y="222" width="7.07" height="22.53" fill="#8aaed8"/>
<rect x="100.72" y="244.48" width="7.07" height="22.53" fill="#8aaed8"/>
<rect x="100.72" y="266.96" width="7.07" height="22.53" fill="#85abd6"/>
<rect x="100.72" y="289.44" width="7.07" height="22.53" fill="#e2a097"/>
<rect x="100.72" y="311.92" width="7.07" height="22.53" fill="#aec5e4"/>
<rect x="107.73" y="222" width="7.07" height="22.53" fill="#f5e3e0"/>
<rect x="107.73" y="244.48" width="7.07" height="22.53" fill="#f5e2e0"/>
<rect x="107.73" y="266.96" width="7.07" height="22.53" fill="#f0f0f3"/>
<rect x="107.73" y="289.44" width="7.07" height="22.53" fill="#cdd9eb"/>
<rect x="107.73" y="311.92" width="7.07" height="22.53" fill="#f3f3f5"/>
<rect x="114.75" y="222" width="7.07" height="22.53" fill="#a6c2e2"/>
<rect x="114.75" y="244.48" width="7.07" height="22.53" fill="#c5d6ea"/>
<rect x="114.75" y="266.96" width="7.07" height="22.53" fill="#a2c0e2"/>
<rect x="114.75" y="289.44" width="7.07" height="22.53" fill="#b4cbe6"/>
<rect x="114.75" y="311.92" width="7.07" height="22.53" fill="#f7e8e6"/>
<rect x="121.77" y="222" width="7.07" height="22.53" fill="#b6cbe6"/>
<rect x="121.77" y="244.48" width="7.07" height="22.53" fill="#adc4e4"/>
<rect x="121.77" y="266.96" width="7.07" height="22.53" fill="#9fbee0"/>
<rect x="121.77" y="289.44" width="7.07" height="22.53" fill="#d87567"/>
<rect x="121.77" y="311.92" width="7.07" height="22.53" fill="#b3c9e6"/>
<rect x="128.79" y="222" width="7.07" height="22.53" fill="#f6e6e3"/>
<rect x="128.79" y="244.48" width="7.07" height="22.53" fill="#eebcb4"/>
<rect x="128.79" y="266.96" width="7.07" height="22.53" fill="#f3d2cf"/>
<rect x="128.79" y="289.44" width="7.07" height="22.53" fill="#efbdb5"/>
<rect x="128.79" y="311.92" width="7.07" height="22.53" fill="#efc0b9"/>
<rect x="135.8" y="222" width="7.07" height="22.53" fill="#5a82bf"/>
<rect x="135.8" y="244.48" width="7.07" height="22.53" fill="#95b4dc"/>
<rect x="135.8" y="266.96" width="7.07" height="22.53" fill="#8fb1da"/>
<rect x="135.8" y="289.44" width="7.07" height="22.53" fill="#6690c8"/>
<rect x="135.8" y="311.92" width="7.07" height="22.53" fill="#c6d6eb"/>
<rect x="142.82" y="222" width="7.07" height="22.53" fill="#ffffff"/>
<rect x="142.82" y="244.48" width="7.07" height="22.53" fill="#eceff5"/>
<rect x="142.82" y="266.96" width="7.07" height="22.53" fill="#f9ebe8"/>
<rect x="142.82" y="289.44" width="7.07" height="22.53" fill="#d27060"/>
<rect x="142.82" y="311.92" width="7.07" height="22.53" fill="#d5e0ef"/>
<rect x="149.84" y="222" width="7.07" height="22.53" fill="#df8f87"/>
<rect x="149.84" y="244.48" width="7.07" height="22.53" fill="#e3a6a0"/>
<rect x="149.84" y="266.96" width="7.07" height="22.53" fill="#e09a92"/>
<rect x="149.84" y="289.44" width="7.07" height="22.53" fill="#c3533e"/>
<rect x="149.84" y="311.92" width="7.07" height="22.53" fill="#f4dbd8"/>
<rect x="156.86" y="222" width="7.07" height="22.53" fill="#fdfdfd"/>
<rect x="156.86" y="244.48" width="7.07" height="22.53" fill="#faf2ef"/>
<rect x="156.86" y="266.96" width="7.07" height="22.53" fill="#f1f2f6"/>
<rect x="156.86" y="289.44" width="7.07" height="22.53" fill="#a3c0e2"/>
<rect x="156.86" y="311.92" width="7.07" height="22.53" fill="#e4aaa3"/>
<rect x="163.87" y="222" width="7.07" height="22.53" fill="#e0a09a"/>
<rect x="163.87" y="244.48" width="7.07" height="22.53" fill="#edbdb6"/>
<rect x="163.87" y="266.96" width="7.07" height="22.53" fill="#d8796b"/>
<rect x="163.87" y="289.44" width="7.07" height="22.53" fill="#e6aaa2"/>
<rect x="163.87" y="311.92" width="7.07" height="22.53" fill="#fbfbfb"/>
<rect x="170.89" y="222" width="7.07" height="22.53" fill="#f1cfcb"/>
<rect x="170.89" y="244.48" width="7.07" height="22.53" fill="#f1dedd"/>
<rect x="170.89" y="266.96" width="7.07" height="22.53" fill="#fbfbfb"/>
<rect x="170.89" y="289.44" width="7.07" height="22.53" fill="#e09a90"/>
<rect x="170.89" y="311.92" width="7.07" height="22.53" fill="#fcf6f5"/>
<rect x="177.91" y="222" width="7.07" height="22.53" fill="#df9990"/>
<rect x="177.91" y="244.48" width="7.07" height="22.53" fill="#dd8f85"/>
<rect x="177.91" y="266.96" width="7.07" height="22.53" fill="#dc8a7f"/>
<rect x="177.91" y="289.44" width="7.07" height="22.53" fill="#cd6453"/>
<rect x="177.91" y="311.92" width="7.07" height="22.53" fill="#e3a9a2"/>
<rect x="184.92" y="222" width="7.07" height="22.53" fill="#d8837a"/>
<rect x="184.92" y="244.48" width="7.07" height="22.53" fill="#d7817a"/>
<rect x="184.92" y="266.96" width="7.07" height="22.53" fill="#e19e95"/>
<rect x="184.92" y="289.44" width="7.07" height="22.53" fill="#d98175"/>
<rect x="184.92" y="311.92" width="7.07" height="22.53" fill="#e3a9a1"/>
<rect x="191.94" y="222" width="7.07" height="22.53" fill="#d98277"/>
<rect x="191.94" y="244.48" width="7.07" height="22.53" fill="#e09d93"/>
<rect x="191.94" y="266.96" width="7.07" height="22.53" fill="#e6b2aa"/>
<rect x="191.94" y="289.44" width="7.07" height="22.53" fill="#d88074"/>
<rect x="191.94" y="311.92" width="7.07" height="22.53" fill="#da8c82"/>
<rect x="198.96" y="222" width="7.07" height="22.53" fill="#df978d"/>
<rect x="198.96" y="244.48" width="7.07" height="22.53" fill="#e0a09a"/>
<rect x="198.96" y="266.96" width="7.07" height="22.53" fill="#d06e5f"/>
<rect x="198.96" y="289.44" width="7.07" height="22.53" fill="#c95642"/>
<rect x="198.96" y="311.92" width="7.07" height="22.53" fill="#f1cdc9"/>
<rect x="205.98" y="222" width="7.07" height="22.53" fill="#d47a6d"/>
<rect x="205.98" y="244.48" width="7.07" height="22.53" fill="#d9867b"/>
<rect x="205.98" y="266.96" width="7.07" height="22.53" fill="#fbfbfb"/>
<rect x="205.98" y="289.44" width="7.07" height="22.53" fill="#fbfbfb"/>
<rect x="205.98" y="311.92" width="7.07" height="22.53" fill="#d98a80"/>
<rect x="212.99" y="222" width="7.07" height="22.53" fill="#f3dcda"/>
<rect x="212.99" y="244.48" width="7.07" height="22.53" fill="#f8f5f5"/>
<rect x="212.99" y="266.96" width="7.07" height="22.53" fill="#aac4e4"/>
<rect x="212.99" y="289.44" width="7.07" height="22.53" fill="#f8e6e4"/>
<rect x="212.99" y="311.92" width="7.07" height="22.53" fill="#e6b3ad"/>
<rect x="220.01" y="222" width="7.07" height="22.53" fill="#f5f7f9"/>
<rect x="220.01" y="244.48" width="7.07" height="22.53" fill="#f7f8f8"/>
<rect x="220.01" y="266.96" width="7.07" height="22.53" fill="#fbfbfb"/>
<rect x="220.01" y="289.44" width="7.07" height="22.53" fill="#d98478"/>
<rect x="220.01" y="311.92" width="7.07" height="22.53" fill="#f4f6f8"/>
<rect x="227.03" y="222" width="7.07" height="22.53" fill="#f0cdc9"/>
<rect x="227.03" y="244.48" width="7.07" height="22.53" fill="#f5e1df"/>
<rect x="227.03" y="266.96" width="7.07" height="22.53" fill="#df9a92"/>
<rect x="227.03" y="289.44" width="7.07" height="22.53" fill="#fbfbfb"/>
<rect x="227.03" y="311.92" width="7.07" height="22.53" fill="#e7b0aa"/>
<rect x="234.04" y="222" width="7.07" height="22.53" fill="#bccfe8"/>
<rect x="234.04" y="244.48" width="7.07" height="22.53" fill="#bed1e8"/>
<rect x="234.04" y="266.96" width="7.07" height="22.53" fill="#a0bfe2"/>
<rect x="234.04" y="289.44" width="7.07" height="22.53" fill="#d27564"/>
<rect x="234.04" y="311.92" width="7.07" height="22.53" fill="#c3d4ea"/>
<rect x="241.06" y="222" width="7.07" height="22.53" fill="#e6aba4"/>
<rect x="241.06" y="244.48" width="7.07" height="22.53" fill="#f0cdc8"/>
<rect x="241.06" y="266.96" width="7.07" height="22.53" fill="#d8e2ef"/>
<rect x="241.06" y="289.44" width="7.07" height="22.53" fill="#cb5e4b"/>
<rect x="241.06" y="311.92" width="7.07" height="22.53" fill="#c85a47"/>
<rect x="248.08" y="222" width="7.07" height="22.53" fill="#e6aea6"/>
<rect x="248.08" y="244.48" width="7.07" height="22.53" fill="#ecbfb8"/>
<rect x="248.08" y="266.96" width="7.07" height="22.53" fill="#eff0f5"/>
<rect x="248.08" y="289.44" width="7.07" height="22.53" fill="#d27262"/>
<rect x="248.08" y="311.92" width="7.07" height="22.53" fill="#f3f4f7"/>
<rect x="255.1" y="222" width="7.07" height="22.53" fill="#e2a39b"/>
<rect x="255.1" y="244.48" width="7.07" height="22.53" fill="#e3a39b"/>
<rect x="255.1" y="266.96" width="7.07" height="22.53" fill="#e5a7a0"/>
<rect x="255.1" y="289.44" width="7.07" height="22.53" fill="#f3d3d0"/>
<rect x="255.1" y="311.92" width="7.07" height="22.53" fill="#e5aaa3"/>
<rect x="262.11" y="222" width="7.07" height="22.53" fill="#f3e0df"/>
<rect x="262.11" y="244.48" width="7.07" height="22.53" fill="#f0cfcb"/>
<rect x="262.11" y="266.96" width="7.07" height="22.53" fill="#f7ecea"/>
<rect x="262.11" y="289.44" width="7.07" height="22.53" fill="#df9b92"/>
<rect x="262.11" y="311.92" width="7.07" height="22.53" fill="#f6e8e6"/>
<rect x="269.13" y="222" width="7.07" height="22.53" fill="#e8b0aa"/>
<rect x="269.13" y="244.48" width="7.07" height="22.53" fill="#e5a79f"/>
<rect x="269.13" y="266.96" width="7.07" height="22.53" fill="#efc6c0"/>
<rect x="269.13" y="289.44" width="7.07" height="22.53" fill="#d9857a"/>
<rect x="269.13" y="311.92" width="7.07" height="22.53" fill="#e4e9f2"/>
<rect x="276.15" y="222" width="7.07" height="22.53" fill="#f6eeeb"/>
<rect x="276.15" y="244.48" width="7.07" height="22.53" fill="#ecbcb5"/>
<rect x="276.15" y="266.96" width="7.07" height="22.53" fill="#efc6c0"/>
<rect x="276.15" y="289.44" width="7.07" height="22.53" fill="#cc5f4c"/>
<rect x="276.15" y="311.92" width="7.07" height="22.53" fill="#c8604d"/>
<rect x="283.17" y="222" width="7.07" height="22.53" fill="#dd9289"/>
<rect x="283.17" y="244.48" width="7.07" height="22.53" fill="#dd8f87"/>
<rect x="283.17" y="266.96" width="7.07" height="22.53" fill="#cf6c5b"/>
<rect x="283.17" y="289.44" width="7.07" height="22.53" fill="#d57a6b"/>
<rect x="283.17" y="311.92" width="7.07" height="22.53" fill="#f8f5f2"/>
<rect x="290.18" y="222" width="7.07" height="22.53" fill="#fbfbfb"/>
<rect x="290.18" y="244.48" width="7.07" height="22.53" fill="#fbfbfb"/>
<rect x="290.18" y="266.96" width="7.07" height="22.53" fill="#fbfbfb"/>
<rect x="290.18" y="289.44" width="7.07" height="22.53" fill="#fbfbfb"/>
<rect x="290.18" y="311.92" width="7.07" height="22.53" fill="#a7c3e3"/>
<line x1="164.37" y1="312.02" x2="170.39" y2="334.3" stroke="#111" stroke-width="1.05"/>
<line x1="170.39" y1="312.02" x2="164.37" y2="334.3" stroke="#111" stroke-width="1.05"/>
<line x1="171.39" y1="267.06" x2="177.41" y2="289.34" stroke="#111" stroke-width="1.05"/>
<line x1="177.41" y1="267.06" x2="171.39" y2="289.34" stroke="#111" stroke-width="1.05"/>
<line x1="206.48" y1="267.06" x2="212.49" y2="289.34" stroke="#111" stroke-width="1.05"/>
<line x1="212.49" y1="267.06" x2="206.48" y2="289.34" stroke="#111" stroke-width="1.05"/>
<line x1="206.48" y1="289.54" x2="212.49" y2="311.82" stroke="#111" stroke-width="1.05"/>
<line x1="212.49" y1="289.54" x2="206.48" y2="311.82" stroke="#111" stroke-width="1.05"/>
<line x1="220.51" y1="267.06" x2="226.53" y2="289.34" stroke="#111" stroke-width="1.05"/>
<line x1="226.53" y1="267.06" x2="220.51" y2="289.34" stroke="#111" stroke-width="1.05"/>
<line x1="227.53" y1="289.54" x2="233.54" y2="311.82" stroke="#111" stroke-width="1.05"/>
<line x1="233.54" y1="289.54" x2="227.53" y2="311.82" stroke="#111" stroke-width="1.05"/>
<line x1="290.68" y1="222.1" x2="296.7" y2="244.38" stroke="#111" stroke-width="1.05"/>
<line x1="296.7" y1="222.1" x2="290.68" y2="244.38" stroke="#111" stroke-width="1.05"/>
<line x1="290.68" y1="244.58" x2="296.7" y2="266.86" stroke="#111" stroke-width="1.05"/>
<line x1="296.7" y1="244.58" x2="290.68" y2="266.86" stroke="#111" stroke-width="1.05"/>
<line x1="290.68" y1="267.06" x2="296.7" y2="289.34" stroke="#111" stroke-width="1.05"/>
<line x1="296.7" y1="267.06" x2="290.68" y2="289.34" stroke="#111" stroke-width="1.05"/>
<line x1="290.68" y1="289.54" x2="296.7" y2="311.82" stroke="#111" stroke-width="1.05"/>
<line x1="296.7" y1="289.54" x2="290.68" y2="311.82" stroke="#111" stroke-width="1.05"/>
<rect x="93.7" y="222" width="203.5" height="112.4" fill="none" stroke="#333" stroke-width="0.9"/>
<text x="90.4" y="235.6" font-size="6.88" fill="#222" text-anchor="end" textLength="66" lengthAdjust="spacingAndGlyphs">Trametinib (MEK1, MEK2)</text>
<text x="90.4" y="258.5" font-size="6.88" fill="#222" text-anchor="end" textLength="62.4" lengthAdjust="spacingAndGlyphs">RDEA119 (MEK1, MEK2)</text>
<text x="90.4" y="281.4" font-size="6.88" fill="#222" text-anchor="end" textLength="69.8" lengthAdjust="spacingAndGlyphs">Selumetinib (MEK1, MEK2)</text>
<text x="90.4" y="303.5" font-size="6.88" fill="#222" text-anchor="end" textLength="70.3" lengthAdjust="spacingAndGlyphs">PD-0325901 (MEK1, MEK2)</text>
<text x="90.4" y="326.4" font-size="6.88" fill="#222" text-anchor="end" textLength="77.5" lengthAdjust="spacingAndGlyphs">(5Z)-7-Oxozeaenol (MAP3K7)</text>
<text x="97.41" y="342.6" font-size="5.5" fill="#2a2a2a" text-anchor="end" transform="rotate(-45 97.41 342.6)" textLength="20.78" lengthAdjust="spacingAndGlyphs">OCI-AML3</text>
<text x="104.43" y="342.6" font-size="5.5" fill="#2a2a2a" text-anchor="end" transform="rotate(-45 104.43 342.6)" textLength="20.78" lengthAdjust="spacingAndGlyphs">OCI-AML2</text>
<text x="111.44" y="342.6" font-size="5.5" fill="#2a2a2a" text-anchor="end" transform="rotate(-45 111.44 342.6)" textLength="20.78" lengthAdjust="spacingAndGlyphs">OCI-AML5</text>
<text x="118.46" y="342.6" font-size="5.5" fill="#2a2a2a" text-anchor="end" transform="rotate(-45 118.46 342.6)" textLength="17.6" lengthAdjust="spacingAndGlyphs">NOMO-1</text>
<text x="125.48" y="342.6" font-size="5.5" fill="#2a2a2a" text-anchor="end" transform="rotate(-45 125.48 342.6)" textLength="10.03" lengthAdjust="spacingAndGlyphs">NB-4</text>
<text x="132.49" y="342.6" font-size="5.5" fill="#2a2a2a" text-anchor="end" transform="rotate(-45 132.49 342.6)" textLength="19.56" lengthAdjust="spacingAndGlyphs">MOLM-13</text>
<text x="139.51" y="342.6" font-size="5.5" fill="#2a2a2a" text-anchor="end" transform="rotate(-45 139.51 342.6)" textLength="13.45" lengthAdjust="spacingAndGlyphs">SKM-1</text>
<text x="146.53" y="342.6" font-size="5.5" fill="#2a2a2a" text-anchor="end" transform="rotate(-45 146.53 342.6)" textLength="10.03" lengthAdjust="spacingAndGlyphs">ML-2</text>
<text x="153.55" y="342.6" font-size="5.5" fill="#2a2a2a" text-anchor="end" transform="rotate(-45 153.55 342.6)" textLength="12.71" lengthAdjust="spacingAndGlyphs">THP-1</text>
<text x="160.56" y="342.6" font-size="5.5" fill="#2a2a2a" text-anchor="end" transform="rotate(-45 160.56 342.6)" textLength="15.08" lengthAdjust="spacingAndGlyphs">MV4-11</text>
<text x="167.58" y="342.6" font-size="5.5" fill="#2a2a2a" text-anchor="end" transform="rotate(-45 167.58 342.6)" textLength="19.56" lengthAdjust="spacingAndGlyphs">MOLM-16</text>
<text x="174.6" y="342.6" font-size="5.5" fill="#2a2a2a" text-anchor="end" transform="rotate(-45 174.6 342.6)" textLength="11.74" lengthAdjust="spacingAndGlyphs">PL-21</text>
<text x="181.62" y="342.6" font-size="5.5" fill="#2a2a2a" text-anchor="end" transform="rotate(-45 181.62 342.6)" textLength="11.98" lengthAdjust="spacingAndGlyphs">CESS</text>
<text x="188.63" y="342.6" font-size="5.5" fill="#2a2a2a" text-anchor="end" transform="rotate(-45 188.63 342.6)" textLength="9.78" lengthAdjust="spacingAndGlyphs">CMK</text>
<text x="195.65" y="342.6" font-size="5.5" fill="#2a2a2a" text-anchor="end" transform="rotate(-45 195.65 342.6)" textLength="12.47" lengthAdjust="spacingAndGlyphs">CTV-1</text>
<text x="202.67" y="342.6" font-size="5.5" fill="#2a2a2a" text-anchor="end" transform="rotate(-45 202.67 342.6)" textLength="14.18" lengthAdjust="spacingAndGlyphs">GDM-1</text>
<text x="209.68" y="342.6" font-size="5.5" fill="#2a2a2a" text-anchor="end" transform="rotate(-45 209.68 342.6)" textLength="8.56" lengthAdjust="spacingAndGlyphs">HEL</text>
<text x="216.7" y="342.6" font-size="5.5" fill="#2a2a2a" text-anchor="end" transform="rotate(-45 216.7 342.6)" textLength="11.98" lengthAdjust="spacingAndGlyphs">HL-60</text>
<text x="223.72" y="342.6" font-size="5.5" fill="#2a2a2a" text-anchor="end" transform="rotate(-45 223.72 342.6)" textLength="20.78" lengthAdjust="spacingAndGlyphs">KASUMI-1</text>
<text x="230.74" y="342.6" font-size="5.5" fill="#2a2a2a" text-anchor="end" transform="rotate(-45 230.74 342.6)" textLength="10.27" lengthAdjust="spacingAndGlyphs">KG-1</text>
<text x="237.75" y="342.6" font-size="5.5" fill="#2a2a2a" text-anchor="end" transform="rotate(-45 237.75 342.6)" textLength="20.78" lengthAdjust="spacingAndGlyphs">KASUMI-3</text>
<text x="244.77" y="342.6" font-size="5.5" fill="#2a2a2a" text-anchor="end" transform="rotate(-45 244.77 342.6)" textLength="11.25" lengthAdjust="spacingAndGlyphs">KO52</text>
<text x="251.79" y="342.6" font-size="5.5" fill="#2a2a2a" text-anchor="end" transform="rotate(-45 251.79 342.6)" textLength="10.51" lengthAdjust="spacingAndGlyphs">ME-1</text>
<text x="258.81" y="342.6" font-size="5.5" fill="#2a2a2a" text-anchor="end" transform="rotate(-45 258.81 342.6)" textLength="28.84" lengthAdjust="spacingAndGlyphs">MONO-MAC-6</text>
<text x="265.82" y="342.6" font-size="5.5" fill="#2a2a2a" text-anchor="end" transform="rotate(-45 265.82 342.6)" textLength="13.69" lengthAdjust="spacingAndGlyphs">NKM-1</text>
<text x="272.84" y="342.6" font-size="5.5" fill="#2a2a2a" text-anchor="end" transform="rotate(-45 272.84 342.6)" textLength="15.4" lengthAdjust="spacingAndGlyphs">OCI-M1</text>
<text x="279.86" y="342.6" font-size="5.5" fill="#2a2a2a" text-anchor="end" transform="rotate(-45 279.86 342.6)" textLength="17.36" lengthAdjust="spacingAndGlyphs">P31-FUJ</text>
<text x="286.87" y="342.6" font-size="5.5" fill="#2a2a2a" text-anchor="end" transform="rotate(-45 286.87 342.6)" textLength="20.78" lengthAdjust="spacingAndGlyphs">QIMR-WIL</text>
<text x="293.89" y="342.6" font-size="5.5" fill="#2a2a2a" text-anchor="end" transform="rotate(-45 293.89 342.6)" textLength="15.16" lengthAdjust="spacingAndGlyphs">SIG-M5</text>
<text x="124.4" y="214.5" font-size="7.88" fill="#222" text-anchor="middle" textLength="40" lengthAdjust="spacingAndGlyphs">NCAM high</text>
<text x="225.3" y="214.5" font-size="7.88" fill="#222" text-anchor="middle" textLength="80.5" lengthAdjust="spacingAndGlyphs">NCAM low or negative</text>
<line x1="98.5" y1="219.4" x2="150.3" y2="219.4" stroke="#8aa4d0" stroke-width="0.8"/>
<line x1="154.5" y1="219.4" x2="296.2" y2="219.4" stroke="#8aa4d0" stroke-width="0.8"/>
<defs><linearGradient id="hmcb" x1="0" y1="0" x2="0" y2="1"><stop offset="0" stop-color="#c05a48"/><stop offset="0.17" stop-color="#d38a7c"/><stop offset="0.32" stop-color="#f0d0cc"/><stop offset="0.43" stop-color="#ffffff"/><stop offset="0.5" stop-color="#ffffff"/><stop offset="0.55" stop-color="#e8eef6"/><stop offset="0.7" stop-color="#b5c9e4"/><stop offset="1" stop-color="#5a86c4"/></linearGradient></defs>
<rect x="307.4" y="222.2" width="10.3" height="111.9" fill="url(#hmcb)" stroke="#333" stroke-width="0.9"/>
<line x1="307.4" y1="270.2" x2="309" y2="270.2" stroke="#222" stroke-width="0.7"/>
<line x1="316.1" y1="270.2" x2="317.7" y2="270.2" stroke="#222" stroke-width="0.7"/>
<text x="303.8" y="224.6" font-size="5.75" fill="#333" text-anchor="middle" transform="rotate(-90 303.8 224.6)" textLength="2.56" lengthAdjust="spacingAndGlyphs">6</text>
<text x="303.8" y="270.8" font-size="5.75" fill="#333" text-anchor="middle" transform="rotate(-90 303.8 270.8)" textLength="2.56" lengthAdjust="spacingAndGlyphs">0</text>
<text x="303.8" y="322.4" font-size="5.75" fill="#333" text-anchor="middle" transform="rotate(-90 303.8 322.4)" textLength="4.09" lengthAdjust="spacingAndGlyphs">-6</text>
<text x="333.6" y="217.2" font-size="10.25" fill="#1a1a1a" textLength="5.4" lengthAdjust="spacingAndGlyphs">F</text>
<text x="422.35" y="214.8" font-size="8.25" fill="#222" text-anchor="middle" textLength="60.9" lengthAdjust="spacingAndGlyphs">50 nM Trametinib</text>
<polyline points="387.1,258.35 428.3,263.28 469.5,264.3" fill="none" stroke="#62a84e" stroke-width="1.2"/>
<line x1="387.1" y1="256.31" x2="387.1" y2="260.39" stroke="#62a84e" stroke-width="0.8"/>
<line x1="385.6" y1="256.31" x2="388.6" y2="256.31" stroke="#62a84e" stroke-width="0.8"/>
<line x1="385.6" y1="260.39" x2="388.6" y2="260.39" stroke="#62a84e" stroke-width="0.8"/>
<circle cx="387.1" cy="258.35" r="1.5" fill="#62a84e"/>
<line x1="428.3" y1="258.18" x2="428.3" y2="268.38" stroke="#62a84e" stroke-width="0.8"/>
<line x1="426.8" y1="258.18" x2="429.8" y2="258.18" stroke="#62a84e" stroke-width="0.8"/>
<line x1="426.8" y1="268.38" x2="429.8" y2="268.38" stroke="#62a84e" stroke-width="0.8"/>
<circle cx="428.3" cy="263.28" r="1.5" fill="#62a84e"/>
<line x1="469.5" y1="258.35" x2="469.5" y2="270.25" stroke="#62a84e" stroke-width="0.8"/>
<line x1="468" y1="258.35" x2="471" y2="258.35" stroke="#62a84e" stroke-width="0.8"/>
<line x1="468" y1="270.25" x2="471" y2="270.25" stroke="#62a84e" stroke-width="0.8"/>
<circle cx="469.5" cy="264.3" r="1.5" fill="#62a84e"/>
<polyline points="387.1,256.65 428.3,254.1 469.5,253.25" fill="none" stroke="#b32f4a" stroke-width="1.2"/>
<line x1="387.1" y1="254.1" x2="387.1" y2="259.2" stroke="#b32f4a" stroke-width="0.8"/>
<line x1="385.6" y1="254.1" x2="388.6" y2="254.1" stroke="#b32f4a" stroke-width="0.8"/>
<line x1="385.6" y1="259.2" x2="388.6" y2="259.2" stroke="#b32f4a" stroke-width="0.8"/>
<rect x="385.6" y="255.15" width="3" height="3" fill="#b32f4a"/>
<line x1="428.3" y1="249.85" x2="428.3" y2="258.35" stroke="#b32f4a" stroke-width="0.8"/>
<line x1="426.8" y1="249.85" x2="429.8" y2="249.85" stroke="#b32f4a" stroke-width="0.8"/>
<line x1="426.8" y1="258.35" x2="429.8" y2="258.35" stroke="#b32f4a" stroke-width="0.8"/>
<rect x="426.8" y="252.6" width="3" height="3" fill="#b32f4a"/>
<line x1="469.5" y1="243.05" x2="469.5" y2="263.45" stroke="#b32f4a" stroke-width="0.8"/>
<line x1="468" y1="243.05" x2="471" y2="243.05" stroke="#b32f4a" stroke-width="0.8"/>
<line x1="468" y1="263.45" x2="471" y2="263.45" stroke="#b32f4a" stroke-width="0.8"/>
<rect x="468" y="251.75" width="3" height="3" fill="#b32f4a"/>
<polyline points="387.1,262.94 428.3,279.6 469.5,300.85" fill="none" stroke="#e2992c" stroke-width="1.2"/>
<line x1="387.1" y1="260.9" x2="387.1" y2="264.98" stroke="#e2992c" stroke-width="0.8"/>
<line x1="385.6" y1="260.9" x2="388.6" y2="260.9" stroke="#e2992c" stroke-width="0.8"/>
<line x1="385.6" y1="264.98" x2="388.6" y2="264.98" stroke="#e2992c" stroke-width="0.8"/>
<line x1="428.3" y1="272.8" x2="428.3" y2="286.4" stroke="#e2992c" stroke-width="0.8"/>
<line x1="426.8" y1="272.8" x2="429.8" y2="272.8" stroke="#e2992c" stroke-width="0.8"/>
<line x1="426.8" y1="286.4" x2="429.8" y2="286.4" stroke="#e2992c" stroke-width="0.8"/>
<line x1="469.5" y1="290.65" x2="469.5" y2="311.05" stroke="#e2992c" stroke-width="0.8"/>
<line x1="468" y1="290.65" x2="471" y2="290.65" stroke="#e2992c" stroke-width="0.8"/>
<line x1="468" y1="311.05" x2="471" y2="311.05" stroke="#e2992c" stroke-width="0.8"/>
<polyline points="387.1,257.5 428.3,271.1 469.5,327.2" fill="none" stroke="#2c4675" stroke-width="1.2"/>
<line x1="387.1" y1="255.46" x2="387.1" y2="259.54" stroke="#2c4675" stroke-width="0.8"/>
<line x1="385.6" y1="255.46" x2="388.6" y2="255.46" stroke="#2c4675" stroke-width="0.8"/>
<line x1="385.6" y1="259.54" x2="388.6" y2="259.54" stroke="#2c4675" stroke-width="0.8"/>
<line x1="428.3" y1="258.35" x2="428.3" y2="283.85" stroke="#2c4675" stroke-width="0.8"/>
<line x1="426.8" y1="258.35" x2="429.8" y2="258.35" stroke="#2c4675" stroke-width="0.8"/>
<line x1="426.8" y1="283.85" x2="429.8" y2="283.85" stroke="#2c4675" stroke-width="0.8"/>
<line x1="469.5" y1="322.95" x2="469.5" y2="331.45" stroke="#2c4675" stroke-width="0.8"/>
<line x1="468" y1="322.95" x2="471" y2="322.95" stroke="#2c4675" stroke-width="0.8"/>
<line x1="468" y1="331.45" x2="471" y2="331.45" stroke="#2c4675" stroke-width="0.8"/>
<polyline points="387.1,264.3 428.3,300.85 469.5,330.6" fill="none" stroke="#5b9fd8" stroke-width="1.2"/>
<line x1="387.1" y1="260.05" x2="387.1" y2="268.55" stroke="#5b9fd8" stroke-width="0.8"/>
<line x1="385.6" y1="260.05" x2="388.6" y2="260.05" stroke="#5b9fd8" stroke-width="0.8"/>
<line x1="385.6" y1="268.55" x2="388.6" y2="268.55" stroke="#5b9fd8" stroke-width="0.8"/>
<line x1="428.3" y1="294.05" x2="428.3" y2="307.65" stroke="#5b9fd8" stroke-width="0.8"/>
<line x1="426.8" y1="294.05" x2="429.8" y2="294.05" stroke="#5b9fd8" stroke-width="0.8"/>
<line x1="426.8" y1="307.65" x2="429.8" y2="307.65" stroke="#5b9fd8" stroke-width="0.8"/>
<line x1="469.5" y1="324.65" x2="469.5" y2="336.55" stroke="#5b9fd8" stroke-width="0.8"/>
<line x1="468" y1="324.65" x2="471" y2="324.65" stroke="#5b9fd8" stroke-width="0.8"/>
<line x1="468" y1="336.55" x2="471" y2="336.55" stroke="#5b9fd8" stroke-width="0.8"/>
<line x1="372" y1="219.5" x2="372" y2="358.3" stroke="#222" stroke-width="1.1"/>
<line x1="371.5" y1="357.8" x2="473.5" y2="357.8" stroke="#222" stroke-width="1.1"/>
<line x1="369" y1="221.8" x2="372" y2="221.8" stroke="#222" stroke-width="0.9"/>
<text x="365.6" y="223.9" font-size="6.12" fill="#333" text-anchor="end" textLength="8.18" lengthAdjust="spacingAndGlyphs">120</text>
<line x1="369" y1="255.8" x2="372" y2="255.8" stroke="#222" stroke-width="0.9"/>
<text x="365.6" y="257.9" font-size="6.12" fill="#333" text-anchor="end" textLength="8.18" lengthAdjust="spacingAndGlyphs">100</text>
<line x1="369" y1="289.8" x2="372" y2="289.8" stroke="#222" stroke-width="0.9"/>
<text x="365.6" y="291.9" font-size="6.12" fill="#333" text-anchor="end" textLength="5.45" lengthAdjust="spacingAndGlyphs">80</text>
<line x1="369" y1="323.8" x2="372" y2="323.8" stroke="#222" stroke-width="0.9"/>
<text x="365.6" y="325.9" font-size="6.12" fill="#333" text-anchor="end" textLength="5.45" lengthAdjust="spacingAndGlyphs">60</text>
<line x1="369" y1="357.8" x2="372" y2="357.8" stroke="#222" stroke-width="0.9"/>
<text x="365.6" y="359.9" font-size="6.12" fill="#333" text-anchor="end" textLength="5.45" lengthAdjust="spacingAndGlyphs">40</text>
<line x1="387.1" y1="357.8" x2="387.1" y2="360.8" stroke="#222" stroke-width="0.9"/>
<text x="387.1" y="369.3" font-size="6.12" fill="#333" text-anchor="middle" textLength="5.45" lengthAdjust="spacingAndGlyphs">24</text>
<line x1="428.3" y1="357.8" x2="428.3" y2="360.8" stroke="#222" stroke-width="0.9"/>
<text x="428.3" y="369.3" font-size="6.12" fill="#333" text-anchor="middle" textLength="5.45" lengthAdjust="spacingAndGlyphs">48</text>
<line x1="469.5" y1="357.8" x2="469.5" y2="360.8" stroke="#222" stroke-width="0.9"/>
<text x="469.5" y="369.3" font-size="6.12" fill="#333" text-anchor="middle" textLength="5.45" lengthAdjust="spacingAndGlyphs">72</text>
<text x="422.35" y="381" font-size="7.75" fill="#222" text-anchor="middle" textLength="28.3" lengthAdjust="spacingAndGlyphs">Time [h]</text>
<text x="339.6" y="288" font-size="7.75" fill="#222" text-anchor="middle" transform="rotate(-90 339.6 288)" textLength="28" lengthAdjust="spacingAndGlyphs">Survival</text>
<text x="349.4" y="288.5" font-size="7.75" fill="#222" text-anchor="middle" transform="rotate(-90 349.4 288.5)" textLength="107" lengthAdjust="spacingAndGlyphs">[% normalized to background]</text>
<line x1="374.6" y1="316.9" x2="382.7" y2="316.9" stroke="#62a84e" stroke-width="1.3"/>
<circle cx="378.6" cy="316.9" r="1.6" fill="#62a84e"/>
<text x="385.4" y="318.8" font-size="5.5" fill="#333" textLength="13.4" lengthAdjust="spacingAndGlyphs">HL-60</text>
<line x1="374.6" y1="325.4" x2="382.7" y2="325.4" stroke="#b32f4a" stroke-width="1.3"/>
<rect x="377" y="323.8" width="3.2" height="3.2" fill="#b32f4a"/>
<text x="385.4" y="327.3" font-size="5.5" fill="#333" font-style="italic" textLength="26.4" lengthAdjust="spacingAndGlyphs">MonoMac-6</text>
<line x1="374.6" y1="334.6" x2="382.7" y2="334.6" stroke="#e2992c" stroke-width="1.3"/>
<polygon points="378.6,332.68 380.36,335.88 376.84,335.88" fill="#e2992c" stroke="none" stroke-width="1"/>
<text x="385.4" y="336.5" font-size="5.5" fill="#333" textLength="19.2" lengthAdjust="spacingAndGlyphs">NOMO-1</text>
<line x1="374.6" y1="343.2" x2="382.7" y2="343.2" stroke="#2c4675" stroke-width="1.3"/>
<polygon points="378.6,341.28 380.36,344.48 376.84,344.48" fill="#2c4675" stroke="none" stroke-width="1"/>
<text x="385.4" y="345.1" font-size="5.5" fill="#333" textLength="12.5" lengthAdjust="spacingAndGlyphs">SKM1</text>
<line x1="374.6" y1="352" x2="382.7" y2="352" stroke="#5b9fd8" stroke-width="1.3"/>
<polygon points="378.6,350.08 380.36,353.28 376.84,353.28" fill="#5b9fd8" stroke="none" stroke-width="1"/>
<text x="385.4" y="353.9" font-size="5.5" fill="#333" font-style="italic" textLength="21.6" lengthAdjust="spacingAndGlyphs">MOLM-14</text>
<line x1="478.5" y1="264.6" x2="478.5" y2="301.8" stroke="#555" stroke-width="1.1"/>
<line x1="476.7" y1="264.6" x2="480.3" y2="264.6" stroke="#333" stroke-width="0.9"/>
<line x1="476.7" y1="301.8" x2="480.3" y2="301.8" stroke="#333" stroke-width="0.9"/>
<line x1="486.6" y1="253.4" x2="486.6" y2="301.8" stroke="#555" stroke-width="1.1"/>
<line x1="484.8" y1="253.4" x2="488.4" y2="253.4" stroke="#333" stroke-width="0.9"/>
<line x1="484.8" y1="301.8" x2="488.4" y2="301.8" stroke="#333" stroke-width="0.9"/>
<text x="475.9" y="283.2" font-size="5.12" fill="#333" text-anchor="middle" transform="rotate(-90 475.9 283.2)" textLength="14.6" lengthAdjust="spacingAndGlyphs">p=0.06</text>
<text x="484.2" y="277.8" font-size="5.12" fill="#333" text-anchor="middle" transform="rotate(-90 484.2 277.8)" textLength="14.1" lengthAdjust="spacingAndGlyphs">p=0.01</text>
<text x="478.4" y="338.4" font-size="4.75" fill="#333" text-anchor="middle" transform="rotate(-90 478.4 338.4)" textLength="35.3" lengthAdjust="spacingAndGlyphs">all others p&lt;0.01</text>
<text x="8.6" y="395.8" font-size="10.25" fill="#1a1a1a" textLength="7.2" lengthAdjust="spacingAndGlyphs">G</text>
<polyline points="71.25,427.04 73.74,428.01 76.23,429.02 78.72,430.07 81.21,431.16 83.7,432.28 86.19,433.44 88.68,434.64 91.17,435.87 93.66,437.14 96.14,438.44 98.63,439.76 101.12,441.12 103.61,442.5 106.1,443.9 108.59,445.32 111.08,446.77 113.57,448.22 116.06,449.69 118.55,451.16 121.04,452.64 123.53,454.12 126.02,455.59 128.51,457.06 131,458.53 133.49,459.98 135.98,461.41 138.47,462.83 140.96,464.22 143.45,465.59 145.94,466.94 148.42,468.26 150.91,469.54 153.4,470.8 155.89,472.02 158.38,473.2 160.87,474.35 163.36,475.46 165.85,476.54 168.34,477.57 170.83,478.57" fill="none" stroke="#6fae4e" stroke-width="1.15" stroke-linejoin="round" stroke-linecap="round"/>
<polyline points="71.25,414.83 73.74,415.29 76.23,415.8 78.72,416.36 81.21,416.97 83.7,417.64 86.19,418.38 88.68,419.18 91.17,420.05 93.66,421 96.14,422.04 98.63,423.15 101.12,424.35 103.61,425.64 106.1,427.02 108.59,428.49 111.08,430.06 113.57,431.71 116.06,433.45 118.55,435.27 121.04,437.17 123.53,439.13 126.02,441.16 128.51,443.24 131,445.36 133.49,447.51 135.98,449.67 138.47,451.84 140.96,453.99 143.45,456.13 145.94,458.22 148.42,460.28 150.91,462.27 153.4,464.2 155.89,466.06 158.38,467.83 160.87,469.52 163.36,471.12 165.85,472.63 168.34,474.06 170.83,475.38" fill="none" stroke="#44649a" stroke-width="1.15" stroke-linejoin="round" stroke-linecap="round"/>
<polyline points="71.25,420.36 73.74,421.84 76.23,423.62 78.72,425.72 81.21,428.17 83.7,431.01 86.19,434.23 88.68,437.83 91.17,441.77 93.66,446.01 96.14,450.46 98.63,455.02 101.12,459.58 103.61,464.04 106.1,468.29 108.59,472.25 111.08,475.87 113.57,479.12 116.06,481.97 118.55,484.45 121.04,486.57 123.53,488.36 126.02,489.86 128.51,491.11 131,492.14 133.49,492.99 135.98,493.68 138.47,494.24 140.96,494.7 143.45,495.07 145.94,495.37 148.42,495.61 150.91,495.81 153.4,495.97 155.89,496.09 158.38,496.19 160.87,496.28 163.36,496.34 165.85,496.39 168.34,496.44 170.83,496.47" fill="none" stroke="#b5304a" stroke-width="1.15" stroke-linejoin="round" stroke-linecap="round"/>
<line x1="101.89" y1="418.65" x2="101.89" y2="436.15" stroke="#44649a" stroke-width="0.8"/>
<line x1="100.39" y1="418.65" x2="103.39" y2="418.65" stroke="#44649a" stroke-width="0.8"/>
<line x1="100.39" y1="436.15" x2="103.39" y2="436.15" stroke="#44649a" stroke-width="0.8"/>
<rect x="99.89" y="425.4" width="4" height="4" fill="#44649a"/>
<line x1="124.87" y1="431.51" x2="124.87" y2="446.39" stroke="#44649a" stroke-width="0.8"/>
<line x1="123.37" y1="431.51" x2="126.37" y2="431.51" stroke="#44649a" stroke-width="0.8"/>
<line x1="123.37" y1="446.39" x2="126.37" y2="446.39" stroke="#44649a" stroke-width="0.8"/>
<rect x="122.87" y="436.95" width="4" height="4" fill="#44649a"/>
<line x1="147.85" y1="457.32" x2="147.85" y2="462.57" stroke="#44649a" stroke-width="0.8"/>
<line x1="146.35" y1="457.32" x2="149.35" y2="457.32" stroke="#44649a" stroke-width="0.8"/>
<line x1="146.35" y1="462.57" x2="149.35" y2="462.57" stroke="#44649a" stroke-width="0.8"/>
<rect x="145.85" y="457.95" width="4" height="4" fill="#44649a"/>
<line x1="170.83" y1="472.81" x2="170.83" y2="476.31" stroke="#44649a" stroke-width="0.8"/>
<line x1="169.33" y1="472.81" x2="172.33" y2="472.81" stroke="#44649a" stroke-width="0.8"/>
<line x1="169.33" y1="476.31" x2="172.33" y2="476.31" stroke="#44649a" stroke-width="0.8"/>
<rect x="168.83" y="472.56" width="4" height="4" fill="#44649a"/>
<circle cx="71.25" cy="409.2" r="2" fill="#6fae4e"/>
<line x1="101.89" y1="453.04" x2="101.89" y2="459.16" stroke="#6fae4e" stroke-width="0.8"/>
<line x1="100.39" y1="453.04" x2="103.39" y2="453.04" stroke="#6fae4e" stroke-width="0.8"/>
<line x1="100.39" y1="459.16" x2="103.39" y2="459.16" stroke="#6fae4e" stroke-width="0.8"/>
<circle cx="101.89" cy="456.1" r="2" fill="#6fae4e"/>
<line x1="124.87" y1="457.85" x2="124.87" y2="463.97" stroke="#6fae4e" stroke-width="0.8"/>
<line x1="123.37" y1="457.85" x2="126.37" y2="457.85" stroke="#6fae4e" stroke-width="0.8"/>
<line x1="123.37" y1="463.97" x2="126.37" y2="463.97" stroke="#6fae4e" stroke-width="0.8"/>
<circle cx="124.87" cy="460.91" r="2" fill="#6fae4e"/>
<line x1="147.85" y1="464.06" x2="147.85" y2="469.31" stroke="#6fae4e" stroke-width="0.8"/>
<line x1="146.35" y1="464.06" x2="149.35" y2="464.06" stroke="#6fae4e" stroke-width="0.8"/>
<line x1="146.35" y1="469.31" x2="149.35" y2="469.31" stroke="#6fae4e" stroke-width="0.8"/>
<circle cx="147.85" cy="466.69" r="2" fill="#6fae4e"/>
<line x1="170.83" y1="467.21" x2="170.83" y2="472.46" stroke="#6fae4e" stroke-width="0.8"/>
<line x1="169.33" y1="467.21" x2="172.33" y2="467.21" stroke="#6fae4e" stroke-width="0.8"/>
<line x1="169.33" y1="472.46" x2="172.33" y2="472.46" stroke="#6fae4e" stroke-width="0.8"/>
<circle cx="170.83" cy="469.84" r="2" fill="#6fae4e"/>
<line x1="101.89" y1="467.39" x2="101.89" y2="474.39" stroke="#b5304a" stroke-width="0.8"/>
<line x1="100.39" y1="467.39" x2="103.39" y2="467.39" stroke="#b5304a" stroke-width="0.8"/>
<line x1="100.39" y1="474.39" x2="103.39" y2="474.39" stroke="#b5304a" stroke-width="0.8"/>
<polygon points="101.89,468.61 103.98,472.41 99.8,472.41" fill="#b5304a" stroke="none" stroke-width="1"/>
<line x1="124.87" y1="474.82" x2="124.87" y2="480.95" stroke="#b5304a" stroke-width="0.8"/>
<line x1="123.37" y1="474.82" x2="126.37" y2="474.82" stroke="#b5304a" stroke-width="0.8"/>
<line x1="123.37" y1="480.95" x2="126.37" y2="480.95" stroke="#b5304a" stroke-width="0.8"/>
<polygon points="124.87,475.61 126.96,479.41 122.78,479.41" fill="#b5304a" stroke="none" stroke-width="1"/>
<line x1="147.85" y1="481.91" x2="147.85" y2="487.16" stroke="#b5304a" stroke-width="0.8"/>
<line x1="146.35" y1="481.91" x2="149.35" y2="481.91" stroke="#b5304a" stroke-width="0.8"/>
<line x1="146.35" y1="487.16" x2="149.35" y2="487.16" stroke="#b5304a" stroke-width="0.8"/>
<polygon points="147.85,482.26 149.94,486.06 145.76,486.06" fill="#b5304a" stroke="none" stroke-width="1"/>
<polygon points="170.83,487.6 172.92,491.39 168.74,491.39" fill="#b5304a" stroke="none" stroke-width="1"/>
<line x1="71.25" y1="400.3" x2="71.25" y2="497.2" stroke="#555" stroke-width="1.3"/>
<line x1="70.75" y1="496.7" x2="187.5" y2="496.7" stroke="#444" stroke-width="1.2"/>
<line x1="69.05" y1="496.7" x2="71.25" y2="496.7" stroke="#444" stroke-width="0.9"/>
<text x="65.25" y="498.9" font-size="6.25" fill="#333" text-anchor="end" textLength="2.78" lengthAdjust="spacingAndGlyphs">0</text>
<line x1="69.05" y1="452.95" x2="71.25" y2="452.95" stroke="#444" stroke-width="0.9"/>
<text x="65.25" y="455.15" font-size="6.25" fill="#333" text-anchor="end" textLength="5.56" lengthAdjust="spacingAndGlyphs">50</text>
<line x1="69.05" y1="409.2" x2="71.25" y2="409.2" stroke="#444" stroke-width="0.9"/>
<text x="65.25" y="411.4" font-size="6.25" fill="#333" text-anchor="end" textLength="8.34" lengthAdjust="spacingAndGlyphs">100</text>
<line x1="71.25" y1="496.7" x2="71.25" y2="498.9" stroke="#333" stroke-width="0.8"/>
<text x="71.25" y="508.4" font-size="6.38" fill="#333" text-anchor="middle" textLength="8.79" lengthAdjust="spacingAndGlyphs">-1.0</text>
<line x1="109.55" y1="496.7" x2="109.55" y2="498.9" stroke="#333" stroke-width="0.8"/>
<text x="109.55" y="508.4" font-size="6.38" fill="#333" text-anchor="middle" textLength="8.79" lengthAdjust="spacingAndGlyphs">-0.5</text>
<line x1="147.85" y1="496.7" x2="147.85" y2="498.9" stroke="#333" stroke-width="0.8"/>
<text x="147.85" y="508.4" font-size="6.38" fill="#333" text-anchor="middle" textLength="7.09" lengthAdjust="spacingAndGlyphs">0.0</text>
<line x1="186.15" y1="496.7" x2="186.15" y2="498.9" stroke="#333" stroke-width="0.8"/>
<text x="186.15" y="508.4" font-size="6.38" fill="#333" text-anchor="middle" textLength="7.09" lengthAdjust="spacingAndGlyphs">0.5</text>
<line x1="70.75" y1="512.2" x2="187.5" y2="512.2" stroke="#444" stroke-width="1.2"/>
<line x1="71.25" y1="512.2" x2="71.25" y2="514.4" stroke="#333" stroke-width="0.8"/>
<text x="71.25" y="524.2" font-size="6.38" fill="#333" text-anchor="middle" textLength="8.79" lengthAdjust="spacingAndGlyphs">-2.5</text>
<line x1="109.55" y1="512.2" x2="109.55" y2="514.4" stroke="#333" stroke-width="0.8"/>
<text x="109.55" y="524.2" font-size="6.38" fill="#333" text-anchor="middle" textLength="8.79" lengthAdjust="spacingAndGlyphs">-2.0</text>
<line x1="147.85" y1="512.2" x2="147.85" y2="514.4" stroke="#333" stroke-width="0.8"/>
<text x="147.85" y="524.2" font-size="6.38" fill="#333" text-anchor="middle" textLength="8.79" lengthAdjust="spacingAndGlyphs">-1.5</text>
<line x1="186.15" y1="512.2" x2="186.15" y2="514.4" stroke="#333" stroke-width="0.8"/>
<text x="186.15" y="524.2" font-size="6.38" fill="#333" text-anchor="middle" textLength="8.79" lengthAdjust="spacingAndGlyphs">-1.0</text>
<text x="130" y="395" font-size="7.75" fill="#222" text-anchor="middle" textLength="30" lengthAdjust="spacingAndGlyphs">NOMO-1</text>
<text x="118.65" y="535" font-size="7.38" fill="#222" text-anchor="middle" textLength="99.7" lengthAdjust="spacingAndGlyphs">Average synergy: 12.897 (Loewe)</text>
<polyline points="218.8,417.95 221.12,418.69 223.44,419.48 225.76,420.32 228.08,421.21 230.4,422.15 232.72,423.15 235.04,424.2 237.36,425.3 239.68,426.46 242,427.68 244.32,428.94 246.64,430.26 248.96,431.63 251.28,433.06 253.6,434.52 255.92,436.03 258.24,437.59 260.56,439.17 262.88,440.79 265.2,442.44 267.52,444.1 269.84,445.79 272.16,447.48 274.48,449.18 276.8,450.87 279.12,452.56 281.44,454.24 283.76,455.89 286.08,457.52 288.4,459.13 290.72,460.69 293.04,462.22 295.36,463.71 297.68,465.15 300,466.54 302.32,467.88 304.64,469.17 306.96,470.41 309.28,471.59 311.6,472.72" fill="none" stroke="#6fae4e" stroke-width="1.15" stroke-linejoin="round" stroke-linecap="round"/>
<polyline points="218.8,412.73 221.12,413.02 223.44,413.32 225.76,413.64 228.08,413.98 230.4,414.34 232.72,414.71 235.04,415.11 237.36,415.52 239.68,415.95 242,416.41 244.32,416.89 246.64,417.4 248.96,417.92 251.28,418.48 253.6,419.06 255.92,419.67 258.24,420.31 260.56,420.97 262.88,421.67 265.2,422.4 267.52,423.15 269.84,423.95 272.16,424.77 274.48,425.63 276.8,426.52 279.12,427.44 281.44,428.4 283.76,429.4 286.08,430.43 288.4,431.5 290.72,432.6 293.04,433.74 295.36,434.91 297.68,436.11 300,437.35 302.32,438.63 304.64,439.93 306.96,441.27 309.28,442.63 311.6,444.02" fill="none" stroke="#44649a" stroke-width="1.15" stroke-linejoin="round" stroke-linecap="round"/>
<polyline points="218.8,418.33 221.12,419.26 223.44,420.25 225.76,421.3 228.08,422.4 230.4,423.56 232.72,424.78 235.04,426.06 237.36,427.4 239.68,428.8 242,430.26 244.32,431.77 246.64,433.34 248.96,434.95 251.28,436.62 253.6,438.33 255.92,440.07 258.24,441.86 260.56,443.67 262.88,445.5 265.2,447.36 267.52,449.23 269.84,451.1 272.16,452.97 274.48,454.83 276.8,456.68 279.12,458.52 281.44,460.32 283.76,462.1 286.08,463.84 288.4,465.54 290.72,467.19 293.04,468.8 295.36,470.35 297.68,471.85 300,473.29 302.32,474.68 304.64,476.01 306.96,477.27 309.28,478.48 311.6,479.63" fill="none" stroke="#b5304a" stroke-width="1.15" stroke-linejoin="round" stroke-linecap="round"/>
<line x1="259.4" y1="418.26" x2="259.4" y2="426.14" stroke="#44649a" stroke-width="0.8"/>
<line x1="257.9" y1="418.26" x2="260.9" y2="418.26" stroke="#44649a" stroke-width="0.8"/>
<line x1="257.9" y1="426.14" x2="260.9" y2="426.14" stroke="#44649a" stroke-width="0.8"/>
<rect x="257.4" y="420.2" width="4" height="4" fill="#44649a"/>
<line x1="276.8" y1="424.48" x2="276.8" y2="429.74" stroke="#44649a" stroke-width="0.8"/>
<line x1="275.3" y1="424.48" x2="278.3" y2="424.48" stroke="#44649a" stroke-width="0.8"/>
<line x1="275.3" y1="429.74" x2="278.3" y2="429.74" stroke="#44649a" stroke-width="0.8"/>
<rect x="274.8" y="425.11" width="4" height="4" fill="#44649a"/>
<line x1="294.2" y1="429.03" x2="294.2" y2="434.29" stroke="#44649a" stroke-width="0.8"/>
<line x1="292.7" y1="429.03" x2="295.7" y2="429.03" stroke="#44649a" stroke-width="0.8"/>
<line x1="292.7" y1="434.29" x2="295.7" y2="434.29" stroke="#44649a" stroke-width="0.8"/>
<rect x="292.2" y="429.66" width="4" height="4" fill="#44649a"/>
<line x1="311.6" y1="443.05" x2="311.6" y2="446.55" stroke="#44649a" stroke-width="0.8"/>
<line x1="310.1" y1="443.05" x2="313.1" y2="443.05" stroke="#44649a" stroke-width="0.8"/>
<line x1="310.1" y1="446.55" x2="313.1" y2="446.55" stroke="#44649a" stroke-width="0.8"/>
<rect x="309.6" y="442.8" width="4" height="4" fill="#44649a"/>
<circle cx="218.8" cy="409.5" r="2" fill="#6fae4e"/>
<line x1="259.4" y1="434.03" x2="259.4" y2="447.17" stroke="#6fae4e" stroke-width="0.8"/>
<line x1="257.9" y1="434.03" x2="260.9" y2="434.03" stroke="#6fae4e" stroke-width="0.8"/>
<line x1="257.9" y1="447.17" x2="260.9" y2="447.17" stroke="#6fae4e" stroke-width="0.8"/>
<circle cx="259.4" cy="440.6" r="2" fill="#6fae4e"/>
<line x1="276.8" y1="448.31" x2="276.8" y2="454.44" stroke="#6fae4e" stroke-width="0.8"/>
<line x1="275.3" y1="448.31" x2="278.3" y2="448.31" stroke="#6fae4e" stroke-width="0.8"/>
<line x1="275.3" y1="454.44" x2="278.3" y2="454.44" stroke="#6fae4e" stroke-width="0.8"/>
<circle cx="276.8" cy="451.37" r="2" fill="#6fae4e"/>
<line x1="294.2" y1="459.78" x2="294.2" y2="465.04" stroke="#6fae4e" stroke-width="0.8"/>
<line x1="292.7" y1="459.78" x2="295.7" y2="459.78" stroke="#6fae4e" stroke-width="0.8"/>
<line x1="292.7" y1="465.04" x2="295.7" y2="465.04" stroke="#6fae4e" stroke-width="0.8"/>
<circle cx="294.2" cy="462.41" r="2" fill="#6fae4e"/>
<line x1="311.6" y1="465.48" x2="311.6" y2="470.73" stroke="#6fae4e" stroke-width="0.8"/>
<line x1="310.1" y1="465.48" x2="313.1" y2="465.48" stroke="#6fae4e" stroke-width="0.8"/>
<line x1="310.1" y1="470.73" x2="313.1" y2="470.73" stroke="#6fae4e" stroke-width="0.8"/>
<circle cx="311.6" cy="468.1" r="2" fill="#6fae4e"/>
<line x1="259.4" y1="445.33" x2="259.4" y2="454.09" stroke="#b5304a" stroke-width="0.8"/>
<line x1="257.9" y1="445.33" x2="260.9" y2="445.33" stroke="#b5304a" stroke-width="0.8"/>
<line x1="257.9" y1="454.09" x2="260.9" y2="454.09" stroke="#b5304a" stroke-width="0.8"/>
<polygon points="259.4,447.43 261.49,451.23 257.31,451.23" fill="#b5304a" stroke="none" stroke-width="1"/>
<line x1="276.8" y1="457.24" x2="276.8" y2="462.5" stroke="#b5304a" stroke-width="0.8"/>
<line x1="275.3" y1="457.24" x2="278.3" y2="457.24" stroke="#b5304a" stroke-width="0.8"/>
<line x1="275.3" y1="462.5" x2="278.3" y2="462.5" stroke="#b5304a" stroke-width="0.8"/>
<polygon points="276.8,457.59 278.89,461.39 274.71,461.39" fill="#b5304a" stroke="none" stroke-width="1"/>
<line x1="294.2" y1="467.05" x2="294.2" y2="470.56" stroke="#b5304a" stroke-width="0.8"/>
<line x1="292.7" y1="467.05" x2="295.7" y2="467.05" stroke="#b5304a" stroke-width="0.8"/>
<line x1="292.7" y1="470.56" x2="295.7" y2="470.56" stroke="#b5304a" stroke-width="0.8"/>
<polygon points="294.2,466.53 296.29,470.33 292.11,470.33" fill="#b5304a" stroke="none" stroke-width="1"/>
<line x1="311.6" y1="474.85" x2="311.6" y2="478.35" stroke="#b5304a" stroke-width="0.8"/>
<line x1="310.1" y1="474.85" x2="313.1" y2="474.85" stroke="#b5304a" stroke-width="0.8"/>
<line x1="310.1" y1="478.35" x2="313.1" y2="478.35" stroke="#b5304a" stroke-width="0.8"/>
<polygon points="311.6,474.32 313.69,478.12 309.51,478.12" fill="#b5304a" stroke="none" stroke-width="1"/>
<line x1="218.8" y1="401" x2="218.8" y2="497.6" stroke="#555" stroke-width="1.3"/>
<line x1="218.3" y1="497.1" x2="337" y2="497.1" stroke="#444" stroke-width="1.2"/>
<line x1="216.6" y1="497.1" x2="218.8" y2="497.1" stroke="#444" stroke-width="0.9"/>
<text x="212.8" y="499.3" font-size="6.25" fill="#333" text-anchor="end" textLength="2.78" lengthAdjust="spacingAndGlyphs">0</text>
<line x1="216.6" y1="453.3" x2="218.8" y2="453.3" stroke="#444" stroke-width="0.9"/>
<text x="212.8" y="455.5" font-size="6.25" fill="#333" text-anchor="end" textLength="5.56" lengthAdjust="spacingAndGlyphs">50</text>
<line x1="216.6" y1="409.5" x2="218.8" y2="409.5" stroke="#444" stroke-width="0.9"/>
<text x="212.8" y="411.7" font-size="6.25" fill="#333" text-anchor="end" textLength="8.34" lengthAdjust="spacingAndGlyphs">100</text>
<line x1="218.8" y1="497.1" x2="218.8" y2="499.3" stroke="#333" stroke-width="0.8"/>
<text x="218.8" y="508.4" font-size="6.38" fill="#333" text-anchor="middle" textLength="8.79" lengthAdjust="spacingAndGlyphs">-1.0</text>
<line x1="247.8" y1="497.1" x2="247.8" y2="499.3" stroke="#333" stroke-width="0.8"/>
<text x="247.8" y="508.4" font-size="6.38" fill="#333" text-anchor="middle" textLength="8.79" lengthAdjust="spacingAndGlyphs">-0.5</text>
<line x1="276.8" y1="497.1" x2="276.8" y2="499.3" stroke="#333" stroke-width="0.8"/>
<text x="276.8" y="508.4" font-size="6.38" fill="#333" text-anchor="middle" textLength="7.09" lengthAdjust="spacingAndGlyphs">0.0</text>
<line x1="305.8" y1="497.1" x2="305.8" y2="499.3" stroke="#333" stroke-width="0.8"/>
<text x="305.8" y="508.4" font-size="6.38" fill="#333" text-anchor="middle" textLength="7.09" lengthAdjust="spacingAndGlyphs">0.5</text>
<line x1="334.8" y1="497.1" x2="334.8" y2="499.3" stroke="#333" stroke-width="0.8"/>
<text x="334.8" y="508.4" font-size="6.38" fill="#333" text-anchor="middle" textLength="7.09" lengthAdjust="spacingAndGlyphs">1.0</text>
<line x1="218.3" y1="512.2" x2="337" y2="512.2" stroke="#444" stroke-width="1.2"/>
<line x1="218.8" y1="512.2" x2="218.8" y2="514.4" stroke="#333" stroke-width="0.8"/>
<text x="218.8" y="524.2" font-size="6.38" fill="#333" text-anchor="middle" textLength="8.79" lengthAdjust="spacingAndGlyphs">-3.5</text>
<line x1="247.8" y1="512.2" x2="247.8" y2="514.4" stroke="#333" stroke-width="0.8"/>
<text x="247.8" y="524.2" font-size="6.38" fill="#333" text-anchor="middle" textLength="8.79" lengthAdjust="spacingAndGlyphs">-3.0</text>
<line x1="276.8" y1="512.2" x2="276.8" y2="514.4" stroke="#333" stroke-width="0.8"/>
<text x="276.8" y="524.2" font-size="6.38" fill="#333" text-anchor="middle" textLength="8.79" lengthAdjust="spacingAndGlyphs">-2.5</text>
<line x1="305.8" y1="512.2" x2="305.8" y2="514.4" stroke="#333" stroke-width="0.8"/>
<text x="305.8" y="524.2" font-size="6.38" fill="#333" text-anchor="middle" textLength="8.79" lengthAdjust="spacingAndGlyphs">-2.0</text>
<line x1="334.8" y1="512.2" x2="334.8" y2="514.4" stroke="#333" stroke-width="0.8"/>
<text x="334.8" y="524.2" font-size="6.38" fill="#333" text-anchor="middle" textLength="8.79" lengthAdjust="spacingAndGlyphs">-1.5</text>
<text x="278.2" y="395" font-size="7.75" fill="#222" text-anchor="middle" textLength="21" lengthAdjust="spacingAndGlyphs">SKM1</text>
<text x="268.4" y="535" font-size="7.38" fill="#222" text-anchor="middle" textLength="98" lengthAdjust="spacingAndGlyphs">Average synergy: 5.024 (Loewe)</text>
<polyline points="368.1,411.59 370.6,412.69 373.09,413.82 375.59,415 378.08,416.21 380.58,417.47 383.08,418.77 385.57,420.11 388.07,421.49 390.56,422.91 393.06,424.37 395.56,425.86 398.05,427.38 400.55,428.94 403.04,430.53 405.54,432.14 408.04,433.78 410.53,435.45 413.03,437.13 415.52,438.83 418.02,440.54 420.52,442.26 423.01,443.99 425.51,445.72 428,447.45 430.5,449.18 433,450.91 435.49,452.62 437.99,454.32 440.48,456.01 442.98,457.67 445.48,459.31 447.97,460.93 450.47,462.52 452.96,464.09 455.46,465.62 457.96,467.11 460.45,468.57 462.95,470 465.44,471.38 467.94,472.73" fill="none" stroke="#6fae4e" stroke-width="1.15" stroke-linejoin="round" stroke-linecap="round"/>
<polyline points="368.1,411.63 370.6,412.81 373.09,414.03 375.59,415.3 378.08,416.62 380.58,417.98 383.08,419.4 385.57,420.86 388.07,422.37 390.56,423.92 393.06,425.52 395.56,427.16 398.05,428.84 400.55,430.56 403.04,432.31 405.54,434.09 408.04,435.9 410.53,437.74 413.03,439.6 415.52,441.47 418.02,443.37 420.52,445.27 423.01,447.17 425.51,449.08 428,450.99 430.5,452.89 433,454.78 435.49,456.65 437.99,458.5 440.48,460.34 442.98,462.14 445.48,463.92 447.97,465.67 450.47,467.38 452.96,469.05 455.46,470.68 457.96,472.27 460.45,473.82 462.95,475.32 465.44,476.78 467.94,478.18" fill="none" stroke="#44649a" stroke-width="1.15" stroke-linejoin="round" stroke-linecap="round"/>
<polyline points="368.1,411.69 370.6,413.13 373.09,414.7 375.59,416.4 378.08,418.25 380.58,420.23 383.08,422.35 385.57,424.61 388.07,426.99 390.56,429.5 393.06,432.11 395.56,434.8 398.05,437.57 400.55,440.39 403.04,443.24 405.54,446.1 408.04,448.93 410.53,451.73 413.03,454.47 415.52,457.12 418.02,459.68 420.52,462.12 423.01,464.45 425.51,466.64 428,468.69 430.5,470.6 433,472.38 435.49,474.01 437.99,475.52 440.48,476.89 442.98,478.14 445.48,479.27 447.97,480.3 450.47,481.22 452.96,482.05 455.46,482.8 457.96,483.46 460.45,484.06 462.95,484.59 465.44,485.07 467.94,485.49" fill="none" stroke="#b5304a" stroke-width="1.15" stroke-linejoin="round" stroke-linecap="round"/>
<line x1="398.82" y1="429.7" x2="398.82" y2="466.07" stroke="#44649a" stroke-width="0.8"/>
<line x1="397.32" y1="429.7" x2="400.32" y2="429.7" stroke="#44649a" stroke-width="0.8"/>
<line x1="397.32" y1="466.07" x2="400.32" y2="466.07" stroke="#44649a" stroke-width="0.8"/>
<rect x="396.82" y="445.88" width="4" height="4" fill="#44649a"/>
<line x1="421.86" y1="445.02" x2="421.86" y2="472.74" stroke="#44649a" stroke-width="0.8"/>
<line x1="420.36" y1="445.02" x2="423.36" y2="445.02" stroke="#44649a" stroke-width="0.8"/>
<line x1="420.36" y1="472.74" x2="423.36" y2="472.74" stroke="#44649a" stroke-width="0.8"/>
<rect x="419.86" y="456.88" width="4" height="4" fill="#44649a"/>
<line x1="444.9" y1="464.42" x2="444.9" y2="481.74" stroke="#44649a" stroke-width="0.8"/>
<line x1="443.4" y1="464.42" x2="446.4" y2="464.42" stroke="#44649a" stroke-width="0.8"/>
<line x1="443.4" y1="481.74" x2="446.4" y2="481.74" stroke="#44649a" stroke-width="0.8"/>
<rect x="442.9" y="471.08" width="4" height="4" fill="#44649a"/>
<line x1="467.94" y1="480.62" x2="467.94" y2="487.55" stroke="#44649a" stroke-width="0.8"/>
<line x1="466.44" y1="480.62" x2="469.44" y2="480.62" stroke="#44649a" stroke-width="0.8"/>
<line x1="466.44" y1="487.55" x2="469.44" y2="487.55" stroke="#44649a" stroke-width="0.8"/>
<rect x="465.94" y="482.08" width="4" height="4" fill="#44649a"/>
<circle cx="368.1" cy="409.43" r="2" fill="#6fae4e"/>
<line x1="398.82" y1="423.98" x2="398.82" y2="463.82" stroke="#6fae4e" stroke-width="0.8"/>
<line x1="397.32" y1="423.98" x2="400.32" y2="423.98" stroke="#6fae4e" stroke-width="0.8"/>
<line x1="397.32" y1="463.82" x2="400.32" y2="463.82" stroke="#6fae4e" stroke-width="0.8"/>
<circle cx="398.82" cy="443.9" r="2" fill="#6fae4e"/>
<line x1="421.86" y1="438.36" x2="421.86" y2="469.53" stroke="#6fae4e" stroke-width="0.8"/>
<line x1="420.36" y1="438.36" x2="423.36" y2="438.36" stroke="#6fae4e" stroke-width="0.8"/>
<line x1="420.36" y1="469.53" x2="423.36" y2="469.53" stroke="#6fae4e" stroke-width="0.8"/>
<circle cx="421.86" cy="453.94" r="2" fill="#6fae4e"/>
<line x1="444.9" y1="457.93" x2="444.9" y2="478.02" stroke="#6fae4e" stroke-width="0.8"/>
<line x1="443.4" y1="457.93" x2="446.4" y2="457.93" stroke="#6fae4e" stroke-width="0.8"/>
<line x1="443.4" y1="478.02" x2="446.4" y2="478.02" stroke="#6fae4e" stroke-width="0.8"/>
<circle cx="444.9" cy="467.97" r="2" fill="#6fae4e"/>
<line x1="467.94" y1="469.45" x2="467.94" y2="482.96" stroke="#6fae4e" stroke-width="0.8"/>
<line x1="466.44" y1="469.45" x2="469.44" y2="469.45" stroke="#6fae4e" stroke-width="0.8"/>
<line x1="466.44" y1="482.96" x2="469.44" y2="482.96" stroke="#6fae4e" stroke-width="0.8"/>
<circle cx="467.94" cy="476.2" r="2" fill="#6fae4e"/>
<line x1="398.82" y1="445.98" x2="398.82" y2="473.69" stroke="#b5304a" stroke-width="0.8"/>
<line x1="397.32" y1="445.98" x2="400.32" y2="445.98" stroke="#b5304a" stroke-width="0.8"/>
<line x1="397.32" y1="473.69" x2="400.32" y2="473.69" stroke="#b5304a" stroke-width="0.8"/>
<polygon points="398.82,457.55 400.91,461.35 396.73,461.35" fill="#b5304a" stroke="none" stroke-width="1"/>
<line x1="421.86" y1="463.04" x2="421.86" y2="482.09" stroke="#b5304a" stroke-width="0.8"/>
<line x1="420.36" y1="463.04" x2="423.36" y2="463.04" stroke="#b5304a" stroke-width="0.8"/>
<line x1="420.36" y1="482.09" x2="423.36" y2="482.09" stroke="#b5304a" stroke-width="0.8"/>
<polygon points="421.86,470.28 423.95,474.08 419.77,474.08" fill="#b5304a" stroke="none" stroke-width="1"/>
<line x1="444.9" y1="478.54" x2="444.9" y2="488.58" stroke="#b5304a" stroke-width="0.8"/>
<line x1="443.4" y1="478.54" x2="446.4" y2="478.54" stroke="#b5304a" stroke-width="0.8"/>
<line x1="443.4" y1="488.58" x2="446.4" y2="488.58" stroke="#b5304a" stroke-width="0.8"/>
<polygon points="444.9,481.28 446.99,485.08 442.81,485.08" fill="#b5304a" stroke="none" stroke-width="1"/>
<line x1="467.94" y1="486.42" x2="467.94" y2="491.62" stroke="#b5304a" stroke-width="0.8"/>
<line x1="466.44" y1="486.42" x2="469.44" y2="486.42" stroke="#b5304a" stroke-width="0.8"/>
<line x1="466.44" y1="491.62" x2="469.44" y2="491.62" stroke="#b5304a" stroke-width="0.8"/>
<polygon points="467.94,486.74 470.03,490.54 465.85,490.54" fill="#b5304a" stroke="none" stroke-width="1"/>
<line x1="368.1" y1="398.5" x2="368.1" y2="494.8" stroke="#555" stroke-width="1.3"/>
<line x1="367.6" y1="494.3" x2="484.5" y2="494.3" stroke="#444" stroke-width="1.2"/>
<line x1="365.9" y1="494.3" x2="368.1" y2="494.3" stroke="#444" stroke-width="0.9"/>
<text x="362.1" y="496.5" font-size="6.25" fill="#333" text-anchor="end" textLength="2.78" lengthAdjust="spacingAndGlyphs">0</text>
<line x1="365.9" y1="451" x2="368.1" y2="451" stroke="#444" stroke-width="0.9"/>
<text x="362.1" y="453.2" font-size="6.25" fill="#333" text-anchor="end" textLength="5.56" lengthAdjust="spacingAndGlyphs">50</text>
<line x1="365.9" y1="407.7" x2="368.1" y2="407.7" stroke="#444" stroke-width="0.9"/>
<text x="362.1" y="409.9" font-size="6.25" fill="#333" text-anchor="end" textLength="8.34" lengthAdjust="spacingAndGlyphs">100</text>
<line x1="368.1" y1="494.3" x2="368.1" y2="496.5" stroke="#333" stroke-width="0.8"/>
<text x="368.1" y="507.2" font-size="6.38" fill="#333" text-anchor="middle" textLength="8.79" lengthAdjust="spacingAndGlyphs">-1.0</text>
<line x1="406.5" y1="494.3" x2="406.5" y2="496.5" stroke="#333" stroke-width="0.8"/>
<text x="406.5" y="507.2" font-size="6.38" fill="#333" text-anchor="middle" textLength="8.79" lengthAdjust="spacingAndGlyphs">-0.5</text>
<line x1="444.9" y1="494.3" x2="444.9" y2="496.5" stroke="#333" stroke-width="0.8"/>
<text x="444.9" y="507.2" font-size="6.38" fill="#333" text-anchor="middle" textLength="7.09" lengthAdjust="spacingAndGlyphs">0.0</text>
<line x1="483.3" y1="494.3" x2="483.3" y2="496.5" stroke="#333" stroke-width="0.8"/>
<text x="483.3" y="507.2" font-size="6.38" fill="#333" text-anchor="middle" textLength="7.09" lengthAdjust="spacingAndGlyphs">0.5</text>
<line x1="367.6" y1="512.2" x2="484.5" y2="512.2" stroke="#444" stroke-width="1.2"/>
<line x1="368.1" y1="512.2" x2="368.1" y2="514.4" stroke="#333" stroke-width="0.8"/>
<text x="368.1" y="524.2" font-size="6.38" fill="#333" text-anchor="middle" textLength="8.79" lengthAdjust="spacingAndGlyphs">-2.5</text>
<line x1="406.5" y1="512.2" x2="406.5" y2="514.4" stroke="#333" stroke-width="0.8"/>
<text x="406.5" y="524.2" font-size="6.38" fill="#333" text-anchor="middle" textLength="8.79" lengthAdjust="spacingAndGlyphs">-2.0</text>
<line x1="444.9" y1="512.2" x2="444.9" y2="514.4" stroke="#333" stroke-width="0.8"/>
<text x="444.9" y="524.2" font-size="6.38" fill="#333" text-anchor="middle" textLength="8.79" lengthAdjust="spacingAndGlyphs">-1.5</text>
<line x1="483.3" y1="512.2" x2="483.3" y2="514.4" stroke="#333" stroke-width="0.8"/>
<text x="483.3" y="524.2" font-size="6.38" fill="#333" text-anchor="middle" textLength="8.79" lengthAdjust="spacingAndGlyphs">-1.0</text>
<text x="427.15" y="393.2" font-size="7.75" fill="#222" text-anchor="middle" textLength="34.1" lengthAdjust="spacingAndGlyphs">MOLM-14</text>
<text x="418.4" y="535" font-size="7.38" fill="#222" text-anchor="middle" textLength="96" lengthAdjust="spacingAndGlyphs">Average synergy: 4.305 (Loewe)</text>
<text x="50.2" y="448.2" font-size="7" fill="#222" text-anchor="middle" transform="rotate(-90 50.2 448.2)" textLength="47" lengthAdjust="spacingAndGlyphs">%Veh.control</text>
<text x="63.2" y="508.1" font-size="5.5" fill="#333" text-anchor="end" textLength="36.5" lengthAdjust="spacingAndGlyphs">Log[AraC],µM</text>
<text x="63.2" y="524" font-size="5.5" fill="#333" text-anchor="end" textLength="53.1" lengthAdjust="spacingAndGlyphs">Log[Trametinib],µM</text>
<line x1="433" y1="403.4" x2="443.2" y2="403.4" stroke="#6fae4e" stroke-width="1"/>
<circle cx="438.1" cy="403.4" r="2.1" fill="#6fae4e"/>
<text x="446.6" y="405.3" font-size="5.5" fill="#333" textLength="23.8" lengthAdjust="spacingAndGlyphs">Trametinib</text>
<line x1="433" y1="412" x2="443.2" y2="412" stroke="#44649a" stroke-width="1"/>
<rect x="436" y="409.9" width="4.2" height="4.2" fill="#44649a"/>
<text x="446.6" y="413.9" font-size="5.5" fill="#333" font-style="italic" textLength="10.1" lengthAdjust="spacingAndGlyphs">AraC</text>
<line x1="433" y1="421" x2="443.2" y2="421" stroke="#b5304a" stroke-width="1"/>
<polygon points="438.1,418.48 440.41,422.68 435.79,422.68" fill="#b5304a" stroke="none" stroke-width="1"/>
<text x="446.6" y="422.9" font-size="5.5" fill="#333" textLength="28.2" lengthAdjust="spacingAndGlyphs">Combination</text>
<text x="50.8" y="544.2" font-size="4.75" fill="#444" text-anchor="middle" textLength="5.49" lengthAdjust="spacingAndGlyphs">-20</text>
<text x="68.1" y="544.2" font-size="4.75" fill="#444" text-anchor="middle" textLength="5.49" lengthAdjust="spacingAndGlyphs">-15</text>
<text x="85.4" y="544.2" font-size="4.75" fill="#444" text-anchor="middle" textLength="5.49" lengthAdjust="spacingAndGlyphs">-10</text>
<text x="102.7" y="544.2" font-size="4.75" fill="#444" text-anchor="middle" textLength="3.38" lengthAdjust="spacingAndGlyphs">-5</text>
<text x="120" y="544.2" font-size="4.75" fill="#444" text-anchor="middle" textLength="2.11" lengthAdjust="spacingAndGlyphs">0</text>
<text x="137.3" y="544.2" font-size="4.75" fill="#444" text-anchor="middle" textLength="2.11" lengthAdjust="spacingAndGlyphs">5</text>
<text x="154.6" y="544.2" font-size="4.75" fill="#444" text-anchor="middle" textLength="4.23" lengthAdjust="spacingAndGlyphs">10</text>
<text x="171.9" y="544.2" font-size="4.75" fill="#444" text-anchor="middle" textLength="4.23" lengthAdjust="spacingAndGlyphs">15</text>
<text x="189.2" y="544.2" font-size="4.75" fill="#444" text-anchor="middle" textLength="4.23" lengthAdjust="spacingAndGlyphs">20</text>
<rect x="50.8" y="548.3" width="2.82" height="2.1" fill="#6d9f2e"/>
<rect x="53.52" y="548.3" width="2.82" height="2.1" fill="#72a236"/>
<rect x="56.23" y="548.3" width="2.82" height="2.1" fill="#78a63d"/>
<rect x="58.95" y="548.3" width="2.82" height="2.1" fill="#7da945"/>
<rect x="61.67" y="548.3" width="2.82" height="2.1" fill="#83ad4c"/>
<rect x="64.38" y="548.3" width="2.82" height="2.1" fill="#88b054"/>
<rect x="67.1" y="548.3" width="2.82" height="2.1" fill="#8eb45c"/>
<rect x="69.82" y="548.3" width="2.82" height="2.1" fill="#93b763"/>
<rect x="72.53" y="548.3" width="2.82" height="2.1" fill="#98ba6b"/>
<rect x="75.25" y="548.3" width="2.82" height="2.1" fill="#9ebe72"/>
<rect x="77.97" y="548.3" width="2.82" height="2.1" fill="#a3c17a"/>
<rect x="80.68" y="548.3" width="2.82" height="2.1" fill="#a9c582"/>
<rect x="83.4" y="548.3" width="2.82" height="2.1" fill="#aec889"/>
<rect x="86.12" y="548.3" width="2.82" height="2.1" fill="#b4cc91"/>
<rect x="88.83" y="548.3" width="2.82" height="2.1" fill="#b9cf99"/>
<rect x="91.55" y="548.3" width="2.82" height="2.1" fill="#bfd3a0"/>
<rect x="94.27" y="548.3" width="2.82" height="2.1" fill="#c4d6a8"/>
<rect x="96.98" y="548.3" width="2.82" height="2.1" fill="#c9d9af"/>
<rect x="99.7" y="548.3" width="2.82" height="2.1" fill="#cfddb7"/>
<rect x="102.42" y="548.3" width="2.82" height="2.1" fill="#d4e0bf"/>
<rect x="105.13" y="548.3" width="2.82" height="2.1" fill="#dae4c6"/>
<rect x="107.85" y="548.3" width="2.82" height="2.1" fill="#dfe7ce"/>
<rect x="110.57" y="548.3" width="2.82" height="2.1" fill="#e5ebd5"/>
<rect x="113.28" y="548.3" width="2.82" height="2.1" fill="#eaeedd"/>
<rect x="122.7" y="548.3" width="2.87" height="2.1" fill="#f3d9d9"/>
<rect x="125.47" y="548.3" width="2.87" height="2.1" fill="#f1d1d1"/>
<rect x="128.24" y="548.3" width="2.87" height="2.1" fill="#efcaca"/>
<rect x="131.01" y="548.3" width="2.87" height="2.1" fill="#ecc2c2"/>
<rect x="133.78" y="548.3" width="2.87" height="2.1" fill="#eabbbb"/>
<rect x="136.55" y="548.3" width="2.87" height="2.1" fill="#e8b3b3"/>
<rect x="139.32" y="548.3" width="2.87" height="2.1" fill="#e6abab"/>
<rect x="142.1" y="548.3" width="2.87" height="2.1" fill="#e3a4a4"/>
<rect x="144.87" y="548.3" width="2.87" height="2.1" fill="#e19c9c"/>
<rect x="147.64" y="548.3" width="2.87" height="2.1" fill="#df9595"/>
<rect x="150.41" y="548.3" width="2.87" height="2.1" fill="#dd8d8d"/>
<rect x="153.18" y="548.3" width="2.87" height="2.1" fill="#db8585"/>
<rect x="155.95" y="548.3" width="2.87" height="2.1" fill="#d87e7e"/>
<rect x="158.72" y="548.3" width="2.87" height="2.1" fill="#d67676"/>
<rect x="161.49" y="548.3" width="2.87" height="2.1" fill="#d46e6e"/>
<rect x="164.26" y="548.3" width="2.87" height="2.1" fill="#d26767"/>
<rect x="167.03" y="548.3" width="2.87" height="2.1" fill="#d05f5f"/>
<rect x="169.8" y="548.3" width="2.87" height="2.1" fill="#cd5858"/>
<rect x="172.57" y="548.3" width="2.87" height="2.1" fill="#cb5050"/>
<rect x="175.35" y="548.3" width="2.87" height="2.1" fill="#c94848"/>
<rect x="178.12" y="548.3" width="2.87" height="2.1" fill="#c74141"/>
<rect x="180.89" y="548.3" width="2.87" height="2.1" fill="#c43939"/>
<rect x="183.66" y="548.3" width="2.87" height="2.1" fill="#c23232"/>
<rect x="186.43" y="548.3" width="2.87" height="2.1" fill="#c02a2a"/>
<text x="201.4" y="544.2" font-size="4.75" fill="#444" text-anchor="middle" textLength="5.49" lengthAdjust="spacingAndGlyphs">-10</text>
<text x="235.97" y="544.2" font-size="4.75" fill="#444" text-anchor="middle" textLength="3.38" lengthAdjust="spacingAndGlyphs">-5</text>
<text x="270.55" y="544.2" font-size="4.75" fill="#444" text-anchor="middle" textLength="2.11" lengthAdjust="spacingAndGlyphs">0</text>
<text x="305.12" y="544.2" font-size="4.75" fill="#444" text-anchor="middle" textLength="2.11" lengthAdjust="spacingAndGlyphs">5</text>
<text x="339.7" y="544.2" font-size="4.75" fill="#444" text-anchor="middle" textLength="4.23" lengthAdjust="spacingAndGlyphs">10</text>
<rect x="201.4" y="548.3" width="2.65" height="2.1" fill="#6d9f2e"/>
<rect x="203.95" y="548.3" width="2.65" height="2.1" fill="#72a236"/>
<rect x="206.49" y="548.3" width="2.65" height="2.1" fill="#78a63d"/>
<rect x="209.04" y="548.3" width="2.65" height="2.1" fill="#7da945"/>
<rect x="211.58" y="548.3" width="2.65" height="2.1" fill="#83ad4c"/>
<rect x="214.13" y="548.3" width="2.65" height="2.1" fill="#88b054"/>
<rect x="216.68" y="548.3" width="2.65" height="2.1" fill="#8eb45c"/>
<rect x="219.22" y="548.3" width="2.65" height="2.1" fill="#93b763"/>
<rect x="221.77" y="548.3" width="2.65" height="2.1" fill="#98ba6b"/>
<rect x="224.31" y="548.3" width="2.65" height="2.1" fill="#9ebe72"/>
<rect x="226.86" y="548.3" width="2.65" height="2.1" fill="#a3c17a"/>
<rect x="229.4" y="548.3" width="2.65" height="2.1" fill="#a9c582"/>
<rect x="231.95" y="548.3" width="2.65" height="2.1" fill="#aec889"/>
<rect x="234.5" y="548.3" width="2.65" height="2.1" fill="#b4cc91"/>
<rect x="237.04" y="548.3" width="2.65" height="2.1" fill="#b9cf99"/>
<rect x="239.59" y="548.3" width="2.65" height="2.1" fill="#bfd3a0"/>
<rect x="242.13" y="548.3" width="2.65" height="2.1" fill="#c4d6a8"/>
<rect x="244.68" y="548.3" width="2.65" height="2.1" fill="#c9d9af"/>
<rect x="247.22" y="548.3" width="2.65" height="2.1" fill="#cfddb7"/>
<rect x="249.77" y="548.3" width="2.65" height="2.1" fill="#d4e0bf"/>
<rect x="252.32" y="548.3" width="2.65" height="2.1" fill="#dae4c6"/>
<rect x="254.86" y="548.3" width="2.65" height="2.1" fill="#dfe7ce"/>
<rect x="257.41" y="548.3" width="2.65" height="2.1" fill="#e5ebd5"/>
<rect x="259.95" y="548.3" width="2.65" height="2.1" fill="#eaeedd"/>
<rect x="276.6" y="548.3" width="2.73" height="2.1" fill="#f3d9d9"/>
<rect x="279.23" y="548.3" width="2.73" height="2.1" fill="#f1d1d1"/>
<rect x="281.86" y="548.3" width="2.73" height="2.1" fill="#efcaca"/>
<rect x="284.49" y="548.3" width="2.73" height="2.1" fill="#ecc2c2"/>
<rect x="287.12" y="548.3" width="2.73" height="2.1" fill="#eabbbb"/>
<rect x="289.75" y="548.3" width="2.73" height="2.1" fill="#e8b3b3"/>
<rect x="292.38" y="548.3" width="2.73" height="2.1" fill="#e6abab"/>
<rect x="295" y="548.3" width="2.73" height="2.1" fill="#e3a4a4"/>
<rect x="297.63" y="548.3" width="2.73" height="2.1" fill="#e19c9c"/>
<rect x="300.26" y="548.3" width="2.73" height="2.1" fill="#df9595"/>
<rect x="302.89" y="548.3" width="2.73" height="2.1" fill="#dd8d8d"/>
<rect x="305.52" y="548.3" width="2.73" height="2.1" fill="#db8585"/>
<rect x="308.15" y="548.3" width="2.73" height="2.1" fill="#d87e7e"/>
<rect x="310.78" y="548.3" width="2.73" height="2.1" fill="#d67676"/>
<rect x="313.41" y="548.3" width="2.73" height="2.1" fill="#d46e6e"/>
<rect x="316.04" y="548.3" width="2.73" height="2.1" fill="#d26767"/>
<rect x="318.67" y="548.3" width="2.73" height="2.1" fill="#d05f5f"/>
<rect x="321.3" y="548.3" width="2.73" height="2.1" fill="#cd5858"/>
<rect x="323.93" y="548.3" width="2.73" height="2.1" fill="#cb5050"/>
<rect x="326.55" y="548.3" width="2.73" height="2.1" fill="#c94848"/>
<rect x="329.18" y="548.3" width="2.73" height="2.1" fill="#c74141"/>
<rect x="331.81" y="548.3" width="2.73" height="2.1" fill="#c43939"/>
<rect x="334.44" y="548.3" width="2.73" height="2.1" fill="#c23232"/>
<rect x="337.07" y="548.3" width="2.73" height="2.1" fill="#c02a2a"/>
<text x="350.6" y="544.2" font-size="4.75" fill="#444" text-anchor="middle" textLength="5.49" lengthAdjust="spacingAndGlyphs">-20</text>
<text x="368.01" y="544.2" font-size="4.75" fill="#444" text-anchor="middle" textLength="5.49" lengthAdjust="spacingAndGlyphs">-15</text>
<text x="385.43" y="544.2" font-size="4.75" fill="#444" text-anchor="middle" textLength="5.49" lengthAdjust="spacingAndGlyphs">-10</text>
<text x="402.84" y="544.2" font-size="4.75" fill="#444" text-anchor="middle" textLength="3.38" lengthAdjust="spacingAndGlyphs">-5</text>
<text x="420.25" y="544.2" font-size="4.75" fill="#444" text-anchor="middle" textLength="2.11" lengthAdjust="spacingAndGlyphs">0</text>
<text x="437.66" y="544.2" font-size="4.75" fill="#444" text-anchor="middle" textLength="2.11" lengthAdjust="spacingAndGlyphs">5</text>
<text x="455.07" y="544.2" font-size="4.75" fill="#444" text-anchor="middle" textLength="4.23" lengthAdjust="spacingAndGlyphs">10</text>
<text x="472.49" y="544.2" font-size="4.75" fill="#444" text-anchor="middle" textLength="4.23" lengthAdjust="spacingAndGlyphs">15</text>
<text x="489.9" y="544.2" font-size="4.75" fill="#444" text-anchor="middle" textLength="4.23" lengthAdjust="spacingAndGlyphs">20</text>
<rect x="350.6" y="548.3" width="2.78" height="2.1" fill="#6d9f2e"/>
<rect x="353.28" y="548.3" width="2.78" height="2.1" fill="#72a236"/>
<rect x="355.97" y="548.3" width="2.78" height="2.1" fill="#78a63d"/>
<rect x="358.65" y="548.3" width="2.78" height="2.1" fill="#7da945"/>
<rect x="361.33" y="548.3" width="2.78" height="2.1" fill="#83ad4c"/>
<rect x="364.02" y="548.3" width="2.78" height="2.1" fill="#88b054"/>
<rect x="366.7" y="548.3" width="2.78" height="2.1" fill="#8eb45c"/>
<rect x="369.38" y="548.3" width="2.78" height="2.1" fill="#93b763"/>
<rect x="372.07" y="548.3" width="2.78" height="2.1" fill="#98ba6b"/>
<rect x="374.75" y="548.3" width="2.78" height="2.1" fill="#9ebe72"/>
<rect x="377.43" y="548.3" width="2.78" height="2.1" fill="#a3c17a"/>
<rect x="380.12" y="548.3" width="2.78" height="2.1" fill="#a9c582"/>
<rect x="382.8" y="548.3" width="2.78" height="2.1" fill="#aec889"/>
<rect x="385.48" y="548.3" width="2.78" height="2.1" fill="#b4cc91"/>
<rect x="388.17" y="548.3" width="2.78" height="2.1" fill="#b9cf99"/>
<rect x="390.85" y="548.3" width="2.78" height="2.1" fill="#bfd3a0"/>
<rect x="393.53" y="548.3" width="2.78" height="2.1" fill="#c4d6a8"/>
<rect x="396.22" y="548.3" width="2.78" height="2.1" fill="#c9d9af"/>
<rect x="398.9" y="548.3" width="2.78" height="2.1" fill="#cfddb7"/>
<rect x="401.58" y="548.3" width="2.78" height="2.1" fill="#d4e0bf"/>
<rect x="404.27" y="548.3" width="2.78" height="2.1" fill="#dae4c6"/>
<rect x="406.95" y="548.3" width="2.78" height="2.1" fill="#dfe7ce"/>
<rect x="409.63" y="548.3" width="2.78" height="2.1" fill="#e5ebd5"/>
<rect x="412.32" y="548.3" width="2.78" height="2.1" fill="#eaeedd"/>
<rect x="423.5" y="548.3" width="2.87" height="2.1" fill="#f3d9d9"/>
<rect x="426.27" y="548.3" width="2.87" height="2.1" fill="#f1d1d1"/>
<rect x="429.03" y="548.3" width="2.87" height="2.1" fill="#efcaca"/>
<rect x="431.8" y="548.3" width="2.87" height="2.1" fill="#ecc2c2"/>
<rect x="434.57" y="548.3" width="2.87" height="2.1" fill="#eabbbb"/>
<rect x="437.33" y="548.3" width="2.87" height="2.1" fill="#e8b3b3"/>
<rect x="440.1" y="548.3" width="2.87" height="2.1" fill="#e6abab"/>
<rect x="442.87" y="548.3" width="2.87" height="2.1" fill="#e3a4a4"/>
<rect x="445.63" y="548.3" width="2.87" height="2.1" fill="#e19c9c"/>
<rect x="448.4" y="548.3" width="2.87" height="2.1" fill="#df9595"/>
<rect x="451.17" y="548.3" width="2.87" height="2.1" fill="#dd8d8d"/>
<rect x="453.93" y="548.3" width="2.87" height="2.1" fill="#db8585"/>
<rect x="456.7" y="548.3" width="2.87" height="2.1" fill="#d87e7e"/>
<rect x="459.47" y="548.3" width="2.87" height="2.1" fill="#d67676"/>
<rect x="462.23" y="548.3" width="2.87" height="2.1" fill="#d46e6e"/>
<rect x="465" y="548.3" width="2.87" height="2.1" fill="#d26767"/>
<rect x="467.77" y="548.3" width="2.87" height="2.1" fill="#d05f5f"/>
<rect x="470.53" y="548.3" width="2.87" height="2.1" fill="#cd5858"/>
<rect x="473.3" y="548.3" width="2.87" height="2.1" fill="#cb5050"/>
<rect x="476.07" y="548.3" width="2.87" height="2.1" fill="#c94848"/>
<rect x="478.83" y="548.3" width="2.87" height="2.1" fill="#c74141"/>
<rect x="481.6" y="548.3" width="2.87" height="2.1" fill="#c43939"/>
<rect x="484.37" y="548.3" width="2.87" height="2.1" fill="#c23232"/>
<rect x="487.13" y="548.3" width="2.87" height="2.1" fill="#c02a2a"/>
<line x1="79.2" y1="635.5" x2="136" y2="616" stroke="#333" stroke-width="0.6" stroke-dasharray="1.2,1.2"/>
<line x1="136" y1="616" x2="178.8" y2="653.1" stroke="#333" stroke-width="0.6" stroke-dasharray="1.2,1.2"/>
<line x1="136" y1="616" x2="140.3" y2="556" stroke="#333" stroke-width="0.6" stroke-dasharray="1.2,1.2"/>
<g stroke="#3a2626" stroke-width="0.42" stroke-linejoin="round"><path d="M138.69,561.86L135.8,559.07L140.3,556L143.22,558.9Z" fill="#cd574c"/><path d="M141.58,564.67L138.69,561.86L143.22,558.9L146.13,561.81Z" fill="#ce5b50"/><path d="M134.2,564.85L131.34,562.15L135.8,559.07L138.69,561.86Z" fill="#d16257"/><path d="M144.47,567.48L141.58,564.67L146.13,561.81L149.04,564.73Z" fill="#d05e54"/><path d="M137.06,567.58L134.2,564.85L138.69,561.86L141.58,564.67Z" fill="#d2645a"/><path d="M129.75,567.88L126.92,565.25L131.34,562.15L134.2,564.85Z" fill="#d46c62"/><path d="M147.35,570.29L144.47,567.48L149.04,564.73L151.94,567.66Z" fill="#d16257"/><path d="M139.92,570.35L137.06,567.58L141.58,564.67L144.47,567.48Z" fill="#d3675d"/><path d="M132.57,570.64L129.75,567.88L134.2,564.85L137.06,567.58Z" fill="#d56e64"/><path d="M125.33,570.98L122.53,568.37L126.92,565.25L129.75,567.88Z" fill="#d8776d"/><path d="M150.23,573.1L147.35,570.29L151.94,567.66L154.85,570.58Z" fill="#d2655b"/><path d="M142.77,573.1L139.92,570.35L144.47,567.48L147.35,570.29Z" fill="#d46a60"/><path d="M135.39,573.53L132.57,570.64L137.06,567.58L139.92,570.35Z" fill="#d67167"/><path d="M128.11,573.89L125.33,570.98L129.75,567.88L132.57,570.64Z" fill="#d8796f"/><path d="M120.94,574.06L118.19,571.5L122.53,568.37L125.33,570.98Z" fill="#db8178"/><path d="M153.11,575.9L150.23,573.1L154.85,570.58L157.75,573.52Z" fill="#d3695f"/><path d="M145.63,575.75L142.77,573.1L147.35,570.29L150.23,573.1Z" fill="#d46d63"/><path d="M138.2,576.32L135.39,573.53L139.92,570.35L142.77,573.1Z" fill="#d7746a"/><path d="M130.88,577.1L128.11,573.89L132.57,570.64L135.39,573.53Z" fill="#d97d73"/><path d="M123.69,577.09L120.94,574.06L125.33,570.98L128.11,573.89Z" fill="#dc847a"/><path d="M116.6,577.12L113.88,574.81L118.19,571.5L120.94,574.06Z" fill="#df8c83"/><path d="M155.99,578.7L153.11,575.9L157.75,573.52L160.65,576.46Z" fill="#d46d62"/><path d="M148.49,578.36L145.63,575.75L150.23,573.1L153.11,575.9Z" fill="#d57066"/><path d="M141.03,578.79L138.2,576.32L142.77,573.1L145.63,575.75Z" fill="#d7766c"/><path d="M133.65,580.07L130.88,577.1L135.39,573.53L138.2,576.32Z" fill="#db8077"/><path d="M126.41,580.55L123.69,577.09L128.11,573.89L130.88,577.1Z" fill="#dd887f"/><path d="M119.31,579.92L116.6,577.12L120.94,574.06L123.69,577.09Z" fill="#df8e85"/><path d="M112.28,580.41L109.61,578.41L113.88,574.81L116.6,577.12Z" fill="#e29890"/><path d="M158.87,581.52L155.99,578.7L160.65,576.46L163.55,579.4Z" fill="#d57066"/><path d="M151.35,580.98L148.49,578.36L153.11,575.9L155.99,578.7Z" fill="#d67268"/><path d="M143.88,581.03L141.03,578.79L145.63,575.75L148.49,578.36Z" fill="#d8776d"/><path d="M136.45,582.26L133.65,580.07L138.2,576.32L141.03,578.79Z" fill="#db8278"/><path d="M129.15,583.64L126.41,580.55L130.88,577.1L133.65,580.07Z" fill="#df8d84"/><path d="M122.01,583.19L119.31,579.92L123.69,577.09L126.41,580.55Z" fill="#e09289"/><path d="M114.96,582.69L112.28,580.41L116.6,577.12L119.31,579.92Z" fill="#e2988f"/><path d="M108.01,583.98L105.38,582.2L109.61,578.41L112.28,580.41Z" fill="#e6a69e"/><path d="M161.74,584.35L158.87,581.52L163.55,579.4L166.44,582.36Z" fill="#d7746a"/><path d="M154.2,583.64L151.35,580.98L155.99,578.7L158.87,581.52Z" fill="#d7756b"/><path d="M146.72,583.33L143.88,581.03L148.49,578.36L151.35,580.98Z" fill="#d8786e"/><path d="M139.28,583.93L136.45,582.26L141.03,578.79L143.88,581.03Z" fill="#db8177"/><path d="M131.92,585.53L129.15,583.64L133.65,580.07L136.45,582.26Z" fill="#df8e85"/><path d="M124.71,586.02L122.01,583.19L126.41,580.55L129.15,583.64Z" fill="#e2978e"/><path d="M117.63,585.19L114.96,582.69L119.31,579.92L122.01,583.19Z" fill="#e39a91"/><path d="M110.64,585.82L108.01,583.98L112.28,580.41L114.96,582.69Z" fill="#e6a39b"/><path d="M103.79,587.75L101.21,586.08L105.38,582.2L108.01,583.98Z" fill="#ebb4ae"/><path d="M164.61,587.18L161.74,584.35L166.44,582.36L169.33,585.32Z" fill="#d8776d"/><path d="M157.05,586.34L154.2,583.64L158.87,581.52L161.74,584.35Z" fill="#d8776d"/><path d="M149.55,585.79L146.72,583.33L151.35,580.98L154.2,583.64Z" fill="#d87970"/><path d="M142.1,585.75L139.28,583.93L143.88,581.03L146.72,583.33Z" fill="#da7f75"/><path d="M134.71,586.63L131.92,585.53L136.45,582.26L139.28,583.93Z" fill="#de8a81"/><path d="M127.45,587.58L124.71,586.02L129.15,583.64L131.92,585.53Z" fill="#e2968e"/><path d="M120.31,587.3L117.63,585.19L122.01,583.19L124.71,586.02Z" fill="#e39b93"/><path d="M113.27,587.63L110.64,585.82L114.96,582.69L117.63,585.19Z" fill="#e5a199"/><path d="M106.36,589.38L103.79,587.75L108.01,583.98L110.64,585.82Z" fill="#eab0a9"/><path d="M99.61,591.59L97.09,589.93L101.21,586.08L103.79,587.75Z" fill="#efc4be"/><path d="M167.48,590.07L164.61,587.18L169.33,585.32L172.22,588.34Z" fill="#d97b71"/><path d="M159.9,589.04L157.05,586.34L161.74,584.35L164.61,587.18Z" fill="#d97a70"/><path d="M152.37,588.33L149.55,585.79L154.2,583.64L157.05,586.34Z" fill="#d97b71"/><path d="M144.91,587.94L142.1,585.75L146.72,583.33L149.55,585.79Z" fill="#da7e75"/><path d="M137.51,587.99L134.71,586.63L139.28,583.93L142.1,585.75Z" fill="#dc867c"/><path d="M130.2,588.34L127.45,587.58L131.92,585.53L134.71,586.63Z" fill="#e09187"/><path d="M123.01,588.36L120.31,587.3L124.71,586.02L127.45,587.58Z" fill="#e29890"/><path d="M115.91,588.95L113.27,587.63L117.63,585.19L120.31,587.3Z" fill="#e49e96"/><path d="M108.94,590.87L106.36,589.38L110.64,585.82L113.27,587.63Z" fill="#e8aca5"/><path d="M102.13,593.19L99.61,591.59L103.79,587.75L106.36,589.38Z" fill="#eebfb9"/><path d="M95.48,595.36L93.02,593.62L97.09,589.93L99.61,591.59Z" fill="#f3d2ce"/><path d="M170.2,594.71L167.48,590.07L172.22,588.34L174.94,593.12Z" fill="#dc837a"/><path d="M162.74,591.8L159.9,589.04L164.61,587.18L167.48,590.07Z" fill="#da7d73"/><path d="M155.19,590.91L152.37,588.33L157.05,586.34L159.9,589.04Z" fill="#da7d73"/><path d="M147.7,590.33L144.91,587.94L149.55,585.79L152.37,588.33Z" fill="#da7f75"/><path d="M140.28,589.97L137.51,587.99L142.1,585.75L144.91,587.94Z" fill="#dc837a"/><path d="M132.95,589.53L130.2,588.34L134.71,586.63L137.51,587.99Z" fill="#de8a80"/><path d="M125.72,588.82L123.01,588.36L127.45,587.58L130.2,588.34Z" fill="#e09087"/><path d="M118.56,589.27L115.91,588.95L120.31,587.3L123.01,588.36Z" fill="#e2978f"/><path d="M111.52,591.85L108.94,590.87L113.27,587.63L115.91,588.95Z" fill="#e6a69e"/><path d="M104.66,594.64L102.13,593.19L106.36,589.38L108.94,590.87Z" fill="#ecb9b3"/><path d="M97.95,597.02L95.48,595.36L99.61,591.59L102.13,593.19Z" fill="#f2cdc9"/><path d="M91.4,598.92L88.98,597.05L93.02,593.62L95.48,595.36Z" fill="#f7e0de"/><path d="M172.71,601.8L170.2,594.71L174.94,593.12L177.44,600.31Z" fill="#e2978e"/><path d="M165.46,596.31L162.74,591.8L167.48,590.07L170.2,594.71Z" fill="#dc857b"/><path d="M158.01,593.54L155.19,590.91L159.9,589.04L162.74,591.8Z" fill="#da7f75"/><path d="M150.5,592.77L147.7,590.33L152.37,588.33L155.19,590.91Z" fill="#da8076"/><path d="M143.05,592.27L140.28,589.97L144.91,587.94L147.7,590.33Z" fill="#db8279"/><path d="M135.69,591.59L132.95,589.53L137.51,587.99L140.28,589.97Z" fill="#dc867c"/><path d="M128.42,590.07L125.72,588.82L130.2,588.34L132.95,589.53Z" fill="#dd887f"/><path d="M121.22,589.2L118.56,589.27L123.01,588.36L125.72,588.82Z" fill="#df8d83"/><path d="M114.11,591.94L111.52,591.85L115.91,588.95L118.56,589.27Z" fill="#e39c93"/><path d="M107.18,595.74L104.66,594.64L108.94,590.87L111.52,591.85Z" fill="#eab2ab"/><path d="M100.42,598.58L97.95,597.02L102.13,593.19L104.66,594.64Z" fill="#f1c8c3"/><path d="M93.82,600.73L91.4,598.92L95.48,595.36L97.95,597.02Z" fill="#f6dcd8"/><path d="M87.33,602.16L84.96,600.08L88.98,597.05L91.4,598.92Z" fill="#faeceb"/><path d="M175.02,611.16L172.71,601.8L177.44,600.31L179.72,609.7Z" fill="#ecb8b2"/><path d="M167.98,603.29L165.46,596.31L170.2,594.71L172.71,601.8Z" fill="#e2978f"/><path d="M160.72,597.91L158.01,593.54L162.74,591.8L165.46,596.31Z" fill="#dc867c"/><path d="M153.29,595.27L150.5,592.77L155.19,590.91L158.01,593.54Z" fill="#db8177"/><path d="M145.81,594.62L143.05,592.27L147.7,590.33L150.5,592.77Z" fill="#db8379"/><path d="M138.41,594.04L135.69,591.59L140.28,589.97L143.05,592.27Z" fill="#dc857b"/><path d="M131.11,592.58L128.42,590.07L132.95,589.53L135.69,591.59Z" fill="#dc857b"/><path d="M123.88,590.41L121.22,589.2L125.72,588.82L128.42,590.07Z" fill="#dc837a"/><path d="M116.7,591.66L114.11,591.94L118.56,589.27L121.22,589.2Z" fill="#df8e85"/><path d="M109.7,596.24L107.18,595.74L111.52,591.85L114.11,591.94Z" fill="#e7a8a0"/><path d="M102.89,599.95L100.42,598.58L104.66,594.64L107.18,595.74Z" fill="#efc1bc"/><path d="M96.24,602.46L93.82,600.73L97.95,597.02L100.42,598.58Z" fill="#f5d7d3"/><path d="M89.71,604.19L87.33,602.16L91.4,598.92L93.82,600.73Z" fill="#f9e9e7"/><path d="M83.28,604.95L80.94,602.6L84.96,600.08L87.33,602.16Z" fill="#fdf6f5"/><path d="M177.13,622.63L175.02,611.16L179.72,609.7L181.8,621.05Z" fill="#f8e5e3"/><path d="M170.32,612.63L167.98,603.29L172.71,601.8L175.02,611.16Z" fill="#ecb8b2"/><path d="M163.25,604.78L160.72,597.91L165.46,596.31L167.98,603.29Z" fill="#e2988f"/><path d="M155.98,599.5L153.29,595.27L158.01,593.54L160.72,597.91Z" fill="#dd877d"/><path d="M148.57,597.01L145.81,594.62L150.5,592.77L153.29,595.27Z" fill="#db8379"/><path d="M141.13,596.43L138.41,594.04L143.05,592.27L145.81,594.62Z" fill="#dc857b"/><path d="M133.78,595.53L131.11,592.58L135.69,591.59L138.41,594.04Z" fill="#dc857c"/><path d="M126.52,593.43L123.88,590.41L128.42,590.07L131.11,592.58Z" fill="#db8178"/><path d="M119.31,592.58L116.7,591.66L121.22,589.2L123.88,590.41Z" fill="#dc837a"/><path d="M112.24,596.45L109.7,596.24L114.11,591.94L116.7,591.66Z" fill="#e39b92"/><path d="M105.37,601.03L102.89,599.95L107.18,595.74L109.7,596.24Z" fill="#ecb9b2"/><path d="M98.66,604.09L96.24,602.46L100.42,598.58L102.89,599.95Z" fill="#f3d1cd"/><path d="M92.09,606.15L89.71,604.19L93.82,600.73L96.24,602.46Z" fill="#f8e4e2"/><path d="M85.63,607.27L83.28,604.95L87.33,602.16L89.71,604.19Z" fill="#fcf4f2"/><path d="M79.22,607.18L76.9,604.5L80.94,602.6L83.28,604.95Z" fill="#fefdfc"/><path d="M172.45,624.21L170.32,612.63L175.02,611.16L177.13,622.63Z" fill="#f8e5e3"/><path d="M165.61,614.1L163.25,604.78L167.98,603.29L170.32,612.63Z" fill="#ecb8b2"/><path d="M158.53,606.27L155.98,599.5L160.72,597.91L163.25,604.78Z" fill="#e29890"/><path d="M151.25,601.1L148.57,597.01L153.29,595.27L155.98,599.5Z" fill="#dd887f"/><path d="M143.85,598.74L141.13,596.43L145.81,594.62L148.57,597.01Z" fill="#dc857b"/><path d="M136.46,598.15L133.78,595.53L138.41,594.04L141.13,596.43Z" fill="#dd867d"/><path d="M129.16,596.95L126.52,593.43L131.11,592.58L133.78,595.53Z" fill="#dc847b"/><path d="M121.92,595.37L119.31,592.58L123.88,590.41L126.52,593.43Z" fill="#db8177"/><path d="M114.78,597.36L112.24,596.45L116.7,591.66L119.31,592.58Z" fill="#df8f86"/><path d="M107.84,601.92L105.37,601.03L109.7,596.24L112.24,596.45Z" fill="#e9aea7"/><path d="M101.08,605.57L98.66,604.09L102.89,599.95L105.37,601.03Z" fill="#f1cac5"/><path d="M94.47,608.05L92.09,606.15L96.24,602.46L98.66,604.09Z" fill="#f7e0dd"/><path d="M87.97,609.56L85.63,607.27L89.71,604.19L92.09,606.15Z" fill="#fbf1ef"/><path d="M81.54,609.87L79.22,607.18L83.28,604.95L85.63,607.27Z" fill="#fefcfb"/><path d="M167.78,625.79L165.61,614.1L170.32,612.63L172.45,624.21Z" fill="#f8e5e3"/><path d="M160.91,615.56L158.53,606.27L163.25,604.78L165.61,614.1Z" fill="#ecb8b1"/><path d="M153.8,607.76L151.25,601.1L155.98,599.5L158.53,606.27Z" fill="#e29990"/><path d="M146.52,602.7L143.85,598.74L148.57,597.01L151.25,601.1Z" fill="#de8980"/><path d="M139.15,600.45L136.46,598.15L141.13,596.43L143.85,598.74Z" fill="#dd877d"/><path d="M131.79,599.85L129.16,596.95L133.78,595.53L136.46,598.15Z" fill="#dd877e"/><path d="M124.53,598.83L121.92,595.37L126.52,593.43L129.16,596.95Z" fill="#dc857c"/><path d="M117.35,599.42L114.78,597.36L119.31,592.58L121.92,595.37Z" fill="#de8b82"/><path d="M110.33,603.01L107.84,601.92L112.24,596.45L114.78,597.36Z" fill="#e6a59d"/><path d="M103.51,606.94L101.08,605.57L105.37,601.03L107.84,601.92Z" fill="#efc3bd"/><path d="M96.85,609.86L94.47,608.05L98.66,604.09L101.08,605.57Z" fill="#f6dbd7"/><path d="M90.31,611.8L87.97,609.56L92.09,606.15L94.47,608.05Z" fill="#faeeec"/><path d="M83.86,612.55L81.54,609.87L85.63,607.27L87.97,609.56Z" fill="#fefbfa"/><path d="M163.11,627.37L160.91,615.56L165.61,614.1L167.78,625.79Z" fill="#f8e5e2"/><path d="M156.2,617.03L153.8,607.76L158.53,606.27L160.91,615.56Z" fill="#ecb7b1"/><path d="M149.07,609.25L146.52,602.7L151.25,601.1L153.8,607.76Z" fill="#e29990"/><path d="M141.79,604.3L139.15,600.45L143.85,598.74L146.52,602.7Z" fill="#de8a81"/><path d="M134.44,602.16L131.79,599.85L136.46,598.15L139.15,600.45Z" fill="#dd887f"/><path d="M127.13,601.69L124.53,598.83L129.16,596.95L131.79,599.85Z" fill="#dd8980"/><path d="M119.91,601.85L117.35,599.42L121.92,595.37L124.53,598.83Z" fill="#de8c83"/><path d="M112.83,604.47L110.33,603.01L114.78,597.36L117.35,599.42Z" fill="#e49e96"/><path d="M105.94,608.26L103.51,606.94L107.84,601.92L110.33,603.01Z" fill="#edbbb5"/><path d="M99.23,611.58L96.85,609.86L101.08,605.57L103.51,606.94Z" fill="#f4d5d1"/><path d="M92.65,613.99L90.31,611.8L94.47,608.05L96.85,609.86Z" fill="#faeae8"/><path d="M86.18,615.23L83.86,612.55L87.97,609.56L90.31,611.8Z" fill="#fefaf9"/><path d="M158.43,628.95L156.2,617.03L160.91,615.56L163.11,627.37Z" fill="#f8e5e2"/><path d="M151.49,618.49L149.07,609.25L153.8,607.76L156.2,617.03Z" fill="#ecb7b1"/><path d="M144.34,610.74L141.79,604.3L146.52,602.7L149.07,609.25Z" fill="#e39991"/><path d="M137.06,605.89L134.44,602.16L139.15,600.45L141.79,604.3Z" fill="#de8b82"/><path d="M129.74,603.89L127.13,601.69L131.79,599.85L134.44,602.16Z" fill="#de8a80"/><path d="M122.48,603.91L119.91,601.85L124.53,598.83L127.13,601.69Z" fill="#df8e84"/><path d="M115.34,606.01L112.83,604.47L117.35,599.42L119.91,601.85Z" fill="#e39b92"/><path d="M108.38,609.56L105.94,608.26L110.33,603.01L112.83,604.47Z" fill="#ebb4ad"/><path d="M101.61,613.21L99.23,611.58L103.51,606.94L105.94,608.26Z" fill="#f3cfca"/><path d="M95,616.13L92.65,613.99L96.85,609.86L99.23,611.58Z" fill="#f9e6e4"/><path d="M88.5,617.92L86.18,615.23L90.31,611.8L92.65,613.99Z" fill="#fdf8f8"/><path d="M153.76,630.53L151.49,618.49L156.2,617.03L158.43,628.95Z" fill="#f8e5e2"/><path d="M146.78,619.95L144.34,610.74L149.07,609.25L151.49,618.49Z" fill="#ecb7b1"/><path d="M139.61,612.22L137.06,605.89L141.79,604.3L144.34,610.74Z" fill="#e39a91"/><path d="M132.34,607.49L129.74,603.89L134.44,602.16L137.06,605.89Z" fill="#df8d83"/><path d="M125.05,605.67L122.48,603.91L127.13,601.69L129.74,603.89Z" fill="#de8c83"/><path d="M117.85,607.3L115.34,606.01L119.91,601.85L122.48,603.91Z" fill="#e2978e"/><path d="M110.82,610.78L108.38,609.56L112.83,604.47L115.34,606.01Z" fill="#e9ada6"/><path d="M103.99,614.73L101.61,613.21L105.94,608.26L108.38,609.56Z" fill="#f1c9c3"/><path d="M97.34,618.2L95,616.13L99.23,611.58L101.61,613.21Z" fill="#f8e2e0"/><path d="M90.82,620.6L88.5,617.92L92.65,613.99L95,616.13Z" fill="#fdf7f6"/><path d="M149.09,632.11L146.78,619.95L151.49,618.49L153.76,630.53Z" fill="#f8e4e2"/><path d="M142.07,621.42L139.61,612.22L144.34,610.74L146.78,619.95Z" fill="#ecb7b0"/><path d="M134.88,613.71L132.34,607.49L137.06,605.89L139.61,612.22Z" fill="#e39a91"/><path d="M127.61,609.1L125.05,605.67L129.74,603.89L132.34,607.49Z" fill="#df8e85"/><path d="M120.37,608.4L117.85,607.3L122.48,603.91L125.05,605.67Z" fill="#e09289"/><path d="M113.27,611.8L110.82,610.78L115.34,606.01L117.85,607.3Z" fill="#e7a69f"/><path d="M106.38,616.12L103.99,614.73L108.38,609.56L110.82,610.78Z" fill="#efc2bc"/><path d="M99.68,620.19L97.34,618.2L101.61,613.21L103.99,614.73Z" fill="#f6dedb"/><path d="M93.14,623.28L90.82,620.6L95,616.13L97.34,618.2Z" fill="#fdf5f5"/><path d="M144.41,633.69L142.07,621.42L146.78,619.95L149.09,632.11Z" fill="#f8e4e2"/><path d="M137.36,622.88L134.88,613.71L139.61,612.22L142.07,621.42Z" fill="#ebb7b0"/><path d="M130.15,615.2L127.61,609.1L132.34,607.49L134.88,613.71Z" fill="#e39a92"/><path d="M122.89,611.09L120.37,608.4L125.05,605.67L127.61,609.1Z" fill="#e09188"/><path d="M115.73,612.66L113.27,611.8L117.85,607.3L120.37,608.4Z" fill="#e49e96"/><path d="M108.77,617.34L106.38,616.12L110.82,610.78L113.27,611.8Z" fill="#edbab4"/><path d="M102.03,622.09L99.68,620.19L103.99,614.73L106.38,616.12Z" fill="#f5d8d5"/><path d="M95.46,625.97L93.14,623.28L97.34,618.2L99.68,620.19Z" fill="#fcf4f3"/><path d="M139.74,635.27L137.36,622.88L142.07,621.42L144.41,633.69Z" fill="#f8e4e1"/><path d="M132.65,624.34L130.15,615.2L134.88,613.71L137.36,622.88Z" fill="#ebb6b0"/><path d="M125.42,616.73L122.89,611.09L127.61,609.1L130.15,615.2Z" fill="#e39b93"/><path d="M118.2,614.81L115.73,612.66L120.37,608.4L122.89,611.09Z" fill="#e39a91"/><path d="M111.17,618.38L108.77,617.34L113.27,611.8L115.73,612.66Z" fill="#eab2ab"/><path d="M104.37,623.87L102.03,622.09L106.38,616.12L108.77,617.34Z" fill="#f4d3cf"/><path d="M97.78,628.65L95.46,625.97L99.68,620.19L102.03,622.09Z" fill="#fcf2f1"/><path d="M135.07,636.85L132.65,624.34L137.36,622.88L139.74,635.27Z" fill="#f8e4e1"/><path d="M127.93,625.81L125.42,616.73L130.15,615.2L132.65,624.34Z" fill="#ebb6b0"/><path d="M120.71,619.54L118.2,614.81L122.89,611.09L125.42,616.73Z" fill="#e5a199"/><path d="M113.59,620.33L111.17,618.38L115.73,612.66L118.2,614.81Z" fill="#e8aca5"/><path d="M106.72,625.52L104.37,623.87L108.77,617.34L111.17,618.38Z" fill="#f2ccc7"/><path d="M100.1,631.33L97.78,628.65L102.03,622.09L104.37,623.87Z" fill="#fbf0ee"/><path d="M130.39,638.43L127.93,625.81L132.65,624.34L135.07,636.85Z" fill="#f8e4e1"/><path d="M123.22,627.67L120.71,619.54L125.42,616.73L127.93,625.81Z" fill="#ecb8b2"/><path d="M116.04,624.24L113.59,620.33L118.2,614.81L120.71,619.54Z" fill="#e9b0a9"/><path d="M109.08,627.64L106.72,625.52L111.17,618.38L113.59,620.33Z" fill="#f0c7c2"/><path d="M102.42,634.02L100.1,631.33L104.37,623.87L106.72,625.52Z" fill="#faedeb"/><path d="M125.72,640.01L123.22,627.67L127.93,625.81L130.39,638.43Z" fill="#f8e4e1"/><path d="M118.53,630.96L116.04,624.24L120.71,619.54L123.22,627.67Z" fill="#efc1bc"/><path d="M111.48,630.85L109.08,627.64L113.59,620.33L116.04,624.24Z" fill="#f1c8c3"/><path d="M104.74,636.7L102.42,634.02L106.72,625.52L109.08,627.64Z" fill="#faebe9"/><path d="M121.05,641.59L118.53,630.96L123.22,627.67L125.72,640.01Z" fill="#f9e7e5"/><path d="M113.91,635.74L111.48,630.85L116.04,624.24L118.53,630.96Z" fill="#f4d3cf"/><path d="M107.06,639.38L104.74,636.7L109.08,627.64L111.48,630.85Z" fill="#faebe9"/><path d="M116.37,643.17L113.91,635.74L118.53,630.96L121.05,641.59Z" fill="#faeeec"/><path d="M109.38,642.07L107.06,639.38L111.48,630.85L113.91,635.74Z" fill="#fbefed"/><path d="M111.7,644.75L109.38,642.07L113.91,635.74L116.37,643.17Z" fill="#fdf9f8"/></g>
<line x1="74.6" y1="573.5" x2="140.3" y2="556" stroke="#1a1a1a" stroke-width="0.75"/>
<line x1="140.3" y1="556" x2="184.8" y2="589" stroke="#1a1a1a" stroke-width="0.75"/>
<line x1="74.6" y1="573.5" x2="110.8" y2="611.5" stroke="#1a1a1a" stroke-width="0.75"/>
<line x1="110.8" y1="611.5" x2="184.8" y2="589" stroke="#1a1a1a" stroke-width="0.75"/>
<line x1="110.8" y1="611.5" x2="112.6" y2="678" stroke="#1a1a1a" stroke-width="0.75"/>
<line x1="74.6" y1="573.5" x2="79.2" y2="635.5" stroke="#1a1a1a" stroke-width="0.75"/>
<line x1="184.8" y1="589" x2="178.8" y2="653.1" stroke="#1a1a1a" stroke-width="0.75"/>
<line x1="79.2" y1="635.5" x2="112.6" y2="678" stroke="#1a1a1a" stroke-width="0.75"/>
<line x1="112.6" y1="678" x2="178.8" y2="653.1" stroke="#1a1a1a" stroke-width="0.75"/>
<line x1="72.4" y1="573.5" x2="74.6" y2="573.5" stroke="#222" stroke-width="0.6"/>
<text x="70" y="575.4" font-size="5.38" fill="#333" text-anchor="end" textLength="4.78" lengthAdjust="spacingAndGlyphs">20</text>
<line x1="72.97" y1="581.25" x2="75.17" y2="581.25" stroke="#222" stroke-width="0.6"/>
<text x="70.58" y="583.15" font-size="5.38" fill="#333" text-anchor="end" textLength="4.78" lengthAdjust="spacingAndGlyphs">15</text>
<line x1="73.55" y1="589" x2="75.75" y2="589" stroke="#222" stroke-width="0.6"/>
<text x="71.15" y="590.9" font-size="5.38" fill="#333" text-anchor="end" textLength="4.78" lengthAdjust="spacingAndGlyphs">10</text>
<line x1="74.12" y1="596.75" x2="76.33" y2="596.75" stroke="#222" stroke-width="0.6"/>
<text x="71.73" y="598.65" font-size="5.38" fill="#333" text-anchor="end" textLength="2.39" lengthAdjust="spacingAndGlyphs">5</text>
<line x1="74.7" y1="604.5" x2="76.9" y2="604.5" stroke="#222" stroke-width="0.6"/>
<text x="72.3" y="606.4" font-size="5.38" fill="#333" text-anchor="end" textLength="2.39" lengthAdjust="spacingAndGlyphs">0</text>
<line x1="75.27" y1="612.25" x2="77.47" y2="612.25" stroke="#222" stroke-width="0.6"/>
<text x="72.88" y="614.15" font-size="5.38" fill="#333" text-anchor="end" textLength="3.82" lengthAdjust="spacingAndGlyphs">-5</text>
<line x1="75.85" y1="620" x2="78.05" y2="620" stroke="#222" stroke-width="0.6"/>
<text x="73.45" y="621.9" font-size="5.38" fill="#333" text-anchor="end" textLength="6.22" lengthAdjust="spacingAndGlyphs">-10</text>
<line x1="76.42" y1="627.75" x2="78.62" y2="627.75" stroke="#222" stroke-width="0.6"/>
<text x="74.03" y="629.65" font-size="5.38" fill="#333" text-anchor="end" textLength="6.22" lengthAdjust="spacingAndGlyphs">-15</text>
<line x1="77" y1="635.5" x2="79.2" y2="635.5" stroke="#222" stroke-width="0.6"/>
<text x="74.6" y="637.4" font-size="5.38" fill="#333" text-anchor="end" textLength="6.22" lengthAdjust="spacingAndGlyphs">-20</text>
<line x1="79.2" y1="635.5" x2="77.4" y2="636.7" stroke="#222" stroke-width="0.6"/>
<text x="75.6" y="641.9" font-size="5.38" fill="#333" text-anchor="end" textLength="9.57" lengthAdjust="spacingAndGlyphs">2000</text>
<line x1="87.55" y1="646.12" x2="85.75" y2="647.33" stroke="#222" stroke-width="0.6"/>
<text x="83.95" y="652.52" font-size="5.38" fill="#333" text-anchor="end" textLength="9.57" lengthAdjust="spacingAndGlyphs">1000</text>
<line x1="95.9" y1="656.75" x2="94.1" y2="657.95" stroke="#222" stroke-width="0.6"/>
<text x="92.3" y="663.15" font-size="5.38" fill="#333" text-anchor="end" textLength="7.17" lengthAdjust="spacingAndGlyphs">500</text>
<line x1="104.25" y1="667.38" x2="102.45" y2="668.58" stroke="#222" stroke-width="0.6"/>
<text x="100.65" y="673.77" font-size="5.38" fill="#333" text-anchor="end" textLength="7.17" lengthAdjust="spacingAndGlyphs">250</text>
<line x1="112.6" y1="678" x2="110.8" y2="679.2" stroke="#222" stroke-width="0.6"/>
<text x="109" y="684.4" font-size="5.38" fill="#333" text-anchor="end" textLength="2.39" lengthAdjust="spacingAndGlyphs">0</text>
<line x1="112.6" y1="678" x2="113.2" y2="680" stroke="#222" stroke-width="0.6"/>
<text x="114.4" y="688.2" font-size="5.38" fill="#333" text-anchor="middle" textLength="2.39" lengthAdjust="spacingAndGlyphs">0</text>
<line x1="129.15" y1="671.77" x2="129.75" y2="673.77" stroke="#222" stroke-width="0.6"/>
<text x="130.95" y="681.98" font-size="5.38" fill="#333" text-anchor="middle" textLength="8.37" lengthAdjust="spacingAndGlyphs">6.25</text>
<line x1="145.7" y1="665.55" x2="146.3" y2="667.55" stroke="#222" stroke-width="0.6"/>
<text x="147.5" y="675.75" font-size="5.38" fill="#333" text-anchor="middle" textLength="8.37" lengthAdjust="spacingAndGlyphs">12.5</text>
<line x1="162.25" y1="659.33" x2="162.85" y2="661.33" stroke="#222" stroke-width="0.6"/>
<text x="164.05" y="669.53" font-size="5.38" fill="#333" text-anchor="middle" textLength="4.78" lengthAdjust="spacingAndGlyphs">25</text>
<line x1="178.8" y1="653.1" x2="179.4" y2="655.1" stroke="#222" stroke-width="0.6"/>
<text x="180.6" y="663.3" font-size="5.38" fill="#333" text-anchor="middle" textLength="4.78" lengthAdjust="spacingAndGlyphs">50</text>
<text x="60.1" y="604.3" font-size="8.25" fill="#222" text-anchor="middle" transform="rotate(-90 60.1 604.3)" textLength="44.5" lengthAdjust="spacingAndGlyphs">Synergy score</text>
<text x="71.5" y="664.6" font-size="8.25" fill="#222" text-anchor="middle" transform="rotate(49 71.5 664.6)" textLength="29" lengthAdjust="spacingAndGlyphs">AraC(nM)</text>
<text x="158.7" y="682.6" font-size="8.25" fill="#222" text-anchor="middle" transform="rotate(-21.7 158.7 682.6)" textLength="46" lengthAdjust="spacingAndGlyphs">Trametinib(nM)</text>
<line x1="229.2" y1="635.5" x2="286" y2="616" stroke="#333" stroke-width="0.6" stroke-dasharray="1.2,1.2"/>
<line x1="286" y1="616" x2="328.8" y2="653.1" stroke="#333" stroke-width="0.6" stroke-dasharray="1.2,1.2"/>
<line x1="286" y1="616" x2="290.3" y2="556" stroke="#333" stroke-width="0.6" stroke-dasharray="1.2,1.2"/>
<g stroke="#3a2626" stroke-width="0.42" stroke-linejoin="round"><path d="M288.69,561.9L285.81,559.01L290.3,556L293.22,558.89Z" fill="#cd574c"/><path d="M291.45,566.64L288.69,561.9L293.22,558.89L295.98,563.76Z" fill="#d06056"/><path d="M284.04,567.86L281.19,565.08L285.81,559.01L288.69,561.9Z" fill="#d36a60"/><path d="M294.12,572.68L291.45,566.64L295.98,563.76L298.64,570Z" fill="#d67268"/><path d="M286.81,572.18L284.04,567.86L288.69,561.9L291.45,566.64Z" fill="#d67268"/><path d="M279.43,575.23L276.61,572.61L281.19,565.08L284.04,567.86Z" fill="#dd8980"/><path d="M296.74,579.26L294.12,572.68L298.64,570L301.23,576.83Z" fill="#de8a80"/><path d="M289.51,577.56L286.81,572.18L291.45,566.64L294.12,572.68Z" fill="#db8278"/><path d="M282.19,578.97L279.43,575.23L284.04,567.86L286.81,572.18Z" fill="#df8f86"/><path d="M274.94,582.29L272.17,579.83L276.61,572.61L279.43,575.23Z" fill="#e8aca5"/><path d="M299.35,585.68L296.74,579.26L301.23,576.83L303.83,583.48Z" fill="#e5a29b"/><path d="M292.17,583.4L289.51,577.56L294.12,572.68L296.74,579.26Z" fill="#e2968e"/><path d="M284.91,583.49L282.19,578.97L286.81,572.18L289.51,577.56Z" fill="#e39b93"/><path d="M277.69,585.45L274.94,582.29L279.43,575.23L282.19,578.97Z" fill="#e9b0a9"/><path d="M270.61,587.81L267.88,585.52L272.17,579.83L274.94,582.29Z" fill="#f1cac5"/><path d="M302,591.44L299.35,585.68L303.83,583.48L306.47,589.43Z" fill="#ecb9b3"/><path d="M294.82,589.11L292.17,583.4L296.74,579.26L299.35,585.68Z" fill="#e8ada5"/><path d="M287.61,588.34L284.91,583.49L289.51,577.56L292.17,583.4Z" fill="#e8aca5"/><path d="M280.42,589.12L277.69,585.45L282.19,578.97L284.91,583.49Z" fill="#ecb8b2"/><path d="M273.33,590.49L270.61,587.81L274.94,582.29L277.69,585.45Z" fill="#f2ccc7"/><path d="M266.39,591.22L263.7,589.15L267.88,585.52L270.61,587.81Z" fill="#f6dedb"/><path d="M304.71,596.3L302,591.44L306.47,589.43L309.17,594.42Z" fill="#f1cbc6"/><path d="M297.5,594.27L294.82,589.11L299.35,585.68L302,591.44Z" fill="#eec0bb"/><path d="M290.3,593.09L287.61,588.34L292.17,583.4L294.82,589.11Z" fill="#edbdb7"/><path d="M283.13,593L280.42,589.12L284.91,583.49L287.61,588.34Z" fill="#efc3bd"/><path d="M276.05,593.45L273.33,590.49L277.69,585.45L280.42,589.12Z" fill="#f3d0cc"/><path d="M269.08,593.48L266.39,591.22L270.61,587.81L273.33,590.49Z" fill="#f6ddda"/><path d="M262.22,592.46L259.58,590.71L263.7,589.15L266.39,591.22Z" fill="#f8e5e3"/><path d="M307.47,600.27L304.71,596.3L309.17,594.42L311.95,598.47Z" fill="#f5d7d4"/><path d="M300.22,598.68L297.5,594.27L302,591.44L304.71,596.3Z" fill="#f3d0cc"/><path d="M293.01,597.45L290.3,593.09L294.82,589.11L297.5,594.27Z" fill="#f2ccc7"/><path d="M285.84,596.83L283.13,593L287.61,588.34L290.3,593.09Z" fill="#f2ceca"/><path d="M278.75,596.54L276.05,593.45L280.42,589.12L283.13,593Z" fill="#f4d6d2"/><path d="M271.77,595.87L269.08,593.48L273.33,590.49L276.05,593.45Z" fill="#f6dedb"/><path d="M264.87,594.27L262.22,592.46L266.39,591.22L269.08,593.48Z" fill="#f8e2e0"/><path d="M258.05,591.88L255.44,590.59L259.58,590.71L262.22,592.46Z" fill="#f7e1de"/><path d="M310.28,603.5L307.47,600.27L311.95,598.47L314.79,601.73Z" fill="#f7dfdc"/><path d="M302.97,602.36L300.22,598.68L304.71,596.3L307.47,600.27Z" fill="#f6dbd8"/><path d="M295.73,601.26L293.01,597.45L297.5,594.27L300.22,598.68Z" fill="#f5d8d4"/><path d="M288.56,600.4L285.84,596.83L290.3,593.09L293.01,597.45Z" fill="#f5d8d5"/><path d="M281.46,599.6L278.75,596.54L283.13,593L285.84,596.83Z" fill="#f6dcd9"/><path d="M274.45,598.34L271.77,595.87L276.05,593.45L278.75,596.54Z" fill="#f7e0dd"/><path d="M267.53,596.13L264.87,594.27L269.08,593.48L271.77,595.87Z" fill="#f7e0dd"/><path d="M260.66,593.14L258.05,591.88L262.22,592.46L264.87,594.27Z" fill="#f6dbd8"/><path d="M253.82,590.31L251.27,589.56L255.44,590.59L258.05,591.88Z" fill="#f4d5d1"/><path d="M313.13,606.19L310.28,603.5L314.79,601.73L317.68,604.41Z" fill="#f8e2e0"/><path d="M305.77,605.42L302.97,602.36L307.47,600.27L310.28,603.5Z" fill="#f7e2df"/><path d="M298.49,604.53L295.73,601.26L300.22,598.68L302.97,602.36Z" fill="#f7e0dd"/><path d="M291.28,603.62L288.56,600.4L293.01,597.45L295.73,601.26Z" fill="#f7e0dd"/><path d="M284.16,602.53L281.46,599.6L285.84,596.83L288.56,600.4Z" fill="#f7e1de"/><path d="M277.14,600.81L274.45,598.34L278.75,596.54L281.46,599.6Z" fill="#f7e2df"/><path d="M270.18,598.05L267.53,596.13L271.77,595.87L274.45,598.34Z" fill="#f7dedb"/><path d="M263.27,594.42L260.66,593.14L264.87,594.27L267.53,596.13Z" fill="#f4d6d2"/><path d="M256.38,590.97L253.82,590.31L258.05,591.88L260.66,593.14Z" fill="#f2ccc7"/><path d="M249.55,589.04L247.06,588.74L251.27,589.56L253.82,590.31Z" fill="#f0c7c2"/><path d="M316.01,608.53L313.13,606.19L317.68,604.41L320.6,606.73Z" fill="#f8e3e1"/><path d="M308.59,608.03L305.77,605.42L310.28,603.5L313.13,606.19Z" fill="#f8e5e2"/><path d="M301.26,607.36L298.49,604.53L302.97,602.36L305.77,605.42Z" fill="#f8e5e3"/><path d="M294.02,606.51L291.28,603.62L295.73,601.26L298.49,604.53Z" fill="#f8e5e3"/><path d="M286.88,605.28L284.16,602.53L288.56,600.4L291.28,603.62Z" fill="#f8e5e3"/><path d="M279.82,603.26L277.14,600.81L281.46,599.6L284.16,602.53Z" fill="#f8e3e1"/><path d="M272.84,600.02L270.18,598.05L274.45,598.34L277.14,600.81Z" fill="#f6ddda"/><path d="M265.89,595.75L263.27,594.42L267.53,596.13L270.18,598.05Z" fill="#f3d1cd"/><path d="M258.95,591.63L256.38,590.97L260.66,593.14L263.27,594.42Z" fill="#efc3be"/><path d="M252.05,589.23L249.55,589.04L253.82,590.31L256.38,590.97Z" fill="#edbbb5"/><path d="M245.28,589.36L242.86,589.2L247.06,588.74L249.55,589.04Z" fill="#eebeb8"/><path d="M318.91,610.67L316.01,608.53L320.6,606.73L323.54,608.82Z" fill="#f8e3e0"/><path d="M311.43,610.36L308.59,608.03L313.13,606.19L316.01,608.53Z" fill="#f8e5e3"/><path d="M304.05,609.86L301.26,607.36L305.77,605.42L308.59,608.03Z" fill="#f9e7e5"/><path d="M296.77,609.11L294.02,606.51L298.49,604.53L301.26,607.36Z" fill="#f9e8e6"/><path d="M289.59,607.86L286.88,605.28L291.28,603.62L294.02,606.51Z" fill="#f9e8e6"/><path d="M282.51,605.66L279.82,603.26L284.16,602.53L286.88,605.28Z" fill="#f8e4e2"/><path d="M275.5,602.05L272.84,600.02L277.14,600.81L279.82,603.26Z" fill="#f6dbd8"/><path d="M268.52,597.2L265.89,595.75L270.18,598.05L272.84,600.02Z" fill="#f2ccc8"/><path d="M261.53,592.37L258.95,591.63L263.27,594.42L265.89,595.75Z" fill="#edbbb5"/><path d="M254.56,589.4L252.05,589.23L256.38,590.97L258.95,591.63Z" fill="#e9afa8"/><path d="M247.72,589.4L245.28,589.36L249.55,589.04L252.05,589.23Z" fill="#eab1aa"/><path d="M241.09,591.81L238.72,591.38L242.86,589.2L245.28,589.36Z" fill="#eebfb9"/><path d="M321.77,613.28L318.91,610.67L323.54,608.82L326.43,611.43Z" fill="#f8e3e1"/><path d="M314.29,612.52L311.43,610.36L316.01,608.53L318.91,610.67Z" fill="#f8e5e2"/><path d="M306.86,612.16L304.05,609.86L308.59,608.03L311.43,610.36Z" fill="#f9e8e5"/><path d="M299.53,611.51L296.77,609.11L301.26,607.36L304.05,609.86Z" fill="#f9e9e7"/><path d="M292.31,610.31L289.59,607.86L294.02,606.51L296.77,609.11Z" fill="#f9e9e7"/><path d="M285.2,608.03L282.51,605.66L286.88,605.28L289.59,607.86Z" fill="#f8e5e3"/><path d="M278.16,604.16L275.5,602.05L279.82,603.26L282.51,605.66Z" fill="#f5dad7"/><path d="M271.15,598.82L268.52,597.2L272.84,600.02L275.5,602.05Z" fill="#f1c8c3"/><path d="M264.11,593.29L261.53,592.37L265.89,595.75L268.52,597.2Z" fill="#eab3ad"/><path d="M257.09,589.68L254.56,589.4L258.95,591.63L261.53,592.37Z" fill="#e6a49c"/><path d="M250.17,589.43L247.72,589.4L252.05,589.23L254.56,589.4Z" fill="#e5a39b"/><path d="M243.47,592.13L241.09,591.81L245.28,589.36L247.72,589.4Z" fill="#eab2ab"/><path d="M237.06,596.83L234.71,595.67L238.72,591.38L241.09,591.81Z" fill="#f2ccc7"/><path d="M324.52,617.16L321.77,613.28L326.43,611.43L329.2,615.39Z" fill="#f9e8e6"/><path d="M317.11,615.12L314.29,612.52L318.91,610.67L321.77,613.28Z" fill="#f8e5e3"/><path d="M309.67,614.33L306.86,612.16L311.43,610.36L314.29,612.52Z" fill="#f9e7e5"/><path d="M302.3,613.79L299.53,611.51L304.05,609.86L306.86,612.16Z" fill="#f9e9e7"/><path d="M295.04,612.66L292.31,610.31L296.77,609.11L299.53,611.51Z" fill="#f9e9e7"/><path d="M287.89,610.39L285.2,608.03L289.59,607.86L292.31,610.31Z" fill="#f8e5e2"/><path d="M280.82,606.38L278.16,604.16L282.51,605.66L285.2,608.03Z" fill="#f5d9d6"/><path d="M273.78,600.64L271.15,598.82L275.5,602.05L278.16,604.16Z" fill="#f0c5c0"/><path d="M266.71,594.48L264.11,593.29L268.52,597.2L271.15,598.82Z" fill="#e8ada5"/><path d="M259.63,590.18L257.09,589.68L261.53,592.37L264.11,593.29Z" fill="#e39991"/><path d="M252.64,589.56L250.17,589.43L254.56,589.4L257.09,589.68Z" fill="#e1968d"/><path d="M245.87,592.42L243.47,592.13L247.72,589.4L250.17,589.43Z" fill="#e6a49c"/><path d="M239.4,597.92L237.06,596.83L241.09,591.81L243.47,592.13Z" fill="#efc1bc"/><path d="M233.15,602.81L230.82,600.73L234.71,595.67L237.06,596.83Z" fill="#f8e2df"/><path d="M327.13,622.63L324.52,617.16L329.2,615.39L331.8,621.05Z" fill="#fdf6f5"/><path d="M319.84,618.93L317.11,615.12L321.77,613.28L324.52,617.16Z" fill="#faeae8"/><path d="M312.46,616.94L309.67,614.33L314.29,612.52L317.11,615.12Z" fill="#f9e7e5"/><path d="M305.07,615.99L302.3,613.79L306.86,612.16L309.67,614.33Z" fill="#f9e8e6"/><path d="M297.77,614.95L295.04,612.66L299.53,611.51L302.3,613.79Z" fill="#f9e9e7"/><path d="M290.57,612.75L287.89,610.39L292.31,610.31L295.04,612.66Z" fill="#f8e5e2"/><path d="M283.47,608.72L280.82,606.38L285.2,608.03L287.89,610.39Z" fill="#f5d8d5"/><path d="M276.41,602.73L273.78,600.64L278.16,604.16L280.82,606.38Z" fill="#efc3bd"/><path d="M269.31,596.02L266.71,594.48L271.15,598.82L273.78,600.64Z" fill="#e7a7a0"/><path d="M262.18,591.05L259.63,590.18L264.11,593.29L266.71,594.48Z" fill="#e09087"/><path d="M255.12,589.95L252.64,589.56L257.09,589.68L259.63,590.18Z" fill="#de8a80"/><path d="M248.28,592.82L245.87,592.42L250.17,589.43L252.64,589.56Z" fill="#e2978e"/><path d="M241.76,599L239.4,597.92L243.47,592.13L245.87,592.42Z" fill="#ebb7b0"/><path d="M235.48,604.86L233.15,602.81L237.06,596.83L239.4,597.92Z" fill="#f6dcd9"/><path d="M229.22,607.18L226.9,604.5L230.82,600.73L233.15,602.81Z" fill="#fdf7f6"/><path d="M322.45,624.21L319.84,618.93L324.52,617.16L327.13,622.63Z" fill="#fdf7f6"/><path d="M315.17,620.68L312.46,616.94L317.11,615.12L319.84,618.93Z" fill="#faebea"/><path d="M307.82,618.63L305.07,615.99L309.67,614.33L312.46,616.94Z" fill="#f9e8e6"/><path d="M300.5,617.22L297.77,614.95L302.3,613.79L305.07,615.99Z" fill="#f9e8e6"/><path d="M293.26,615.15L290.57,612.75L295.04,612.66L297.77,614.95Z" fill="#f8e4e2"/><path d="M286.13,611.18L283.47,608.72L287.89,610.39L290.57,612.75Z" fill="#f5d8d4"/><path d="M279.04,605.09L276.41,602.73L280.82,606.38L283.47,608.72Z" fill="#efc2bc"/><path d="M271.92,597.98L269.31,596.02L273.78,600.64L276.41,602.73Z" fill="#e6a49c"/><path d="M264.75,592.38L262.18,591.05L266.71,594.48L269.31,596.02Z" fill="#de8a80"/><path d="M257.63,590.72L255.12,589.95L259.63,590.18L262.18,591.05Z" fill="#da8076"/><path d="M250.71,593.45L248.28,592.82L252.64,589.56L255.12,589.95Z" fill="#de8b82"/><path d="M244.13,600.14L241.76,599L245.87,592.42L248.28,592.82Z" fill="#e8aca5"/><path d="M237.82,606.9L235.48,604.86L239.4,597.92L241.76,599Z" fill="#f4d6d2"/><path d="M231.54,609.87L229.22,607.18L233.15,602.81L235.48,604.86Z" fill="#fcf5f4"/><path d="M317.78,625.79L315.17,620.68L319.84,618.93L322.45,624.21Z" fill="#fdf7f6"/><path d="M310.51,622.36L307.82,618.63L312.46,616.94L315.17,620.68Z" fill="#faeceb"/><path d="M303.2,619.99L300.5,617.22L305.07,615.99L307.82,618.63Z" fill="#f9e8e6"/><path d="M295.95,617.57L293.26,615.15L297.77,614.95L300.5,617.22Z" fill="#f8e3e1"/><path d="M288.78,613.78L286.13,611.18L290.57,612.75L293.26,615.15Z" fill="#f5d8d4"/><path d="M281.66,607.73L279.04,605.09L283.47,608.72L286.13,611.18Z" fill="#efc1bc"/><path d="M274.52,600.39L271.92,597.98L276.41,602.73L279.04,605.09Z" fill="#e5a39b"/><path d="M267.32,594.26L264.75,592.38L269.31,596.02L271.92,597.98Z" fill="#dc867c"/><path d="M260.15,592.01L257.63,590.72L262.18,591.05L264.75,592.38Z" fill="#d8786e"/><path d="M253.16,594.43L250.71,593.45L255.12,589.95L257.63,590.72Z" fill="#db8278"/><path d="M246.51,601.44L244.13,600.14L248.28,592.82L250.71,593.45Z" fill="#e5a39b"/><path d="M240.16,608.97L237.82,606.9L241.76,599L244.13,600.14Z" fill="#f3d0cc"/><path d="M233.86,612.55L231.54,609.87L235.48,604.86L237.82,606.9Z" fill="#fcf3f2"/><path d="M313.11,627.37L310.51,622.36L315.17,620.68L317.78,625.79Z" fill="#fdf8f7"/><path d="M305.85,623.86L303.2,619.99L307.82,618.63L310.51,622.36Z" fill="#faedeb"/><path d="M298.61,620.64L295.95,617.57L300.5,617.22L303.2,619.99Z" fill="#f8e5e2"/><path d="M291.42,616.48L288.78,613.78L293.26,615.15L295.95,617.57Z" fill="#f5d8d5"/><path d="M284.28,610.63L281.66,607.73L286.13,611.18L288.78,613.78Z" fill="#efc3bd"/><path d="M277.12,603.25L274.52,600.39L279.04,605.09L281.66,607.73Z" fill="#e6a39b"/><path d="M269.9,596.72L267.32,594.26L271.92,597.98L274.52,600.39Z" fill="#dc847b"/><path d="M262.68,593.89L260.15,592.01L264.75,592.38L267.32,594.26Z" fill="#d6736a"/><path d="M255.63,595.87L253.16,594.43L257.63,590.72L260.15,592.01Z" fill="#d97a70"/><path d="M248.91,602.98L246.51,601.44L250.71,593.45L253.16,594.43Z" fill="#e39b92"/><path d="M242.51,611.1L240.16,608.97L244.13,600.14L246.51,601.44Z" fill="#f1cbc6"/><path d="M236.18,615.23L233.86,612.55L237.82,606.9L240.16,608.97Z" fill="#fcf2f0"/><path d="M308.43,628.95L305.85,623.86L310.51,622.36L313.11,627.37Z" fill="#fdf8f7"/><path d="M301.22,624.97L298.61,620.64L303.2,619.99L305.85,623.86Z" fill="#faeae9"/><path d="M294.04,620.14L291.42,616.48L295.95,617.57L298.61,620.64Z" fill="#f6dbd8"/><path d="M286.89,613.75L284.28,610.63L288.78,613.78L291.42,616.48Z" fill="#f0c5bf"/><path d="M279.72,606.52L277.12,603.25L281.66,607.73L284.28,610.63Z" fill="#e6a69e"/><path d="M272.48,599.77L269.9,596.72L274.52,600.39L277.12,603.25Z" fill="#dc857c"/><path d="M265.23,596.41L262.68,593.89L267.32,594.26L269.9,596.72Z" fill="#d67268"/><path d="M258.12,597.85L255.63,595.87L260.15,592.01L262.68,593.89Z" fill="#d7766c"/><path d="M251.32,604.83L248.91,602.98L253.16,594.43L255.63,595.87Z" fill="#e1958c"/><path d="M244.87,613.33L242.51,611.1L246.51,601.44L248.91,602.98Z" fill="#f0c6c1"/><path d="M238.5,617.92L236.18,615.23L240.16,608.97L242.51,611.1Z" fill="#fbf0ef"/><path d="M303.76,630.53L301.22,624.97L305.85,623.86L308.43,628.95Z" fill="#fdf7f6"/><path d="M296.59,625.45L294.04,620.14L298.61,620.64L301.22,624.97Z" fill="#f8e4e2"/><path d="M289.47,618.33L286.89,613.75L291.42,616.48L294.04,620.14Z" fill="#f1cac5"/><path d="M282.3,610.13L279.72,606.52L284.28,610.63L286.89,613.75Z" fill="#e8aaa2"/><path d="M275.05,603.36L272.48,599.77L277.12,603.25L279.72,606.52Z" fill="#de8980"/><path d="M267.78,599.56L265.23,596.41L269.9,596.72L272.48,599.77Z" fill="#d7746a"/><path d="M260.62,600.42L258.12,597.85L262.68,593.89L265.23,596.41Z" fill="#d7746a"/><path d="M253.75,607.05L251.32,604.83L255.63,595.87L258.12,597.85Z" fill="#e09188"/><path d="M247.23,615.68L244.87,613.33L248.91,602.98L251.32,604.83Z" fill="#efc3bd"/><path d="M240.82,620.6L238.5,617.92L242.51,611.1L244.87,613.33Z" fill="#fbefed"/><path d="M299.09,632.11L296.59,625.45L301.22,624.97L303.76,630.53Z" fill="#fcf5f4"/><path d="M291.97,625.21L289.47,618.33L294.04,620.14L296.59,625.45Z" fill="#f5d9d5"/><path d="M284.85,615.81L282.3,610.13L286.89,613.75L289.47,618.33Z" fill="#ebb4ad"/><path d="M277.62,607.4L275.05,603.36L279.72,606.52L282.3,610.13Z" fill="#e08f86"/><path d="M270.34,603.3L267.78,599.56L272.48,599.77L275.05,603.36Z" fill="#d8796f"/><path d="M263.13,603.56L260.62,600.42L265.23,596.41L267.78,599.56Z" fill="#d7766c"/><path d="M256.2,609.66L253.75,607.05L258.12,597.85L260.62,600.42Z" fill="#e09087"/><path d="M249.61,618.18L247.23,615.68L251.32,604.83L253.75,607.05Z" fill="#efc1bb"/><path d="M243.14,623.28L240.82,620.6L244.87,613.33L247.23,615.68Z" fill="#fbeeec"/><path d="M294.41,633.69L291.97,625.21L296.59,625.45L299.09,632.11Z" fill="#fbf1f0"/><path d="M287.33,624.58L284.85,615.81L289.47,618.33L291.97,625.21Z" fill="#f1c9c4"/><path d="M280.16,614L277.62,607.4L282.3,610.13L284.85,615.81Z" fill="#e49d95"/><path d="M272.88,607.53L270.34,603.3L275.05,603.36L277.62,607.4Z" fill="#db8077"/><path d="M265.65,607.24L263.13,603.56L267.78,599.56L270.34,603.3Z" fill="#d97b71"/><path d="M258.65,612.66L256.2,609.66L260.62,600.42L263.13,603.56Z" fill="#e09289"/><path d="M251.98,620.84L249.61,618.18L253.75,607.05L256.2,609.66Z" fill="#eec0bb"/><path d="M245.46,625.97L243.14,623.28L247.23,615.68L249.61,618.18Z" fill="#faedec"/><path d="M289.74,635.27L287.33,624.58L291.97,625.21L294.41,633.69Z" fill="#faecea"/><path d="M282.65,624.34L280.16,614L284.85,615.81L287.33,624.58Z" fill="#ecbab4"/><path d="M275.42,614.48L272.88,607.53L277.62,607.4L280.16,614Z" fill="#e09087"/><path d="M268.16,611.37L265.65,607.24L270.34,603.3L272.88,607.53Z" fill="#db8379"/><path d="M261.11,616.03L258.65,612.66L263.13,603.56L265.65,607.24Z" fill="#e2968d"/><path d="M254.37,623.65L251.98,620.84L256.2,609.66L258.65,612.66Z" fill="#efc1bc"/><path d="M247.78,628.65L245.46,625.97L249.61,618.18L251.98,620.84Z" fill="#faedec"/><path d="M285.07,636.85L282.65,624.34L287.33,624.58L289.74,635.27Z" fill="#f9e6e4"/><path d="M277.93,625.36L275.42,614.48L280.16,614L282.65,624.34Z" fill="#eab1aa"/><path d="M270.69,617.94L268.16,611.37L272.88,607.53L275.42,614.48Z" fill="#e09289"/><path d="M263.57,619.69L261.11,616.03L265.65,607.24L268.16,611.37Z" fill="#e39c94"/><path d="M256.75,626.6L254.37,623.65L258.65,612.66L261.11,616.03Z" fill="#efc4be"/><path d="M250.1,631.33L247.78,628.65L251.98,620.84L254.37,623.65Z" fill="#faedec"/><path d="M280.39,638.43L277.93,625.36L282.65,624.34L285.07,636.85Z" fill="#f8e3e0"/><path d="M273.22,628.01L270.69,617.94L275.42,614.48L277.93,625.36Z" fill="#eab3ac"/><path d="M266.06,625L263.57,619.69L268.16,611.37L270.69,617.94Z" fill="#e7a9a1"/><path d="M259.14,629.67L256.75,626.6L261.11,616.03L263.57,619.69Z" fill="#f0c7c2"/><path d="M252.42,634.02L250.1,631.33L254.37,623.65L256.75,626.6Z" fill="#fbeeed"/><path d="M275.72,640.01L273.22,628.01L277.93,625.36L280.39,638.43Z" fill="#f8e4e1"/><path d="M268.56,632.66L266.06,625L270.69,617.94L273.22,628.01Z" fill="#efc3be"/><path d="M261.54,633.4L259.14,629.67L263.57,619.69L266.06,625Z" fill="#f2cfca"/><path d="M254.74,636.7L252.42,634.02L256.75,626.6L259.14,629.67Z" fill="#fbefee"/><path d="M271.05,641.59L268.56,632.66L273.22,628.01L275.72,640.01Z" fill="#f9eae8"/><path d="M263.96,638.04L261.54,633.4L266.06,625L268.56,632.66Z" fill="#f6ddda"/><path d="M257.06,639.38L254.74,636.7L259.14,629.67L261.54,633.4Z" fill="#fbf1f0"/><path d="M266.37,643.17L263.96,638.04L268.56,632.66L271.05,641.59Z" fill="#fcf3f2"/><path d="M259.38,642.07L257.06,639.38L261.54,633.4L263.96,638.04Z" fill="#fdf6f5"/><path d="M261.7,644.75L259.38,642.07L263.96,638.04L266.37,643.17Z" fill="#fefcfb"/></g>
<line x1="224.6" y1="573.5" x2="290.3" y2="556" stroke="#1a1a1a" stroke-width="0.75"/>
<line x1="290.3" y1="556" x2="334.8" y2="589" stroke="#1a1a1a" stroke-width="0.75"/>
<line x1="224.6" y1="573.5" x2="260.8" y2="611.5" stroke="#1a1a1a" stroke-width="0.75"/>
<line x1="260.8" y1="611.5" x2="334.8" y2="589" stroke="#1a1a1a" stroke-width="0.75"/>
<line x1="260.8" y1="611.5" x2="262.6" y2="678" stroke="#1a1a1a" stroke-width="0.75"/>
<line x1="224.6" y1="573.5" x2="229.2" y2="635.5" stroke="#1a1a1a" stroke-width="0.75"/>
<line x1="334.8" y1="589" x2="328.8" y2="653.1" stroke="#1a1a1a" stroke-width="0.75"/>
<line x1="229.2" y1="635.5" x2="262.6" y2="678" stroke="#1a1a1a" stroke-width="0.75"/>
<line x1="262.6" y1="678" x2="328.8" y2="653.1" stroke="#1a1a1a" stroke-width="0.75"/>
<line x1="222.4" y1="573.5" x2="224.6" y2="573.5" stroke="#222" stroke-width="0.6"/>
<text x="220" y="575.4" font-size="5.38" fill="#333" text-anchor="end" textLength="4.78" lengthAdjust="spacingAndGlyphs">10</text>
<line x1="223.55" y1="589" x2="225.75" y2="589" stroke="#222" stroke-width="0.6"/>
<text x="221.15" y="590.9" font-size="5.38" fill="#333" text-anchor="end" textLength="2.39" lengthAdjust="spacingAndGlyphs">5</text>
<line x1="224.7" y1="604.5" x2="226.9" y2="604.5" stroke="#222" stroke-width="0.6"/>
<text x="222.3" y="606.4" font-size="5.38" fill="#333" text-anchor="end" textLength="2.39" lengthAdjust="spacingAndGlyphs">0</text>
<line x1="225.85" y1="620" x2="228.05" y2="620" stroke="#222" stroke-width="0.6"/>
<text x="223.45" y="621.9" font-size="5.38" fill="#333" text-anchor="end" textLength="3.82" lengthAdjust="spacingAndGlyphs">-5</text>
<line x1="227" y1="635.5" x2="229.2" y2="635.5" stroke="#222" stroke-width="0.6"/>
<text x="224.6" y="637.4" font-size="5.38" fill="#333" text-anchor="end" textLength="6.22" lengthAdjust="spacingAndGlyphs">-10</text>
<line x1="229.2" y1="635.5" x2="227.4" y2="636.7" stroke="#222" stroke-width="0.6"/>
<text x="225.6" y="641.9" font-size="5.38" fill="#333" text-anchor="end" textLength="9.57" lengthAdjust="spacingAndGlyphs">4000</text>
<line x1="237.55" y1="646.12" x2="235.75" y2="647.33" stroke="#222" stroke-width="0.6"/>
<text x="233.95" y="652.52" font-size="5.38" fill="#333" text-anchor="end" textLength="9.57" lengthAdjust="spacingAndGlyphs">2000</text>
<line x1="245.9" y1="656.75" x2="244.1" y2="657.95" stroke="#222" stroke-width="0.6"/>
<text x="242.3" y="663.15" font-size="5.38" fill="#333" text-anchor="end" textLength="9.57" lengthAdjust="spacingAndGlyphs">1000</text>
<line x1="254.25" y1="667.38" x2="252.45" y2="668.58" stroke="#222" stroke-width="0.6"/>
<text x="250.65" y="673.77" font-size="5.38" fill="#333" text-anchor="end" textLength="7.17" lengthAdjust="spacingAndGlyphs">500</text>
<line x1="262.6" y1="678" x2="260.8" y2="679.2" stroke="#222" stroke-width="0.6"/>
<text x="259" y="684.4" font-size="5.38" fill="#333" text-anchor="end" textLength="2.39" lengthAdjust="spacingAndGlyphs">0</text>
<line x1="262.6" y1="678" x2="263.2" y2="680" stroke="#222" stroke-width="0.6"/>
<text x="264.4" y="688.2" font-size="5.38" fill="#333" text-anchor="middle" textLength="2.39" lengthAdjust="spacingAndGlyphs">0</text>
<line x1="279.15" y1="671.77" x2="279.75" y2="673.77" stroke="#222" stroke-width="0.6"/>
<text x="280.95" y="681.98" font-size="5.38" fill="#333" text-anchor="middle" textLength="8.37" lengthAdjust="spacingAndGlyphs">1.25</text>
<line x1="295.7" y1="665.55" x2="296.3" y2="667.55" stroke="#222" stroke-width="0.6"/>
<text x="297.5" y="675.75" font-size="5.38" fill="#333" text-anchor="middle" textLength="5.98" lengthAdjust="spacingAndGlyphs">2.5</text>
<line x1="312.25" y1="659.33" x2="312.85" y2="661.33" stroke="#222" stroke-width="0.6"/>
<text x="314.05" y="669.53" font-size="5.38" fill="#333" text-anchor="middle" textLength="2.39" lengthAdjust="spacingAndGlyphs">5</text>
<line x1="328.8" y1="653.1" x2="329.4" y2="655.1" stroke="#222" stroke-width="0.6"/>
<text x="330.6" y="663.3" font-size="5.38" fill="#333" text-anchor="middle" textLength="4.78" lengthAdjust="spacingAndGlyphs">10</text>
<text x="210.1" y="604.3" font-size="8.25" fill="#222" text-anchor="middle" transform="rotate(-90 210.1 604.3)" textLength="44.5" lengthAdjust="spacingAndGlyphs">Synergy score</text>
<text x="221.5" y="664.6" font-size="8.25" fill="#222" text-anchor="middle" transform="rotate(49 221.5 664.6)" textLength="29" lengthAdjust="spacingAndGlyphs">AraC(nM)</text>
<text x="308.7" y="682.6" font-size="8.25" fill="#222" text-anchor="middle" transform="rotate(-21.7 308.7 682.6)" textLength="46" lengthAdjust="spacingAndGlyphs">Trametinib(nM)</text>
<line x1="379.7" y1="635.5" x2="436.5" y2="616" stroke="#333" stroke-width="0.6" stroke-dasharray="1.2,1.2"/>
<line x1="436.5" y1="616" x2="479.3" y2="653.1" stroke="#333" stroke-width="0.6" stroke-dasharray="1.2,1.2"/>
<line x1="436.5" y1="616" x2="440.8" y2="556" stroke="#333" stroke-width="0.6" stroke-dasharray="1.2,1.2"/>
<g stroke="#3a2626" stroke-width="0.42" stroke-linejoin="round"><path d="M438.21,577.34L435.32,575.04L439.4,575.49L442.33,577.77Z" fill="#edbbb5"/><path d="M441.09,579.86L438.21,577.34L442.33,577.77L445.25,580.25Z" fill="#edbcb6"/><path d="M434.03,577.41L431.17,575.1L435.32,575.04L438.21,577.34Z" fill="#eab3ac"/><path d="M443.96,582.62L441.09,579.86L445.25,580.25L448.15,582.9Z" fill="#eebeb8"/><path d="M436.88,579.98L434.03,577.41L438.21,577.34L441.09,579.86Z" fill="#ebb4ad"/><path d="M429.8,578.28L426.97,575.95L431.17,575.1L434.03,577.41Z" fill="#e9afa8"/><path d="M446.81,585.58L443.96,582.62L448.15,582.9L451.04,585.72Z" fill="#eec0bb"/><path d="M439.71,582.81L436.88,579.98L441.09,579.86L443.96,582.62Z" fill="#ebb6af"/><path d="M432.6,580.89L429.8,578.28L434.03,577.41L436.88,579.98Z" fill="#e9afa8"/><path d="M425.52,580.08L422.74,577.72L426.97,575.95L429.8,578.28Z" fill="#e9afa8"/><path d="M449.64,588.71L446.81,585.58L451.04,585.72L453.91,588.68Z" fill="#f0c4bf"/><path d="M442.52,585.88L439.71,582.81L443.96,582.62L446.81,585.58Z" fill="#ecb9b3"/><path d="M435.4,583.76L432.6,580.89L436.88,579.98L439.71,582.81Z" fill="#eab2ab"/><path d="M428.29,582.7L425.52,580.08L429.8,578.28L432.6,580.89Z" fill="#e9b0a9"/><path d="M421.23,582.68L418.49,580.29L422.74,577.72L425.52,580.08Z" fill="#ebb5ae"/><path d="M452.46,591.96L449.64,588.71L453.91,588.68L456.78,591.75Z" fill="#f1c9c4"/><path d="M445.32,589.13L442.52,585.88L446.81,585.58L449.64,588.71Z" fill="#eebeb8"/><path d="M438.18,586.87L435.4,583.76L439.71,582.81L442.52,585.88Z" fill="#ebb5af"/><path d="M431.05,585.57L428.29,582.7L432.6,580.89L435.4,583.76Z" fill="#eab2ab"/><path d="M423.97,585.29L421.23,582.68L425.52,580.08L428.29,582.7Z" fill="#ebb5af"/><path d="M416.97,585.76L414.27,583.34L418.49,580.29L421.23,582.68Z" fill="#eebeb8"/><path d="M455.28,595.29L452.46,591.96L456.78,591.75L459.64,594.88Z" fill="#f2ceca"/><path d="M448.11,592.52L445.32,589.13L449.64,588.71L452.46,591.96Z" fill="#efc3bd"/><path d="M440.95,590.18L438.18,586.87L442.52,585.88L445.32,589.13Z" fill="#ecbab4"/><path d="M433.8,588.67L431.05,585.57L435.4,583.76L438.18,586.87Z" fill="#ebb6af"/><path d="M426.7,588.13L423.97,585.29L428.29,582.7L431.05,585.57Z" fill="#ecb8b1"/><path d="M419.66,588.37L416.97,585.76L421.23,582.68L423.97,585.29Z" fill="#eebfb9"/><path d="M412.74,588.97L410.09,586.51L414.27,583.34L416.97,585.76Z" fill="#f1c9c4"/><path d="M458.09,598.67L455.28,595.29L459.64,594.88L462.49,598.05Z" fill="#f4d3cf"/><path d="M450.89,596L448.11,592.52L452.46,591.96L455.28,595.29Z" fill="#f1c9c4"/><path d="M443.71,593.63L440.95,590.18L445.32,589.13L448.11,592.52Z" fill="#eec0ba"/><path d="M436.55,591.96L433.8,588.67L438.18,586.87L440.95,590.18Z" fill="#edbbb5"/><path d="M429.42,591.16L426.7,588.13L431.05,585.57L433.8,588.67Z" fill="#edbbb5"/><path d="M422.36,591.15L419.66,588.37L423.97,585.29L426.7,588.13Z" fill="#eec0bb"/><path d="M415.39,591.56L412.74,588.97L416.97,585.76L419.66,588.37Z" fill="#f1cac5"/><path d="M408.55,592L405.94,589.5L410.09,586.51L412.74,588.97Z" fill="#f4d4d0"/><path d="M460.89,602.05L458.09,598.67L462.49,598.05L465.33,601.24Z" fill="#f5d9d6"/><path d="M453.66,599.52L450.89,596L455.28,595.29L458.09,598.67Z" fill="#f3cfcb"/><path d="M446.46,597.17L443.71,593.63L448.11,592.52L450.89,596Z" fill="#f0c6c1"/><path d="M439.28,595.37L436.55,591.96L440.95,590.18L443.71,593.63Z" fill="#eec0bb"/><path d="M432.13,594.35L429.42,591.16L433.8,588.67L436.55,591.96Z" fill="#eebfb9"/><path d="M425.04,594.08L422.36,591.15L426.7,588.13L429.42,591.16Z" fill="#efc3be"/><path d="M418.05,594.28L415.39,591.56L419.66,588.37L422.36,591.15Z" fill="#f2cbc6"/><path d="M411.16,594.58L408.55,592L412.74,588.97L415.39,591.56Z" fill="#f4d5d1"/><path d="M404.38,594.68L401.82,592.15L405.94,589.5L408.55,592Z" fill="#f6dedb"/><path d="M463.69,605.42L460.89,602.05L465.33,601.24L468.18,604.42Z" fill="#f7dfdc"/><path d="M456.43,603.04L453.66,599.52L458.09,598.67L460.89,602.05Z" fill="#f4d6d2"/><path d="M449.2,600.75L446.46,597.17L450.89,596L453.66,599.52Z" fill="#f2cdc8"/><path d="M442,598.86L439.28,595.37L443.71,593.63L446.46,597.17Z" fill="#f0c7c1"/><path d="M434.83,597.64L432.13,594.35L436.55,591.96L439.28,595.37Z" fill="#f0c4bf"/><path d="M427.72,597.12L425.04,594.08L429.42,591.16L432.13,594.35Z" fill="#f0c7c2"/><path d="M420.69,597.1L418.05,594.28L422.36,591.15L425.04,594.08Z" fill="#f2cdc9"/><path d="M413.77,597.24L411.16,594.58L415.39,591.56L418.05,594.28Z" fill="#f4d6d2"/><path d="M406.95,597.26L404.38,594.68L408.55,592L411.16,594.58Z" fill="#f6dedb"/><path d="M400.24,597L397.71,594.44L401.82,592.15L404.38,594.68Z" fill="#f8e5e3"/><path d="M466.49,608.77L463.69,605.42L468.18,604.42L471.02,607.61Z" fill="#f8e4e2"/><path d="M459.19,606.54L456.43,603.04L460.89,602.05L463.69,605.42Z" fill="#f6dcd9"/><path d="M451.94,604.32L449.2,600.75L453.66,599.52L456.43,603.04Z" fill="#f4d4d0"/><path d="M444.72,602.37L442,598.86L446.46,597.17L449.2,600.75Z" fill="#f2cdc9"/><path d="M437.53,600.97L434.83,597.64L439.28,595.37L442,598.86Z" fill="#f1cac5"/><path d="M430.4,600.22L427.72,597.12L432.13,594.35L434.83,597.64Z" fill="#f2cbc6"/><path d="M423.34,599.99L420.69,597.1L425.04,594.08L427.72,597.12Z" fill="#f3d0cc"/><path d="M416.38,599.97L413.77,597.24L418.05,594.28L420.69,597.1Z" fill="#f5d7d3"/><path d="M409.52,599.89L406.95,597.26L411.16,594.58L413.77,597.24Z" fill="#f7dfdc"/><path d="M402.77,599.59L400.24,597L404.38,594.68L406.95,597.26Z" fill="#f8e5e3"/><path d="M396.11,599.05L393.62,596.47L397.71,594.44L400.24,597Z" fill="#faebe9"/><path d="M469.29,612.12L466.49,608.77L471.02,607.61L473.86,610.82Z" fill="#f9e9e7"/><path d="M461.96,610.02L459.19,606.54L463.69,605.42L466.49,608.77Z" fill="#f8e2df"/><path d="M454.67,607.87L451.94,604.32L456.43,603.04L459.19,606.54Z" fill="#f6dad7"/><path d="M447.43,605.89L444.72,602.37L449.2,600.75L451.94,604.32Z" fill="#f4d4d0"/><path d="M440.23,604.31L437.53,600.97L442,598.86L444.72,602.37Z" fill="#f3d0cb"/><path d="M433.07,603.32L430.4,600.22L434.83,597.64L437.53,600.97Z" fill="#f3cfcb"/><path d="M425.99,602.88L423.34,599.99L427.72,597.12L430.4,600.22Z" fill="#f4d3cf"/><path d="M418.99,602.72L416.38,599.97L420.69,597.1L423.34,599.99Z" fill="#f5d9d5"/><path d="M412.09,602.55L409.52,599.89L413.77,597.24L416.38,599.97Z" fill="#f7dfdd"/><path d="M405.3,602.2L402.77,599.59L406.95,597.26L409.52,599.89Z" fill="#f8e6e3"/><path d="M398.59,601.65L396.11,599.05L400.24,597L402.77,599.59Z" fill="#faebe9"/><path d="M391.98,600.96L389.54,598.35L393.62,596.47L396.11,599.05Z" fill="#fbefed"/><path d="M472.08,615.5L469.29,612.12L473.86,610.82L476.69,614.09Z" fill="#fbefed"/><path d="M464.72,613.48L461.96,610.02L466.49,608.77L469.29,612.12Z" fill="#f9e8e6"/><path d="M457.41,611.41L454.67,607.87L459.19,606.54L461.96,610.02Z" fill="#f7e1de"/><path d="M450.14,609.4L447.43,605.89L451.94,604.32L454.67,607.87Z" fill="#f6dad7"/><path d="M442.92,607.65L440.23,604.31L444.72,602.37L447.43,605.89Z" fill="#f4d6d2"/><path d="M435.75,606.37L433.07,603.32L437.53,600.97L440.23,604.31Z" fill="#f4d4d0"/><path d="M428.63,605.69L425.99,602.88L430.4,600.22L433.07,603.32Z" fill="#f4d6d2"/><path d="M421.6,605.41L418.99,602.72L423.34,599.99L425.99,602.88Z" fill="#f6dbd7"/><path d="M414.66,605.2L412.09,602.55L416.38,599.97L418.99,602.72Z" fill="#f7e1de"/><path d="M407.82,604.82L405.3,602.2L409.52,599.89L412.09,602.55Z" fill="#f9e6e4"/><path d="M401.08,604.26L398.59,601.65L402.77,599.59L405.3,602.2Z" fill="#faebe9"/><path d="M394.43,603.58L391.98,600.96L396.11,599.05L398.59,601.65Z" fill="#fbefed"/><path d="M387.87,602.88L385.47,600.24L389.54,598.35L391.98,600.96Z" fill="#fcf3f2"/><path d="M474.86,618.98L472.08,615.5L476.69,614.09L479.5,617.47Z" fill="#fcf5f4"/><path d="M467.47,616.95L464.72,613.48L469.29,612.12L472.08,615.5Z" fill="#fbeeed"/><path d="M460.14,614.92L457.41,611.41L461.96,610.02L464.72,613.48Z" fill="#f9e7e5"/><path d="M452.85,612.92L450.14,609.4L454.67,607.87L457.41,611.41Z" fill="#f7e1de"/><path d="M445.61,611.03L442.92,607.65L447.43,605.89L450.14,609.4Z" fill="#f6dbd8"/><path d="M438.42,609.43L435.75,606.37L440.23,604.31L442.92,607.65Z" fill="#f5d8d5"/><path d="M431.27,608.41L428.63,605.69L433.07,603.32L435.75,606.37Z" fill="#f5d9d5"/><path d="M424.21,607.96L421.6,605.41L425.99,602.88L428.63,605.69Z" fill="#f6dcd9"/><path d="M417.23,607.75L414.66,605.2L418.99,602.72L421.6,605.41Z" fill="#f7e1df"/><path d="M410.35,607.42L407.82,604.82L412.09,602.55L414.66,605.2Z" fill="#f9e7e4"/><path d="M403.57,606.88L401.08,604.26L405.3,602.2L407.82,604.82Z" fill="#faebe9"/><path d="M396.87,606.21L394.43,603.58L398.59,601.65L401.08,604.26Z" fill="#fbefee"/><path d="M390.28,605.52L387.87,602.88L391.98,600.96L394.43,603.58Z" fill="#fcf3f2"/><path d="M383.78,604.91L381.42,602.25L385.47,600.24L387.87,602.88Z" fill="#fdf7f6"/><path d="M477.63,622.63L474.86,618.98L479.5,617.47L482.3,621.05Z" fill="#fefbfb"/><path d="M470.22,620.5L467.47,616.95L472.08,615.5L474.86,618.98Z" fill="#fcf4f3"/><path d="M462.86,618.45L460.14,614.92L464.72,613.48L467.47,616.95Z" fill="#fbeeec"/><path d="M455.55,616.45L452.85,612.92L457.41,611.41L460.14,614.92Z" fill="#f9e7e5"/><path d="M448.29,614.48L445.61,611.03L450.14,609.4L452.85,612.92Z" fill="#f7e1df"/><path d="M441.08,612.61L438.42,609.43L442.92,607.65L445.61,611.03Z" fill="#f6ddda"/><path d="M433.92,611.13L431.27,608.41L435.75,606.37L438.42,609.43Z" fill="#f6dbd8"/><path d="M426.82,610.35L424.21,607.96L428.63,605.69L431.27,608.41Z" fill="#f6ddda"/><path d="M419.8,610.12L417.23,607.75L421.6,605.41L424.21,607.96Z" fill="#f7e2df"/><path d="M412.88,609.92L410.35,607.42L414.66,605.2L417.23,607.75Z" fill="#f9e7e5"/><path d="M406.05,609.47L403.57,606.88L407.82,604.82L410.35,607.42Z" fill="#faebea"/><path d="M399.32,608.83L396.87,606.21L401.08,604.26L403.57,606.88Z" fill="#fbefee"/><path d="M392.68,608.16L390.28,605.52L394.43,603.58L396.87,606.21Z" fill="#fcf3f2"/><path d="M386.14,607.57L383.78,604.91L387.87,602.88L390.28,605.52Z" fill="#fdf7f6"/><path d="M379.72,607.18L377.4,604.5L381.42,602.25L383.78,604.91Z" fill="#fefcfc"/><path d="M472.95,624.21L470.22,620.5L474.86,618.98L477.63,622.63Z" fill="#fefbfb"/><path d="M465.58,622.05L462.86,618.45L467.47,616.95L470.22,620.5Z" fill="#fcf4f3"/><path d="M458.24,620.01L455.55,616.45L460.14,614.92L462.86,618.45Z" fill="#fbeeec"/><path d="M450.96,618.01L448.29,614.48L452.85,612.92L455.55,616.45Z" fill="#f9e8e5"/><path d="M443.73,615.98L441.08,612.61L445.61,611.03L448.29,614.48Z" fill="#f7e2df"/><path d="M436.55,614.06L433.92,611.13L438.42,609.43L441.08,612.61Z" fill="#f6dedb"/><path d="M429.43,612.75L426.82,610.35L431.27,608.41L433.92,611.13Z" fill="#f6ddda"/><path d="M422.37,612.29L419.8,610.12L424.21,607.96L426.82,610.35Z" fill="#f7e1de"/><path d="M415.4,612.23L412.88,609.92L417.23,607.75L419.8,610.12Z" fill="#f9e6e4"/><path d="M408.54,611.98L406.05,609.47L410.35,607.42L412.88,609.92Z" fill="#faebea"/><path d="M401.76,611.44L399.32,608.83L403.57,606.88L406.05,609.47Z" fill="#fbefee"/><path d="M395.08,610.8L392.68,608.16L396.87,606.21L399.32,608.83Z" fill="#fcf3f2"/><path d="M388.51,610.24L386.14,607.57L390.28,605.52L392.68,608.16Z" fill="#fdf7f6"/><path d="M382.04,609.87L379.72,607.18L383.78,604.91L386.14,607.57Z" fill="#fefcfc"/><path d="M468.28,625.79L465.58,622.05L470.22,620.5L472.95,624.21Z" fill="#fefbfb"/><path d="M460.93,623.62L458.24,620.01L462.86,618.45L465.58,622.05Z" fill="#fcf4f3"/><path d="M453.63,621.58L450.96,618.01L455.55,616.45L458.24,620.01Z" fill="#fbeeec"/><path d="M446.37,619.52L443.73,615.98L448.29,614.48L450.96,618.01Z" fill="#f9e8e6"/><path d="M439.18,617.35L436.55,614.06L441.08,612.61L443.73,615.98Z" fill="#f8e2df"/><path d="M432.03,615.45L429.43,612.75L433.92,611.13L436.55,614.06Z" fill="#f7dfdc"/><path d="M424.94,614.46L422.37,612.29L426.82,610.35L429.43,612.75Z" fill="#f7e0dd"/><path d="M417.93,614.34L415.4,612.23L419.8,610.12L422.37,612.29Z" fill="#f8e5e2"/><path d="M411.02,614.34L408.54,611.98L412.88,609.92L415.4,612.23Z" fill="#faebe9"/><path d="M404.21,614.01L401.76,611.44L406.05,609.47L408.54,611.98Z" fill="#fbefee"/><path d="M397.49,613.44L395.08,610.8L399.32,608.83L401.76,611.44Z" fill="#fcf3f2"/><path d="M390.87,612.9L388.51,610.24L392.68,608.16L395.08,610.8Z" fill="#fdf7f6"/><path d="M384.36,612.55L382.04,609.87L386.14,607.57L388.51,610.24Z" fill="#fefcfc"/><path d="M463.61,627.37L460.93,623.62L465.58,622.05L468.28,625.79Z" fill="#fefbfb"/><path d="M456.29,625.2L453.63,621.58L458.24,620.01L460.93,623.62Z" fill="#fcf4f3"/><path d="M449.01,623.14L446.37,619.52L450.96,618.01L453.63,621.58Z" fill="#fbeeed"/><path d="M441.79,620.95L439.18,617.35L443.73,615.98L446.37,619.52Z" fill="#f9e8e5"/><path d="M434.63,618.68L432.03,615.45L436.55,614.06L439.18,617.35Z" fill="#f7e2df"/><path d="M427.51,617.01L424.94,614.46L429.43,612.75L432.03,615.45Z" fill="#f7dfdc"/><path d="M420.45,616.46L417.93,614.34L422.37,612.29L424.94,614.46Z" fill="#f8e2e0"/><path d="M413.5,616.55L411.02,614.34L415.4,612.23L417.93,614.34Z" fill="#f9e9e7"/><path d="M406.65,616.48L404.21,614.01L408.54,611.98L411.02,614.34Z" fill="#fbefed"/><path d="M399.89,616.06L397.49,613.44L401.76,611.44L404.21,614.01Z" fill="#fcf3f2"/><path d="M393.23,615.57L390.87,612.9L395.08,610.8L397.49,613.44Z" fill="#fdf7f6"/><path d="M386.68,615.23L384.36,612.55L388.51,610.24L390.87,612.9Z" fill="#fefcfc"/><path d="M458.93,628.95L456.29,625.2L460.93,623.62L463.61,627.37Z" fill="#fefbfb"/><path d="M451.64,626.79L449.01,623.14L453.63,621.58L456.29,625.2Z" fill="#fcf5f4"/><path d="M444.4,624.67L441.79,620.95L446.37,619.52L449.01,623.14Z" fill="#fbeeec"/><path d="M437.21,622.36L434.63,618.68L439.18,617.35L441.79,620.95Z" fill="#f9e7e5"/><path d="M430.07,620.18L427.51,617.01L432.03,615.45L434.63,618.68Z" fill="#f7e2df"/><path d="M422.98,618.94L420.45,616.46L424.94,614.46L427.51,617.01Z" fill="#f7e1df"/><path d="M415.98,618.77L413.5,616.55L417.93,614.34L420.45,616.46Z" fill="#f9e7e4"/><path d="M409.09,618.86L406.65,616.48L411.02,614.34L413.5,616.55Z" fill="#faedec"/><path d="M402.29,618.64L399.89,616.06L404.21,614.01L406.65,616.48Z" fill="#fcf3f1"/><path d="M395.59,618.23L393.23,615.57L397.49,613.44L399.89,616.06Z" fill="#fdf7f6"/><path d="M389,617.92L386.68,615.23L390.87,612.9L393.23,615.57Z" fill="#fefcfc"/><path d="M454.26,630.53L451.64,626.79L456.29,625.2L458.93,628.95Z" fill="#fefbfb"/><path d="M446.99,628.37L444.4,624.67L449.01,623.14L451.64,626.79Z" fill="#fcf5f4"/><path d="M439.78,626.19L437.21,622.36L441.79,620.95L444.4,624.67Z" fill="#fbeeec"/><path d="M432.62,623.89L430.07,620.18L434.63,618.68L437.21,622.36Z" fill="#f9e7e5"/><path d="M425.51,622.05L422.98,618.94L427.51,617.01L430.07,620.18Z" fill="#f8e3e0"/><path d="M418.47,621.28L415.98,618.77L420.45,616.46L422.98,618.94Z" fill="#f8e5e3"/><path d="M411.53,621.26L409.09,618.86L413.5,616.55L415.98,618.77Z" fill="#faecea"/><path d="M404.7,621.19L402.29,618.64L406.65,616.48L409.09,618.86Z" fill="#fcf2f1"/><path d="M397.96,620.88L395.59,618.23L399.89,616.06L402.29,618.64Z" fill="#fdf7f6"/><path d="M391.32,620.6L389,617.92L393.23,615.57L395.59,618.23Z" fill="#fefcfc"/><path d="M449.59,632.11L446.99,628.37L451.64,626.79L454.26,630.53Z" fill="#fefcfb"/><path d="M442.35,629.96L439.78,626.19L444.4,624.67L446.99,628.37Z" fill="#fcf5f4"/><path d="M435.17,627.77L432.62,623.89L437.21,622.36L439.78,626.19Z" fill="#fbeeec"/><path d="M428.03,625.68L425.51,622.05L430.07,620.18L432.62,623.89Z" fill="#f9e8e6"/><path d="M420.96,624.3L418.47,621.28L422.98,618.94L425.51,622.05Z" fill="#f9e6e4"/><path d="M413.98,623.85L411.53,621.26L415.98,618.77L418.47,621.28Z" fill="#faebe9"/><path d="M407.1,623.75L404.7,621.19L409.09,618.86L411.53,621.26Z" fill="#fbf1f0"/><path d="M400.32,623.53L397.96,620.88L402.29,618.64L404.7,621.19Z" fill="#fdf7f6"/><path d="M393.64,623.28L391.32,620.6L395.59,618.23L397.96,620.88Z" fill="#fefcfc"/><path d="M444.91,633.69L442.35,629.96L446.99,628.37L449.59,632.11Z" fill="#fefcfb"/><path d="M437.7,631.56L435.17,627.77L439.78,626.19L442.35,629.96Z" fill="#fcf5f4"/><path d="M430.55,629.49L428.03,625.68L432.62,623.89L435.17,627.77Z" fill="#fbefed"/><path d="M423.45,627.74L420.96,624.3L425.51,622.05L428.03,625.68Z" fill="#faebe9"/><path d="M416.43,626.77L413.98,623.85L418.47,621.28L420.96,624.3Z" fill="#faecea"/><path d="M409.5,626.41L407.1,623.75L411.53,621.26L413.98,623.85Z" fill="#fbf1ef"/><path d="M402.68,626.18L400.32,623.53L404.7,621.19L407.1,623.75Z" fill="#fdf7f6"/><path d="M395.96,625.97L393.64,623.28L397.96,620.88L400.32,623.53Z" fill="#fefcfc"/><path d="M440.24,635.27L437.7,631.56L442.35,629.96L444.91,633.69Z" fill="#fefcfb"/><path d="M433.06,633.21L430.55,629.49L435.17,627.77L437.7,631.56Z" fill="#fdf5f5"/><path d="M425.94,631.35L423.45,627.74L428.03,625.68L430.55,629.49Z" fill="#fbf0ef"/><path d="M418.88,629.97L416.43,626.77L420.96,624.3L423.45,627.74Z" fill="#fbefed"/><path d="M411.91,629.24L409.5,626.41L413.98,623.85L416.43,626.77Z" fill="#fcf2f0"/><path d="M405.04,628.88L402.68,626.18L407.1,623.75L409.5,626.41Z" fill="#fdf7f6"/><path d="M398.28,628.65L395.96,625.97L400.32,623.53L402.68,626.18Z" fill="#fefcfc"/><path d="M435.57,636.85L433.06,633.21L437.7,631.56L440.24,635.27Z" fill="#fefcfc"/><path d="M428.42,634.91L425.94,631.35L430.55,629.49L433.06,633.21Z" fill="#fdf7f6"/><path d="M421.33,633.31L418.88,629.97L423.45,627.74L425.94,631.35Z" fill="#fcf3f2"/><path d="M414.32,632.23L411.91,629.24L416.43,626.77L418.88,629.97Z" fill="#fcf4f3"/><path d="M407.41,631.63L405.04,628.88L409.5,626.41L411.91,629.24Z" fill="#fdf7f6"/><path d="M400.6,631.33L398.28,628.65L402.68,626.18L405.04,628.88Z" fill="#fefcfc"/><path d="M430.89,638.43L428.42,634.91L433.06,633.21L435.57,636.85Z" fill="#fefcfc"/><path d="M423.78,636.64L421.33,633.31L425.94,631.35L428.42,634.91Z" fill="#fdf8f7"/><path d="M416.73,635.3L414.32,632.23L418.88,629.97L421.33,633.31Z" fill="#fdf7f6"/><path d="M409.77,634.45L407.41,631.63L411.91,629.24L414.32,632.23Z" fill="#fdf8f8"/><path d="M402.92,634.02L400.6,631.33L405.04,628.88L407.41,631.63Z" fill="#fefcfc"/><path d="M426.22,640.01L423.78,636.64L428.42,634.91L430.89,638.43Z" fill="#fefdfc"/><path d="M419.14,638.41L416.73,635.3L421.33,633.31L423.78,636.64Z" fill="#fefaf9"/><path d="M412.14,637.31L409.77,634.45L414.32,632.23L416.73,635.3Z" fill="#fefaf9"/><path d="M405.24,636.7L402.92,634.02L407.41,631.63L409.77,634.45Z" fill="#fefdfd"/><path d="M421.55,641.59L419.14,638.41L423.78,636.64L426.22,640.01Z" fill="#fffdfd"/><path d="M414.51,640.21L412.14,637.31L416.73,635.3L419.14,638.41Z" fill="#fefcfb"/><path d="M407.56,639.38L405.24,636.7L409.77,634.45L412.14,637.31Z" fill="#fffdfd"/><path d="M416.87,643.17L414.51,640.21L419.14,638.41L421.55,641.59Z" fill="#fffefe"/><path d="M409.88,642.07L407.56,639.38L412.14,637.31L414.51,640.21Z" fill="#fffefe"/><path d="M412.2,644.75L409.88,642.07L414.51,640.21L416.87,643.17Z" fill="#ffffff"/></g>
<line x1="375.1" y1="573.5" x2="440.8" y2="556" stroke="#1a1a1a" stroke-width="0.75"/>
<line x1="440.8" y1="556" x2="485.3" y2="589" stroke="#1a1a1a" stroke-width="0.75"/>
<line x1="375.1" y1="573.5" x2="411.3" y2="611.5" stroke="#1a1a1a" stroke-width="0.75"/>
<line x1="411.3" y1="611.5" x2="485.3" y2="589" stroke="#1a1a1a" stroke-width="0.75"/>
<line x1="411.3" y1="611.5" x2="413.1" y2="678" stroke="#1a1a1a" stroke-width="0.75"/>
<line x1="375.1" y1="573.5" x2="379.7" y2="635.5" stroke="#1a1a1a" stroke-width="0.75"/>
<line x1="485.3" y1="589" x2="479.3" y2="653.1" stroke="#1a1a1a" stroke-width="0.75"/>
<line x1="379.7" y1="635.5" x2="413.1" y2="678" stroke="#1a1a1a" stroke-width="0.75"/>
<line x1="413.1" y1="678" x2="479.3" y2="653.1" stroke="#1a1a1a" stroke-width="0.75"/>
<line x1="372.9" y1="573.5" x2="375.1" y2="573.5" stroke="#222" stroke-width="0.6"/>
<text x="370.5" y="575.4" font-size="5.38" fill="#333" text-anchor="end" textLength="4.78" lengthAdjust="spacingAndGlyphs">20</text>
<line x1="373.48" y1="581.25" x2="375.68" y2="581.25" stroke="#222" stroke-width="0.6"/>
<text x="371.07" y="583.15" font-size="5.38" fill="#333" text-anchor="end" textLength="4.78" lengthAdjust="spacingAndGlyphs">15</text>
<line x1="374.05" y1="589" x2="376.25" y2="589" stroke="#222" stroke-width="0.6"/>
<text x="371.65" y="590.9" font-size="5.38" fill="#333" text-anchor="end" textLength="4.78" lengthAdjust="spacingAndGlyphs">10</text>
<line x1="374.62" y1="596.75" x2="376.82" y2="596.75" stroke="#222" stroke-width="0.6"/>
<text x="372.22" y="598.65" font-size="5.38" fill="#333" text-anchor="end" textLength="2.39" lengthAdjust="spacingAndGlyphs">5</text>
<line x1="375.2" y1="604.5" x2="377.4" y2="604.5" stroke="#222" stroke-width="0.6"/>
<text x="372.8" y="606.4" font-size="5.38" fill="#333" text-anchor="end" textLength="2.39" lengthAdjust="spacingAndGlyphs">0</text>
<line x1="375.78" y1="612.25" x2="377.98" y2="612.25" stroke="#222" stroke-width="0.6"/>
<text x="373.38" y="614.15" font-size="5.38" fill="#333" text-anchor="end" textLength="3.82" lengthAdjust="spacingAndGlyphs">-5</text>
<line x1="376.35" y1="620" x2="378.55" y2="620" stroke="#222" stroke-width="0.6"/>
<text x="373.95" y="621.9" font-size="5.38" fill="#333" text-anchor="end" textLength="6.22" lengthAdjust="spacingAndGlyphs">-10</text>
<line x1="376.93" y1="627.75" x2="379.12" y2="627.75" stroke="#222" stroke-width="0.6"/>
<text x="374.52" y="629.65" font-size="5.38" fill="#333" text-anchor="end" textLength="6.22" lengthAdjust="spacingAndGlyphs">-15</text>
<line x1="377.5" y1="635.5" x2="379.7" y2="635.5" stroke="#222" stroke-width="0.6"/>
<text x="375.1" y="637.4" font-size="5.38" fill="#333" text-anchor="end" textLength="6.22" lengthAdjust="spacingAndGlyphs">-20</text>
<line x1="379.7" y1="635.5" x2="377.9" y2="636.7" stroke="#222" stroke-width="0.6"/>
<text x="376.1" y="641.9" font-size="5.38" fill="#333" text-anchor="end" textLength="9.57" lengthAdjust="spacingAndGlyphs">2000</text>
<line x1="388.05" y1="646.12" x2="386.25" y2="647.33" stroke="#222" stroke-width="0.6"/>
<text x="384.45" y="652.52" font-size="5.38" fill="#333" text-anchor="end" textLength="9.57" lengthAdjust="spacingAndGlyphs">1000</text>
<line x1="396.4" y1="656.75" x2="394.6" y2="657.95" stroke="#222" stroke-width="0.6"/>
<text x="392.8" y="663.15" font-size="5.38" fill="#333" text-anchor="end" textLength="7.17" lengthAdjust="spacingAndGlyphs">500</text>
<line x1="404.75" y1="667.38" x2="402.95" y2="668.58" stroke="#222" stroke-width="0.6"/>
<text x="401.15" y="673.77" font-size="5.38" fill="#333" text-anchor="end" textLength="7.17" lengthAdjust="spacingAndGlyphs">250</text>
<line x1="413.1" y1="678" x2="411.3" y2="679.2" stroke="#222" stroke-width="0.6"/>
<text x="409.5" y="684.4" font-size="5.38" fill="#333" text-anchor="end" textLength="2.39" lengthAdjust="spacingAndGlyphs">0</text>
<line x1="413.1" y1="678" x2="413.7" y2="680" stroke="#222" stroke-width="0.6"/>
<text x="414.9" y="688.2" font-size="5.38" fill="#333" text-anchor="middle" textLength="2.39" lengthAdjust="spacingAndGlyphs">0</text>
<line x1="429.65" y1="671.77" x2="430.25" y2="673.77" stroke="#222" stroke-width="0.6"/>
<text x="431.45" y="681.98" font-size="5.38" fill="#333" text-anchor="middle" textLength="8.37" lengthAdjust="spacingAndGlyphs">6.25</text>
<line x1="446.2" y1="665.55" x2="446.8" y2="667.55" stroke="#222" stroke-width="0.6"/>
<text x="448" y="675.75" font-size="5.38" fill="#333" text-anchor="middle" textLength="8.37" lengthAdjust="spacingAndGlyphs">12.5</text>
<line x1="462.75" y1="659.33" x2="463.35" y2="661.33" stroke="#222" stroke-width="0.6"/>
<text x="464.55" y="669.53" font-size="5.38" fill="#333" text-anchor="middle" textLength="4.78" lengthAdjust="spacingAndGlyphs">25</text>
<line x1="479.3" y1="653.1" x2="479.9" y2="655.1" stroke="#222" stroke-width="0.6"/>
<text x="481.1" y="663.3" font-size="5.38" fill="#333" text-anchor="middle" textLength="4.78" lengthAdjust="spacingAndGlyphs">50</text>
<text x="360.6" y="604.3" font-size="8.25" fill="#222" text-anchor="middle" transform="rotate(-90 360.6 604.3)" textLength="44.5" lengthAdjust="spacingAndGlyphs">Synergy score</text>
<text x="372" y="664.6" font-size="8.25" fill="#222" text-anchor="middle" transform="rotate(49 372 664.6)" textLength="29" lengthAdjust="spacingAndGlyphs">AraC(nM)</text>
<text x="459.2" y="682.6" font-size="8.25" fill="#222" text-anchor="middle" transform="rotate(-21.7 459.2 682.6)" textLength="46" lengthAdjust="spacingAndGlyphs">Trametinib(nM)</text>
<line x1="0" y1="0.7" x2="520" y2="0.7" stroke="#4a4a4a" stroke-width="1.5"/>
<line x1="0.6" y1="0" x2="0.6" y2="698" stroke="#111" stroke-width="1.2"/>
<line x1="519.4" y1="0" x2="519.4" y2="698" stroke="#111" stroke-width="1.2"/>
<line x1="0" y1="697.3" x2="520" y2="697.3" stroke="#111" stroke-width="1.4"/>
</svg></body></html>
